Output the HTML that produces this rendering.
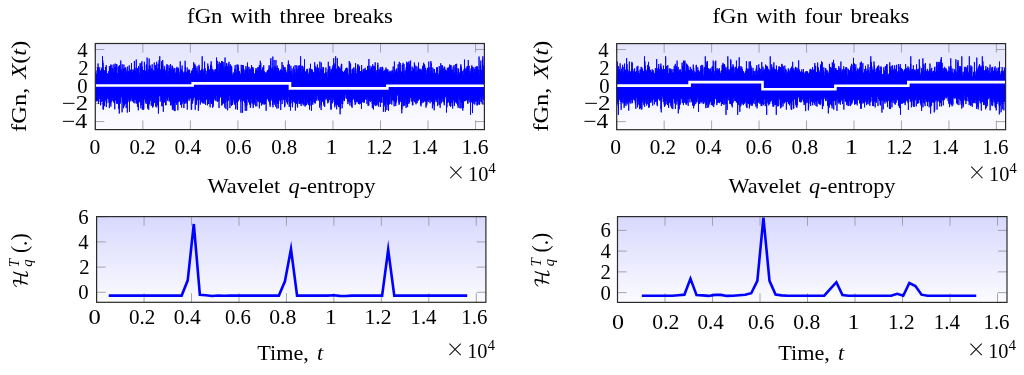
<!DOCTYPE html>
<html><head><meta charset="utf-8"><title>fGn with breaks and wavelet q-entropy</title>
<style>html,body{margin:0;padding:0;background:#fff;overflow:hidden}svg{display:block}body{position:relative;width:1024px;height:375px}</style>
</head><body>
<svg width="1024" height="375" viewBox="0 0 1024 375">
<defs>
<linearGradient id="gT" x1="0" y1="0" x2="0" y2="1">
<stop offset="0" stop-color="#e5e5fd"/><stop offset="1" stop-color="#fcfcff"/></linearGradient>
<linearGradient id="gB" x1="0" y1="0" x2="0" y2="1">
<stop offset="0" stop-color="#d8d8fe"/><stop offset="1" stop-color="#fbfbff"/></linearGradient>
<clipPath id="cTL"><rect x="95.3" y="43.5" width="389.1" height="86.1"/></clipPath>
<clipPath id="cTR"><rect x="616.7" y="43.6" width="388.9" height="86.1"/></clipPath>
<clipPath id="cBL"><rect x="96.6" y="216.6" width="389.3" height="85.7"/></clipPath>
<clipPath id="cBR"><rect x="617.5" y="216.6" width="389.5" height="85.8"/></clipPath>
</defs>
<rect width="1024" height="375" fill="#fff"/>
<rect x="95.3" y="43.5" width="389.1" height="86.1" fill="url(#gT)"/>
<path d="M95.3 129.6V120.5M95.3 43.5V52.6M142.83 129.6V120.5M142.83 43.5V52.6M190.36 129.6V120.5M190.36 43.5V52.6M237.9 129.6V120.5M237.9 43.5V52.6M285.43 129.6V120.5M285.43 43.5V52.6M332.96 129.6V120.5M332.96 43.5V52.6M380.49 129.6V120.5M380.49 43.5V52.6M428.02 129.6V120.5M428.02 43.5V52.6M475.56 129.6V120.5M475.56 43.5V52.6M95.3 121.59H104.4M484.4 121.59H475.3M95.3 103.57H104.4M484.4 103.57H475.3M95.3 85.55H104.4M484.4 85.55H475.3M95.3 67.53H104.4M484.4 67.53H475.3M95.3 49.51H104.4M484.4 49.51H475.3" stroke="#9696a0" stroke-width="0.85" fill="none"/>
<g clip-path="url(#cTL)"><path transform="matrix(0.023766 0 0 0.25 95.3 85.55)" vector-effect="non-scaling-stroke" d="M0-1l1-46 1 5 1 59 1-7 1 8 1-38 1 22 1-28 1 89 1-117 1 57 1-26 1 28 1 8 1-29 1-12 1 35 1-2 1-28 1 53 1 22 1-66 1 37 1 43 1-38 1-12 1 25 1 10 1-52 1-30 1 39 1 17 1-38 1-12 1 35 1-29 1-17 1 43 1 21 1-40 1 4 1-30 1 82 1-21 1 6 1 30 1-63 1-14 1 43 1-72 1 19 1 7 1 7 1-19 1 79 1-67 1 0 1 82 1-73 1 21 1-36 1 42 1-14 1-13 1 42 1-50 1 24 1-21 1 35 1-55 1 16 1 27 1-28 1-21 1-18 1 115 1-84 1 14 1 19 1 31 1-77 1 86 1-62 1-26 1 100 1-45 1 35 1-53 1-44 1-17 1 130 1-41 1-44 1-30 1 40 1 40 1-36 1 11 1 6 1 18 1-38 1 2 1 14 1 5 1 36 1-27 1-58 1 48 1 42 1-95 1 28 1-54 1 70 1 18 1 34 1-95 1-43 1 116 1-6 1-42 1 48 1-19 1 3 1-19 1-30 1 36 1-30 1 45 1-25 1 84 1-23 1-77 1 47 1-40 1 1 1-26 1 17 1-7 1 39 1 20 1 1 1-8 1 22 1-20 1-16 1-12 1 21 1 54 1-64 1-10 1-29 1 17 1 42 1 3 1-94 1 43 1-37 1-10 1 101 1-41 1-3 1-3 1 0 1 12 1 1 1 57 1-45 1 20 1-30 1 20 1-37 1-7 1 17 1 0 1 8 1 18 1-9 1 11 1-30 1 13 1-20 1 65 1-75 1 56 1-1 1-18 1 12 1-29 1 30 1 17 1-8 1-74 1 43 1 42 1-40 1 53 1-114 1 113 1-68 1-3 1 69 1-60 1-24 1 18 1 7 1-23 1 26 1-6 1 16 1-26 1 54 1-59 1 44 1 20 1-50 1-45 1 25 1 51 1-42 1 40 1-12 1-7 1 82 1-86 1 42 1-11 1 26 1 2 1-20 1-60 1-29 1 58 1-38 1 46 1 56 1-70 1-10 1 30 1-25 1-10 1 50 1 21 1-43 1-1 1 5 1-46 1-25 1 73 1-38 1-8 1 8 1-12 1 49 1-38 1-44 1 41 1 49 1-42 1-22 1 30 1 32 1-72 1 96 1-60 1 18 1 40 1-83 1 30 1 52 1-61 1 36 1 50 1-41 1-33 1-13 1 16 1 4 1-14 1 23 1-47 1 35 1-5 1-9 1 55 1-12 1-76 1 41 1 21 1-22 1 28 1-26 1 33 1-32 1 63 1-100 1 64 1 36 1-46 1 5 1-18 1 44 1-53 1-103 1 161 1-56 1 23 1-18 1 69 1-23 1-55 1 17 1-57 1 80 1-30 1-94 1 126 1 5 1-30 1 1 1-31 1 25 1 30 1-33 1-83 1 46 1 139 1-90 1 25 1-51 1 27 1-72 1 34 1 2 1 24 1 7 1-13 1-32 1 26 1 30 1-56 1 37 1 10 1 24 1-8 1 3 1 74 1-131 1 16 1 26 1-43 1 21 1 2 1 98 1-77 1-26 1-37 1-8 1 14 1 89 1 35 1-95 1 19 1-32 1 37 1-12 1 59 1-66 1 30 1-27 1-4 1 20 1-15 1 11 1-26 1 9 1 36 1 1 1-80 1 63 1-37 1 21 1 32 1 7 1-30 1-5 1-12 1 64 1-23 1-17 1-58 1 136 1-96 1 33 1-33 1 32 1-29 1-42 1 42 1-3 1 2 1 39 1-45 1 26 1 21 1-27 1 7 1-34 1 27 1 17 1-68 1 16 1-9 1 22 1 25 1 10 1-4 1-42 1 28 1 55 1-50 1 47 1-54 1 47 1 2 1-47 1 7 1 54 1-83 1-48 1 125 1-113 1 86 1-7 1-11 1 43 1-93 1 27 1 43 1-17 1 43 1-40 1-44 1 91 1-44 1-20 1-31 1-10 1 62 1 9 1-40 1 27 1-1 1-48 1-21 1 49 1 16 1-27 1 85 1-64 1 35 1-118 1 57 1 20 1 12 1 79 1-110 1-32 1 81 1-48 1-2 1 78 1-85 1-14 1 38 1 10 1-29 1 80 1-56 1-33 1 79 1-77 1 48 1 57 1-67 1 29 1-44 1 51 1-76 1 61 1-37 1 32 1-9 1-52 1 34 1 21 1 29 1-83 1 15 1 36 1-19 1 43 1 0 1-7 1-40 1 2 1 36 1-51 1-2 1 21 1-30 1 46 1-6 1-20 1 17 1-28 1 70 1-92 1 76 1-21 1 41 1-68 1-23 1 7 1 8 1 82 1-26 1-11 1 16 1-70 1 32 1 7 1-18 1 50 1-2 1-1 1-47 1 5 1-8 1-17 1 83 1-27 1-24 1 51 1-28 1-53 1-3 1 1 1 36 1 8 1-44 1 50 1-25 1-33 1 58 1 8 1-21 1-20 1 3 1 12 1-14 1 74 1-26 1-35 1 38 1 14 1-5 1-10 1-25 1 29 1-43 1-50 1 63 1-49 1 34 1 48 1-29 1 25 1-60 1 65 1-84 1 25 1 89 1-96 1-26 1 80 1-61 1 96 1-71 1 66 1-74 1 78 1 29 1-104 1-64 1 98 1-48 1 24 1 15 1-32 1-35 1 98 1-61 1 7 1 61 1-104 1-12 1 100 1-93 1 58 1 8 1-57 1 43 1-3 1-41 1 8 1 13 1 79 1 6 1-93 1 71 1-37 1 42 1-31 1 38 1-100 1 91 1-31 1 2 1-47 1 90 1-48 1 6 1-25 1 2 1 32 1-24 1 21 1-29 1 20 1 18 1-21 1-13 1-66 1 95 1-27 1-40 1 121 1-11 1-19 1-37 1-88 1 71 1-28 1 49 1 76 1-5 1-114 1 29 1 50 1-82 1 91 1-92 1-11 1 76 1 12 1-67 1 67 1-68 1 71 1-69 1 25 1 18 1 16 1-39 1 73 1-56 1 5 1-37 1 66 1-102 1 70 1 28 1-86 1-10 1 63 1 25 1-32 1 25 1-13 1-64 1 40 1 8 1-7 1 14 1-31 1-1 1 43 1-17 1-79 1 69 1 20 1-76 1 70 1 38 1-61 1 54 1-14 1-28 1 15 1 22 1-7 1 1 1-60 1 65 1-5 1-90 1 89 1-70 1 6 1 50 1 44 1-65 1-7 1-10 1 31 1-39 1-7 1 84 1-85 1 43 1 25 1-8 1-75 1 30 1 95 1-64 1 8 1 1 1 12 1 32 1-80 1 62 1-19 1 8 1 4 1-50 1 12 1 36 1 9 1-16 1-49 1 29 1-4 1 19 1-2 1-16 1 70 1-118 1 82 1-8 1-65 1 38 1 7 1 21 1 33 1-59 1-35 1 72 1-78 1 86 1-14 1-42 1 17 1-24 1 49 1 10 1 29 1-23 1-4 1 12 1-60 1 34 1 45 1-153 1 114 1 14 1-85 1 2 1 79 1 11 1-16 1-73 1 50 1 17 1-27 1-42 1 89 1-35 1 34 1-121 1 12 1 29 1 38 1-28 1 95 1-81 1 55 1-1 1-21 1-12 1-32 1-4 1 15 1 41 1-55 1 27 1-44 1 71 1 64 1-79 1-90 1 58 1 23 1-37 1 13 1 1 1 34 1-21 1-4 1 29 1 16 1-43 1-28 1 11 1 5 1 0 1-71 1 79 1-27 1-31 1 65 1-7 1-27 1-22 1 47 1-1 1 9 1 44 1-79 1 47 1 50 1-54 1 54 1-25 1-35 1 32 1-68 1 87 1-59 1-10 1-31 1 18 1 24 1 5 1 5 1-41 1 61 1-40 1 21 1-12 1 18 1-82 1 95 1-31 1-1 1-11 1 5 1 1 1-19 1 85 1-52 1 43 1-50 1 48 1-8 1-30 1-50 1 28 1 9 1-37 1 80 1 39 1-57 1-5 1-52 1-31 1 119 1-130 1 31 1 25 1 16 1-71 1 81 1 19 1-21 1 51 1-63 1 20 1-15 1-1 1 49 1-82 1 80 1-65 1 85 1-67 1 41 1-30 1 24 1 52 1-36 1-41 1-19 1 72 1 22 1-43 1-22 1 14 1 6 1-57 1-4 1 8 1 58 1-35 1 9 1 42 1-79 1 27 1 20 1-65 1 22 1-3 1-12 1 17 1 68 1-30 1-48 1 61 1-28 1-12 1-36 1 5 1 14 1 37 1-38 1 13 1 24 1-52 1 30 1 42 1-69 1 52 1-29 1 73 1-52 1 32 1 1 1 32 1-139 1 79 1-14 1-29 1 42 1-22 1 64 1-53 1 21 1-31 1 10 1 54 1 16 1-29 1-60 1 11 1 1 1 83 1 23 1-71 1-10 1 9 1-32 1 18 1 34 1-10 1-35 1 2 1 5 1-80 1 87 1-13 1 38 1-22 1-30 1-1 1 24 1-19 1 12 1 66 1 48 1-191 1 51 1 30 1 58 1-16 1-90 1 141 1-84 1-41 1 25 1-21 1 30 1-86 1 117 1 12 1-56 1-40 1 51 1-38 1 54 1 23 1-89 1-6 1 2 1 67 1 25 1 0 1-32 1-28 1 3 1 66 1-56 1 6 1-2 1 4 1 6 1-27 1 16 1-4 1 32 1-38 1 18 1 68 1-89 1 26 1-41 1 38 1-3 1-10 1 7 1 15 1 46 1-124 1 117 1-42 1-34 1 9 1-6 1-7 1-17 1 33 1-90 1 135 1-43 1 20 1 7 1-29 1-40 1 74 1 0 1-49 1 6 1-48 1 32 1 27 1 19 1-18 1 13 1 41 1-47 1 6 1 2 1 7 1-73 1 34 1-8 1 53 1 14 1-25 1-18 1 20 1-6 1-39 1 23 1 44 1-19 1 8 1-29 1 46 1-34 1-30 1 23 1 32 1-10 1-25 1-13 1-12 1 34 1 40 1-94 1 39 1-4 1 4 1 46 1-25 1-20 1-26 1 33 1 109 1-99 1-20 1-32 1 20 1-61 1 36 1 3 1 14 1 79 1-76 1 8 1 39 1-38 1 6 1 30 1-12 1 5 1-17 1 23 1-34 1 85 1-56 1 48 1-41 1-35 1 17 1 5 1-6 1-52 1 92 1-68 1 82 1-36 1-22 1 35 1-36 1-18 1 66 1-38 1 10 1 53 1-60 1 21 1-73 1 76 1-88 1 76 1-84 1 48 1 2 1-12 1-3 1-17 1-11 1 71 1 31 1 48 1-78 1-39 1 13 1 9 1 16 1 10 1-12 1-23 1 73 1-85 1 75 1-45 1 17 1-9 1 23 1 4 1-32 1 29 1-121 1 98 1 9 1-4 1 18 1 47 1-75 1-19 1 62 1-52 1 42 1-41 1-13 1-4 1 1 1 39 1-54 1 46 1-28 1-12 1 35 1 33 1-65 1 60 1-8 1 7 1-67 1 35 1 71 1-102 1-46 1 10 1 81 1-22 1-15 1-13 1 29 1 39 1-63 1 4 1 67 1-33 1-22 1 9 1-18 1-9 1 9 1 22 1 43 1-68 1-27 1-19 1 69 1 0 1-51 1 0 1 38 1-13 1 51 1-47 1 49 1-24 1 0 1 12 1 56 1-44 1-40 1 14 1 11 1-28 1-9 1-6 1 57 1-28 1 12 1 19 1 21 1-48 1 26 1-103 1 77 1 4 1 6 1-78 1 97 1-27 1 21 1-22 1-3 1-39 1 86 1-48 1-56 1 73 1-11 1 24 1 59 1-86 1-44 1 57 1 47 1-73 1 7 1-32 1 3 1 41 1-23 1 75 1-100 1 32 1-31 1 1 1 46 1-4 1 25 1 40 1-66 1-10 1 43 1-62 1 21 1-12 1 42 1 34 1-87 1 6 1 24 1 11 1-5 1-5 1 13 1 51 1-95 1 78 1-40 1-1 1-19 1 64 1-97 1 19 1-4 1-17 1 71 1 80 1-119 1-34 1 6 1 58 1-16 1-12 1 71 1-39 1-1 1-76 1 77 1-77 1 54 1 58 1-134 1 109 1-54 1-37 1 76 1 24 1-78 1 34 1 44 1-5 1-24 1-46 1 43 1-32 1-35 1 14 1-6 1 7 1 97 1-97 1 31 1 15 1 33 1 17 1-16 1-37 1 39 1-12 1-7 1-44 1 33 1-5 1-50 1 56 1-32 1 57 1-47 1 7 1-2 1 22 1 19 1-25 1 6 1-51 1 4 1 72 1-62 1 37 1-32 1 32 1 34 1-85 1 20 1 57 1 23 1-47 1 22 1-28 1-33 1-29 1 62 1-59 1 7 1 55 1 42 1-86 1 8 1-60 1 32 1 22 1-31 1 94 1-43 1 16 1-69 1 40 1 125 1-152 1 78 1-58 1 43 1-25 1-13 1 15 1 39 1-80 1 34 1 14 1-25 1 43 1-83 1 57 1-5 1 1 1 43 1 9 1-48 1-5 1-34 1 31 1 53 1-56 1-10 1-6 1 23 1 53 1-81 1 64 1-44 1 73 1-80 1 53 1-64 1-23 1 20 1 80 1-7 1-3 1-52 1 11 1 6 1-5 1-9 1-3 1-35 1 59 1-9 1 71 1-18 1-22 1 17 1-48 1-28 1 51 1 1 1 1 1-22 1 23 1-33 1 4 1-1 1-14 1 25 1-4 1-55 1 61 1-28 1 25 1 18 1 0 1 12 1-28 1 21 1-6 1-57 1 47 1-44 1 30 1-20 1 50 1-26 1-85 1 62 1-6 1 26 1-21 1 69 1-11 1-44 1-13 1 42 1-7 1 6 1-6 1 34 1 8 1-46 1 57 1-26 1-11 1 13 1-44 1 24 1-13 1 32 1-9 1-43 1 5 1 29 1-29 1 6 1 1 1-49 1 69 1-28 1 0 1 22 1 32 1-64 1 15 1 7 1 1 1 0 1 32 1-41 1 72 1-61 1 51 1-40 1-36 1 33 1 8 1-34 1 27 1 5 1-1 1-65 1 29 1 6 1 58 1-62 1 65 1-61 1 55 1-105 1 125 1-100 1 15 1 88 1-53 1-57 1 10 1 96 1-39 1 22 1-5 1-13 1-85 1 59 1 12 1 4 1-35 1 0 1 55 1-82 1 87 1-27 1-25 1-43 1 70 1-22 1-34 1 23 1-17 1 3 1 26 1-12 1-10 1 32 1-55 1 122 1-36 1-81 1 35 1 36 1-35 1-24 1 56 1-45 1 30 1 0 1-1 1-41 1 77 1-26 1-35 1 64 1 12 1-73 1 19 1 5 1-10 1 38 1-133 1 134 1-19 1 34 1-35 1-66 1 52 1-20 1 37 1-79 1 57 1 48 1-69 1 39 1-34 1 16 1-4 1 4 1 36 1 21 1-85 1 38 1-15 1 26 1 53 1-25 1-92 1 75 1-14 1 37 1-32 1-5 1-5 1-5 1 19 1-2 1-19 1-12 1 16 1-64 1 52 1 2 1 28 1-58 1 70 1 21 1-22 1-55 1 61 1-84 1 45 1 51 1-44 1-69 1 91 1 15 1-62 1-27 1 10 1 46 1-18 1-5 1-29 1-33 1 77 1-48 1 56 1-32 1 52 1-5 1-41 1 45 1-61 1 49 1-21 1 5 1 9 1-16 1-32 1-70 1 147 1-51 1 16 1 26 1-41 1 40 1-28 1-45 1 112 1-78 1-7 1 48 1-50 1 5 1 24 1-53 1 86 1-67 1 30 1 29 1-30 1 5 1-40 1 80 1-45 1 9 1-69 1 92 1-75 1 97 1-72 1 16 1-17 1 37 1 42 1-13 1-98 1 37 1 37 1-60 1 56 1 0 1 16 1-81 1-27 1 100 1-43 1-24 1-38 1 154 1-87 1-17 1 73 1-65 1 7 1-18 1 45 1-34 1 35 1-42 1 16 1 18 1 36 1-105 1 18 1 8 1 53 1-11 1-69 1 32 1 54 1-30 1-4 1 12 1 26 1-76 1 23 1 27 1 47 1-34 1-20 1-30 1 43 1-51 1 33 1 30 1 71 1-56 1 11 1-46 1-17 1-36 1 48 1 39 1-120 1 70 1 20 1 0 1 37 1-68 1 9 1-42 1 17 1 8 1-14 1 53 1 6 1-14 1 41 1-38 1 7 1-35 1 24 1 64 1-66 1-47 1 111 1-37 1-27 1 46 1-26 1-21 1 47 1-55 1-4 1 57 1-44 1-36 1 43 1-21 1-7 1 30 1-42 1 20 1 47 1-51 1-12 1 2 1 49 1-37 1-32 1 39 1-32 1-4 1 45 1-24 1 33 1-47 1 40 1 16 1-18 1 1 1-15 1-3 1 56 1-18 1-35 1-4 1 14 1-87 1 51 1 41 1-27 1-21 1 33 1 72 1-63 1 2 1-72 1 136 1-116 1 58 1-37 1 42 1-16 1-33 1 36 1-33 1 39 1 11 1-7 1 10 1-13 1-51 1 87 1 16 1-56 1-58 1 22 1-10 1 3 1 67 1-29 1 96 1-71 1-41 1 74 1 17 1-26 1-52 1-33 1-48 1 39 1 101 1 27 1-84 1-31 1 91 1-37 1-3 1-17 1 8 1-24 1-19 1 34 1-24 1-42 1 103 1 1 1-53 1-47 1 58 1-32 1 48 1-42 1 53 1-45 1 10 1 0 1-34 1 11 1 57 1-51 1 88 1-92 1-60 1 76 1 0 1 15 1-26 1 44 1-39 1 33 1 5 1-19 1 6 1 57 1-130 1 66 1 63 1-95 1 38 1-8 1-17 1 54 1 71 1-98 1-12 1-26 1 61 1-17 1-23 1 25 1-3 1-17 1 43 1-89 1 86 1-33 1 13 1 13 1-43 1-16 1-15 1 30 1 35 1-45 1 79 1-51 1-16 1-1 1 58 1 12 1-108 1 75 1 39 1-14 1-43 1-40 1 41 1-42 1 34 1-9 1-17 1 47 1-23 1 23 1 9 1-45 1 51 1-31 1 30 1-24 1 15 1-55 1 35 1 0 1-54 1 156 1-61 1 56 1-94 1-15 1-7 1 13 1 39 1-90 1 50 1 19 1 30 1-53 1 31 1-1 1-22 1-1 1 36 1-71 1 77 1 4 1-49 1 7 1 2 1 16 1-15 1 20 1 38 1-82 1 60 1-27 1-33 1 24 1-93 1 142 1-22 1-29 1-43 1 55 1 40 1-88 1 71 1-25 1-37 1 53 1-7 1-32 1 24 1-17 1 42 1-28 1 33 1 16 1-113 1 44 1-16 1 65 1-32 1 6 1 41 1-67 1 44 1-18 1 45 1-86 1 8 1 12 1 45 1-13 1-60 1 51 1-18 1 4 1 43 1-90 1 120 1-76 1 11 1 52 1-67 1-6 1 16 1 30 1-44 1-22 1 30 1-51 1 29 1 4 1-22 1 70 1-4 1-36 1 0 1-34 1 13 1 33 1-2 1 17 1 3 1 3 1-46 1 47 1-4 1-18 1 23 1-10 1 67 1-87 1 23 1-17 1-7 1 76 1-145 1 76 1-1 1 67 1-83 1 7 1 26 1-21 1-36 1 56 1 19 1-77 1 36 1 15 1-85 1 74 1 11 1-15 1 23 1-21 1 2 1 28 1-14 1-19 1-3 1-7 1-7 1 19 1-9 1 30 1-4 1-44 1 103 1-80 1-95 1 171 1-114 1 111 1-72 1-43 1 5 1 82 1 14 1 5 1-74 1 38 1-13 1-9 1-5 1-4 1 14 1 59 1-105 1 144 1-136 1 63 1-14 1 11 1-5 1-12 1 9 1 28 1-66 1 49 1-66 1 51 1 19 1-39 1-16 1 62 1-22 1-58 1 83 1-5 1-35 1 47 1 43 1-27 1-70 1-10 1 2 1 7 1 56 1-65 1-17 1 64 1-57 1 45 1-19 1-6 1 64 1-102 1 80 1-26 1 14 1-33 1 1 1 14 1-48 1 39 1 23 1 85 1-89 1 1 1 19 1 0 1-50 1-15 1-29 1 25 1 64 1-33 1 55 1-71 1 12 1 33 1-17 1 5 1 13 1-67 1-61 1 78 1-8 1 31 1 18 1-88 1 88 1-26 1 18 1-25 1 22 1-22 1 64 1-40 1-50 1 82 1-13 1-69 1 33 1-23 1 113 1-81 1 48 1 4 1-62 1-26 1 92 1-13 1-18 1-16 1 41 1-123 1 58 1 32 1 6 1-98 1 3 1 94 1-29 1-31 1 84 1-21 1-66 1 70 1-9 1 31 1-20 1-50 1 52 1 17 1-23 1-83 1 55 1 26 1-25 1-10 1 11 1 67 1-73 1 18 1-37 1 76 1-83 1 54 1 41 1-104 1 63 1-30 1 18 1-43 1 0 1-1 1 14 1 81 1 2 1-65 1 40 1-49 1 10 1 55 1-13 1 3 1-8 1-24 1-30 1-23 1 80 1-14 1-74 1 23 1 23 1 89 1-46 1-40 1 25 1-89 1 66 1-7 1 48 1-2 1-13 1-1 1-14 1-21 1 5 1-27 1 82 1-54 1-1 1-47 1 63 1-19 1 39 1-43 1 1 1 36 1-7 1-14 1-21 1 60 1-70 1 42 1-78 1 16 1 64 1 8 1-107 1 63 1 2 1 35 1-10 1-33 1 7 1 50 1-72 1 32 1 44 1-67 1 40 1-33 1 46 1-31 1 68 1-69 1 66 1-59 1 94 1-86 1-27 1 8 1-24 1 78 1-91 1-1 1 97 1-14 1-8 1-19 1-7 1 91 1-105 1 29 1 26 1-68 1 45 1-51 1 21 1 29 1-51 1 12 1 46 1 38 1-37 1-40 1 29 1-69 1 52 1 2 1-7 1 45 1-27 1 19 1 58 1-19 1-87 1 41 1-12 1 47 1-30 1-48 1 24 1 21 1-71 1 55 1 10 1-51 1 99 1-79 1 58 1-12 1-3 1-28 1 0 1-6 1 3 1-41 1-10 1 34 1-2 1 39 1 25 1-58 1 19 1-28 1 92 1-155 1 136 1-45 1-33 1 82 1-29 1 51 1-21 1 18 1-70 1-7 1 21 1-54 1-5 1 48 1 8 1 2 1 6 1-61 1 37 1 19 1-3 1-27 1 33 1-25 1 12 1-48 1 7 1 89 1-43 1-31 1 40 1-43 1 16 1-8 1 22 1-13 1-7 1 69 1-19 1 3 1-93 1 47 1-2 1 7 1 24 1 8 1-55 1 42 1-68 1 48 1 4 1 10 1-5 1-3 1-52 1-28 1 121 1-49 1-16 1 56 1-9 1-6 1 67 1-106 1 24 1 2 1-6 1-6 1-71 1 73 1-22 1 47 1-30 1 22 1-5 1 26 1-3 1-44 1-10 1 10 1 39 1-34 1 98 1-120 1 34 1-11 1-31 1 55 1-47 1 48 1-34 1 32 1-24 1-40 1 73 1-2 1-9 1-22 1-84 1 114 1 50 1-47 1 32 1-36 1-20 1 34 1-10 1 41 1-70 1 32 1-63 1 1 1 66 1-17 1-15 1-24 1 83 1-55 1-66 1 67 1-11 1 8 1 41 1-74 1 23 1 4 1-19 1-2 1 92 1-82 1 37 1-26 1 30 1 5 1-62 1 33 1 9 1 0 1-12 1 3 1 80 1-51 1-22 1-33 1-22 1 79 1-98 1 63 1-14 1 35 1 2 1-70 1 57 1-4 1-43 1-20 1 111 1-45 1-6 1-63 1-22 1 86 1-15 1-17 1-10 1 51 1-41 1 54 1 68 1-45 1-55 1-19 1 104 1-15 1-61 1 114 1-135 1-16 1 138 1-129 1 33 1-56 1 39 1 18 1-12 1-29 1 26 1 5 1 51 1-66 1 15 1-62 1 64 1 2 1 19 1-47 1 32 1 17 1-79 1-6 1 77 1 19 1-74 1 68 1-126 1 102 1-38 1 78 1-44 1-39 1 23 1 33 1-102 1 58 1 34 1 13 1-12 1-56 1 73 1-27 1 29 1-71 1 48 1-35 1 10 1 40 1-44 1-9 1 72 1-63 1-88 1 122 1-32 1 68 1-62 1 36 1-47 1 28 1 39 1-78 1 45 1 28 1-38 1 36 1-47 1 16 1 10 1-35 1 67 1-78 1 103 1-125 1 49 1 16 1 16 1-44 1 24 1 1 1-42 1 51 1-7 1-23 1-22 1 42 1-11 1 4 1-24 1-26 1 84 1-28 1-3 1-22 1-31 1 52 1-8 1-32 1 83 1-17 1-11 1-15 1-8 1 26 1-79 1 85 1-17 1-45 1 11 1 27 1-13 1-16 1 29 1-23 1 55 1-35 1 60 1-26 1 9 1-83 1 59 1-26 1 42 1-25 1 3 1 20 1-59 1 87 1-79 1-71 1 121 1-29 1 55 1-53 1 59 1-82 1 39 1 47 1-19 1 11 1-46 1-39 1 44 1 27 1-12 1-33 1 89 1-105 1 6 1 100 1-127 1 99 1-50 1-48 1 98 1 8 1-26 1-1 1-33 1 14 1-1 1-1 1-10 1 23 1-41 1 12 1 35 1-99 1 108 1-70 1 52 1-39 1-6 1-12 1-19 1 79 1-130 1 86 1 43 1 19 1-130 1 24 1 58 1-27 1-19 1 42 1 18 1-13 1-31 1 29 1 43 1-69 1 87 1-34 1-70 1 35 1 0 1 5 1-33 1 38 1 67 1-77 1 116 1-36 1-127 1 19 1 53 1-14 1-6 1-32 1 63 1 3 1-8 1-27 1-5 1 23 1-40 1 62 1-33 1 22 1 11 1-78 1 54 1 24 1-37 1 37 1-56 1-9 1-6 1 73 1-32 1-70 1 72 1-52 1-9 1 102 1-91 1 16 1-4 1-29 1 43 1 14 1-19 1 33 1-29 1 88 1-131 1 79 1-37 1 7 1 8 1 0 1 1 1 60 1-38 1-61 1 77 1 1 1-111 1 32 1-12 1 55 1-10 1-17 1 7 1 23 1 48 1-26 1 27 1-107 1 69 1-8 1-16 1 9 1-17 1 40 1 31 1-114 1 86 1-8 1 11 1-9 1-19 1-26 1 63 1-47 1 34 1-65 1 85 1-47 1-21 1 72 1-51 1-1 1 33 1-21 1-42 1 26 1 23 1-7 1-22 1-29 1 16 1 3 1-29 1 108 1-4 1 29 1-108 1 109 1-78 1-28 1 75 1-26 1-13 1-35 1 78 1-63 1-13 1 19 1-1 1-37 1 35 1 8 1 11 1-34 1 33 1-33 1 19 1-35 1 66 1-30 1-9 1-2 1-25 1 25 1-17 1-37 1 39 1 65 1 13 1-72 1 36 1-23 1 16 1-51 1 4 1 80 1-49 1 20 1 35 1-67 1 27 1-20 1-70 1 39 1 8 1 52 1 26 1-83 1 53 1-12 1 15 1-17 1-79 1 94 1-1 1-17 1-3 1 51 1 20 1-41 1-13 1 20 1 8 1-2 1-19 1-9 1 51 1-37 1-31 1 17 1 42 1-34 1-12 1-26 1 82 1-80 1 40 1-23 1-16 1 53 1-2 1-24 1-29 1 44 1 29 1-24 1-37 1-26 1 57 1-7 1-5 1-1 1 28 1-18 1-22 1 4 1 3 1 35 1-16 1 6 1-60 1-14 1 38 1-43 1 64 1 0 1 35 1-52 1 23 1-19 1-13 1 25 1 30 1-37 1 1 1-4 1-22 1 31 1 1 1-68 1 23 1 39 1 29 1-17 1-28 1-16 1-53 1 90 1-13 1 17 1-15 1 16 1 23 1-71 1 30 1-39 1 60 1-26 1-13 1 86 1-19 1-70 1 22 1 65 1-37 1 11 1-20 1-68 1 71 1-88 1 77 1 17 1-78 1 21 1-15 1-19 1 29 1-5 1 99 1-30 1-43 1 8 1-17 1 40 1-54 1-30 1 48 1-9 1 11 1-14 1 24 1 25 1-24 1 3 1 55 1-60 1 7 1-6 1 26 1-35 1-5 1 45 1-35 1-15 1 1 1 57 1 3 1-35 1 36 1-120 1 112 1 0 1-49 1 38 1 64 1-74 1 28 1-15 1 37 1-24 1-25 1-3 1 35 1-13 1 5 1-34 1 10 1 38 1-64 1 45 1-37 1 45 1-41 1 14 1-6 1-15 1 2 1 9 1 0 1 49 1-41 1 72 1 2 1-65 1-3 1-59 1 28 1-15 1 48 1-25 1-25 1 22 1 6 1 8 1 35 1-1 1 18 1-62 1 22 1 14 1-35 1 32 1-55 1-29 1 49 1 38 1 27 1-118 1 53 1 55 1-76 1 92 1-41 1-7 1 4 1 26 1-119 1 94 1-26 1 12 1 55 1-36 1-25 1-25 1 43 1-24 1 24 1-31 1 103 1-104 1 42 1-2 1 77 1-60 1-57 1-58 1 102 1-1 1-39 1 7 1 29 1-14 1 7 1-34 1-6 1-33 1 29 1 9 1 17 1-27 1 66 1-107 1 64 1-39 1 75 1-62 1 21 1 20 1 17 1 7 1-91 1 19 1 38 1-3 1 32 1 38 1-2 1-40 1-16 1 35 1-67 1 9 1 13 1 65 1-53 1-6 1 42 1 32 1-140 1 44 1 34 1-68 1 17 1 23 1 7 1-19 1-23 1 48 1 10 1-28 1 116 1-99 1 17 1-13 1 5 1-18 1 8 1 2 1 7 1-21 1 33 1-51 1 92 1-65 1-8 1 59 1-29 1-60 1 50 1 25 1 72 1-114 1 9 1-18 1-49 1 70 1-5 1 29 1-22 1-1 1-27 1 7 1 45 1-10 1-63 1 80 1-59 1-30 1 34 1 13 1-38 1 35 1 12 1 7 1-46 1 15 1-29 1 64 1 0 1 4 1-25 1 34 1-56 1 20 1 46 1 68 1-39 1-112 1 51 1-7 1 20 1-28 1 79 1 3 1-13 1-58 1-22 1 8 1 20 1 40 1-71 1 37 1-9 1 2 1 13 1 9 1-5 1 24 1-52 1 14 1-41 1 97 1-102 1 43 1 3 1 22 1 0 1 23 1-82 1 38 1-31 1-4 1 45 1-9 1 4 1-47 1 31 1-2 1-19 1 28 1-73 1 102 1-75 1-5 1 87 1-68 1 19 1-20 1 71 1-49 1 42 1-23 1-60 1 54 1 72 1-29 1-9 1-74 1 59 1 29 1-91 1 29 1-3 1 39 1-76 1 53 1 64 1-29 1-10 1-23 1-32 1 51 1-4 1-96 1 72 1 21 1-19 1 44 1-61 1-15 1 53 1-54 1 44 1-20 1 35 1 2 1 24 1-59 1 18 1-1 1 30 1 1 1-18 1-38 1 6 1 33 1-33 1-50 1 56 1-65 1 54 1-31 1 64 1-58 1 81 1-49 1 19 1 57 1-21 1-86 1 22 1-27 1 37 1 106 1-108 1 29 1-3 1-2 1 11 1 7 1-75 1 27 1 37 1-7 1-48 1 20 1 6 1 49 1-27 1 24 1 27 1-96 1 41 1 3 1 19 1-59 1-45 1 51 1-12 1 75 1-49 1-1 1-44 1 51 1 33 1-30 1 12 1-64 1 27 1 11 1 5 1-23 1 46 1 15 1 33 1-105 1 23 1-5 1 21 1-55 1 90 1-75 1 70 1-13 1 26 1-45 1 13 1-24 1 35 1 27 1-67 1-24 1 18 1 28 1-16 1 72 1-47 1-51 1 24 1 45 1-59 1 34 1-29 1 73 1-30 1-29 1 0 1-8 1 19 1 7 1-23 1-14 1 82 1-41 1-4 1-13 1-29 1 80 1-63 1 77 1-33 1-8 1-9 1 12 1-4 1-6 1-2 1 54 1-15 1-33 1-33 1-17 1-63 1 94 1 31 1-33 1-18 1 19 1 41 1-33 1-2 1 47 1-7 1-82 1 117 1-82 1 15 1-57 1 27 1 50 1-72 1 62 1-87 1 11 1 59 1-29 1 20 1 37 1-67 1 22 1-14 1-8 1-12 1 13 1 38 1-6 1-11 1 18 1 4 1-71 1 47 1-48 1 90 1-24 1 13 1-2 1-3 1-6 1 11 1-76 1 38 1 48 1-6 1-44 1 7 1 39 1-52 1 80 1-33 1-74 1 146 1-81 1-40 1 38 1 22 1 3 1 41 1-26 1-47 1 21 1-19 1 5 1-15 1 66 1-46 1 2 1-1 1 19 1 44 1-95 1-7 1-52 1 55 1-31 1 36 1 33 1-30 1 57 1-48 1 12 1 32 1-77 1 3 1 22 1-12 1-28 1 60 1 42 1-14 1-56 1 16 1 58 1-95 1 38 1-48 1 17 1 53 1-18 1 28 1 3 1-18 1-27 1-30 1 77 1-54 1 22 1 9 1-46 1 51 1-59 1 58 1 20 1-58 1 76 1-10 1-33 1-7 1 9 1 58 1-22 1-62 1-1 1 52 1-43 1 2 1-28 1 60 1-75 1 60 1-59 1 17 1 66 1-24 1-20 1-25 1 82 1-30 1-38 1 5 1 52 1-6 1-45 1 50 1-43 1-23 1 30 1 92 1-131 1 1 1-9 1 19 1 86 1-105 1 36 1-20 1 37 1 3 1 0 1-63 1 45 1 17 1 36 1-59 1 15 1-5 1-28 1 9 1 25 1-8 1 5 1-22 1 1 1 19 1 34 1-58 1-2 1 67 1-49 1 26 1 61 1-73 1-34 1 58 1-1 1-59 1 73 1-6 1-21 1-32 1 0 1 39 1-7 1-14 1 16 1 17 1 8 1-62 1 32 1-106 1 77 1 47 1-26 1-11 1-2 1-2 1 0 1 20 1-27 1-52 1 89 1-2 1-37 1-18 1 14 1-13 1 43 1 6 1-30 1-1 1-34 1 4 1 116 1-89 1 49 1 49 1-85 1 19 1 6 1 32 1-9 1-27 1 43 1-47 1-7 1 9 1-16 1 13 1 37 1-4 1-40 1-28 1 28 1 22 1-23 1 67 1-27 1-21 1-11 1 9 1-2 1 31 1-21 1-28 1 72 1-22 1-29 1-63 1 28 1-30 1 7 1 61 1-13 1 38 1-80 1 15 1 5 1-3 1 7 1 9 1-2 1-32 1 68 1 9 1-36 1-40 1 32 1 15 1-36 1 25 1 69 1-31 1 37 1-64 1 8 1-30 1-57 1 92 1-20 1 13 1 83 1-70 1-2 1-34 1 38 1 16 1-64 1 22 1 28 1-4 1-16 1-38 1-21 1 93 1-84 1 38 1-11 1-20 1 66 1-63 1 74 1-28 1 13 1-87 1 2 1 30 1 8 1 36 1-78 1 12 1 17 1 34 1 8 1-9 1-48 1 78 1-37 1-51 1 25 1-29 1 45 1 0 1-33 1 25 1 10 1 29 1 33 1-101 1 65 1 11 1-55 1 60 1 16 1-27 1-17 1-12 1-8 1-15 1 36 1-16 1 16 1 18 1-35 1 1 1-50 1 42 1 44 1-44 1 29 1-62 1 111 1-35 1 0 1-27 1 9 1 49 1 9 1-69 1-43 1 0 1 63 1-29 1 45 1 19 1-90 1 18 1 34 1 2 1-44 1 20 1 23 1-21 1 9 1 14 1 10 1-55 1 47 1 24 1-101 1 19 1 24 1 20 1-9 1 56 1-48 1-10 1 16 1-22 1 41 1-32 1 59 1-52 1 20 1 24 1-31 1-14 1 21 1-52 1 55 1-55 1 7 1 45 1-69 1 94 1-63 1 16 1-24 1 78 1-12 1-12 1-29 1-2 1 3 1 9 1 15 1 22 1-31 1-32 1-17 1 51 1-53 1 82 1-72 1 63 1-45 1 41 1 0 1-14 1-66 1 70 1-43 1 15 1-5 1 0 1-10 1 61 1-42 1-10 1 31 1-31 1 46 1-59 1 48 1-14 1-36 1-10 1 56 1 2 1-55 1 130 1-141 1 1 1 79 1-75 1 27 1-3 1 93 1-61 1-10 1 7 1 0 1-4 1 87 1-90 1 17 1-20 1 13 1-16 1-10 1-50 1 87 1-84 1 65 1 22 1 18 1-77 1 80 1-82 1 19 1 31 1 3 1-38 1 11 1-20 1 25 1 17 1-35 1 58 1-68 1 26 1 39 1-3 1-23 1 50 1-108 1 14 1 70 1-33 1-61 1 43 1 48 1 38 1-17 1-95 1 29 1 55 1-68 1 36 1 10 1-4 1-2 1-72 1 88 1-18 1-59 1-6 1 84 1-103 1 33 1 87 1-111 1 111 1-73 1 62 1 21 1-89 1 15 1 17 1-10 1 10 1 6 1 27 1-56 1 19 1 9 1 11 1-10 1 42 1-41 1 23 1-77 1 76 1-17 1-16 1-26 1 11 1 15 1-72 1 74 1-12 1-82 1 123 1-63 1 18 1 60 1-24 1-49 1 77 1-43 1-38 1 40 1-17 1 32 1-2 1 0 1-9 1-33 1 18 1-64 1 48 1 10 1-67 1 80 1 23 1-32 1 42 1-55 1-28 1 24 1 36 1-9 1-21 1-24 1 54 1 0 1-51 1 30 1-5 1-4 1 42 1-21 1-41 1 41 1 2 1-17 1-3 1-74 1 114 1-32 1-64 1 68 1-12 1 62 1-82 1 3 1 2 1 34 1-19 1 15 1-31 1 29 1-27 1 72 1-34 1 86 1-92 1-31 1 35 1-89 1 113 1-22 1 20 1-14 1-1 1 34 1-17 1-102 1 78 1-40 1 74 1-39 1-22 1 24 1 11 1-11 1-7 1-27 1-13 1 86 1 25 1-64 1-6 1-24 1-12 1 59 1-93 1 61 1 69 1-93 1 23 1 0 1 64 1-44 1-16 1 11 1-28 1-20 1-9 1 9 1 48 1-64 1 50 1-20 1 37 1 39 1 30 1-83 1 29 1-23 1-31 1 83 1 8 1-69 1-4 1 22 1 9 1 36 1-51 1 22 1-40 1-17 1 51 1-33 1 8 1-18 1-28 1 29 1-1 1-3 1 41 1-14 1-12 1-30 1-2 1-33 1 114 1-36 1 58 1-41 1 38 1-96 1 14 1 62 1-48 1-13 1-34 1 31 1 24 1 7 1-24 1 11 1 26 1 25 1-77 1 60 1-15 1-36 1 29 1-41 1 77 1-64 1 71 1 6 1-16 1-39 1 27 1 24 1-88 1 74 1-29 1-13 1 25 1-28 1-9 1 24 1-39 1 56 1 16 1-43 1 40 1-46 1 16 1 13 1-36 1 2 1 119 1-90 1-16 1-12 1 36 1 20 1-43 1-19 1 93 1-19 1-31 1 68 1-68 1-48 1 64 1-41 1 35 1-44 1-8 1-22 1 41 1-33 1 22 1 30 1-66 1 70 1-26 1-77 1 53 1 58 1-38 1 29 1-14 1 46 1-58 1 60 1-66 1 0 1-16 1-47 1 133 1-16 1-7 1-15 1-49 1 42 1 8 1 19 1-17 1-7 1-11 1 45 1-46 1-22 1 7 1 55 1-71 1 1 1 17 1 52 1 8 1-51 1 36 1 11 1-76 1-1 1 9 1-23 1 14 1 71 1-79 1 35 1-11 1-39 1 39 1-39 1 52 1 15 1 11 1-19 1 53 1-56 1 2 1 14 1 58 1-2 1-98 1 57 1-80 1 71 1-36 1 62 1-28 1-14 1-28 1-38 1 25 1 83 1-50 1 6 1 16 1-42 1-34 1 70 1-54 1-10 1 84 1-97 1 3 1 48 1-49 1 50 1-30 1 17 1 52 1-39 1 15 1 11 1 22 1-12 1 15 1-81 1 106 1-70 1 24 1 22 1-68 1 52 1-68 1 47 1-17 1 15 1-26 1-10 1 47 1-15 1-60 1 80 1-82 1 75 1 6 1 39 1-29 1 31 1-40 1-44 1 26 1 19 1 14 1-11 1 26 1-7 1-110 1 59 1 39 1-54 1-28 1 73 1-18 1 39 1 12 1-102 1-70 1 142 1 31 1-105 1 13 1 20 1-34 1 62 1-21 1-18 1 38 1-27 1 24 1-24 1 11 1 73 1-71 1 52 1-20 1 28 1-85 1 39 1 2 1-56 1 19 1 31 1 64 1-93 1 31 1 4 1-38 1 47 1-19 1-33 1 11 1 40 1-71 1 11 1-26 1 67 1-9 1-29 1 21 1 10 1 8 1 7 1 12 1 0 1-36 1 24 1 38 1-50 1-55 1 10 1 116 1-40 1-56 1 24 1 0 1 7 1-6 1 37 1-76 1 77 1-31 1-58 1 16 1 37 1 0 1 20 1-3 1-9 1-54 1 61 1-35 1 5 1 1 1 23 1-34 1 19 1 2 1 20 1 57 1-98 1-1 1 43 1-12 1-15 1 42 1-57 1 0 1-5 1-2 1 96 1-83 1 33 1-53 1 2 1 8 1 31 1-98 1 97 1 34 1-69 1 82 1-114 1 30 1-10 1 9 1 22 1 59 1-25 1-40 1 26 1-19 1 36 1 3 1-37 1-15 1 25 1 34 1 23 1-125 1 107 1-9 1-5 1-55 1 56 1-44 1 9 1 49 1-44 1 46 1-36 1-30 1 33 1 23 1-17 1-7 1-18 1 89 1-15 1-79 1 21 1-5 1-6 1 12 1 10 1-19 1-19 1 12 1 10 1 36 1-43 1 47 1-16 1-28 1 1 1-33 1 7 1 14 1 27 1-10 1 7 1-67 1 44 1 37 1 7 1-71 1 72 1-42 1 6 1-30 1 66 1-46 1 9 1-20 1-19 1 43 1 11 1-38 1 78 1-54 1 39 1 8 1 12 1 3 1-84 1-2 1 26 1-31 1 34 1 18 1 19 1-62 1-2 1-15 1 70 1-18 1 36 1-84 1 15 1 6 1 18 1 4 1 8 1-49 1 58 1-52 1 21 1 43 1 15 1-22 1-25 1 42 1-65 1-17 1 20 1 76 1 22 1-109 1-21 1 64 1-31 1 26 1 13 1-55 1 52 1-47 1-30 1 62 1-67 1 108 1-76 1 31 1-87 1 86 1 28 1-82 1 107 1-67 1 41 1-73 1 51 1-33 1 31 1 36 1 36 1-134 1 52 1 48 1-29 1-44 1 84 1-128 1 86 1 4 1-56 1 36 1 42 1-66 1 16 1-23 1 70 1 7 1-60 1 36 1 59 1-53 1-42 1 46 1-68 1 61 1-14 1 52 1-28 1-21 1-26 1 14 1-30 1 110 1-75 1 6 1 31 1-35 1 24 1-40 1 27 1-29 1 48 1-74 1 29 1-47 1 66 1 12 1-22 1 21 1 20 1-37 1 3 1 20 1-9 1 20 1-38 1 51 1-104 1 57 1-31 1 73 1-53 1 17 1-39 1 4 1 86 1-95 1 90 1-97 1 48 1 39 1-65 1 23 1 35 1-9 1-41 1 63 1-17 1-94 1 90 1-39 1-2 1-18 1 3 1 117 1-70 1-58 1 68 1-90 1 54 1 51 1-62 1-47 1 90 1-42 1 49 1-10 1-24 1-14 1 6 1 5 1-76 1 120 1 27 1-83 1 12 1 56 1-109 1 84 1 24 1-63 1-7 1-59 1 134 1-9 1-35 1 6 1-13 1 22 1 30 1-39 1-40 1-2 1 49 1-41 1 5 1 31 1-5 1-14 1-95 1 91 1 36 1-25 1 14 1-59 1 114 1-36 1-67 1 14 1 14 1-24 1 71 1-59 1 52 1 5 1-62 1 45 1-15 1-34 1 58 1-57 1-57 1 85 1-41 1 7 1 70 1 4 1-48 1 74 1-75 1-7 1-8 1 1 1-31 1 58 1-58 1 28 1 0 1 24 1-39 1 59 1-51 1-13 1 61 1 10 1-7 1-24 1-14 1-18 1-35 1 9 1 47 1 23 1 28 1-70 1 10 1 28 1-4 1-2 1 86 1-88 1-13 1 15 1 33 1-38 1-15 1-46 1 25 1 17 1 22 1 45 1-31 1 32 1-44 1-41 1 1 1 5 1 30 1-33 1 44 1 58 1-73 1 4 1 62 1-42 1 66 1-68 1-59 1 65 1-68 1 37 1 34 1 36 1-88 1 3 1 75 1-37 1-53 1 64 1-39 1 81 1-36 1-57 1 66 1 9 1-1 1-36 1 42 1-51 1-23 1-34 1 67 1-70 1 37 1 27 1-26 1-34 1 0 1 26 1 29 1-32 1 22 1 1 1-3 1-54 1 105 1-39 1 35 1-68 1-8 1-9 1 59 1-14 1-25 1 21 1-4 1 3 1-2 1 13 1-19 1 66 1-36 1 31 1-43 1 22 1-44 1-25 1 87 1-16 1-38 1-39 1 23 1 12 1 17 1 13 1-28 1-4 1 11 1 26 1 36 1-27 1-16 1 27 1-51 1 60 1-38 1-23 1-16 1 20 1-34 1 63 1 6 1-65 1 68 1-25 1 55 1-99 1 14 1 51 1 35 1-70 1 0 1-31 1-24 1 56 1 16 1 0 1 3 1 36 1-16 1-28 1 54 1-11 1-88 1 65 1-50 1-11 1 38 1-28 1 34 1 24 1-26 1-6 1-2 1 2 1 16 1-51 1 44 1 7 1-46 1 67 1-35 1-51 1 49 1-47 1 58 1 8 1-12 1 14 1-7 1 3 1-43 1 14 1 21 1 18 1-136 1 118 1-56 1 89 1-15 1-68 1 80 1-1 1-34 1 23 1-15 1-16 1-24 1 23 1-3 1-36 1-3 1 61 1 51 1-29 1-71 1 53 1 8 1-9 1-70 1 53 1 14 1 12 1 13 1-135 1 99 1-7 1 16 1-47 1 71 1 32 1-47 1-31 1-66 1 80 1 27 1-22 1 19 1 0 1-30 1-7 1 33 1-60 1 40 1-7 1 22 1-30 1-2 1-8 1 50 1-49 1 41 1-23 1-22 1-27 1 68 1 22 1-43 1-37 1 54 1-96 1 149 1-117 1 12 1 2 1 67 1-76 1 7 1-3 1 51 1 0 1-53 1 33 1 24 1 17 1-38 1 56 1-67 1 15 1 59 1-70 1-25 1 32 1 55 1-25 1-50 1 74 1-32 1-52 1 49 1 10 1-48 1-27 1 41 1 60 1 10 1-47 1 53 1-59 1-34 1 123 1-86 1-17 1 30 1-32 1-4 1-19 1-57 1 82 1 42 1 5 1 7 1-67 1 13 1-5 1 9 1-48 1 18 1 2 1 59 1-13 1 34 1-22 1-26 1 46 1-21 1-91 1 76 1 45 1-9 1-40 1-32 1 32 1-33 1 20 1 49 1-74 1 51 1-81 1 86 1-16 1 14 1-9 1-25 1 22 1-48 1 27 1-40 1 52 1-42 1 3 1 46 1-93 1 36 1 33 1 26 1-4 1 3 1-16 1 49 1-41 1 23 1-79 1 31 1-31 1-25 1 66 1-53 1 56 1-8 1 54 1-35 1-47 1 32 1 30 1-13 1 26 1-2 1 26 1-88 1 1 1 41 1 43 1-38 1-78 1 115 1-28 1-1 1-44 1 71 1-53 1 38 1-16 1 29 1-60 1 35 1 4 1-59 1 26 1-69 1 67 1 11 1-1 1-91 1 52 1 53 1-21 1 29 1-41 1 40 1 2 1-34 1-32 1 18 1 3 1 25 1 84 1-77 1 1 1-25 1-42 1 34 1 86 1-61 1 9 1-32 1 26 1 64 1-34 1-20 1 59 1-66 1 6 1-47 1 41 1 17 1-17 1-5 1-33 1 67 1 45 1-173 1 69 1 25 1-83 1 124 1-12 1-13 1-32 1 33 1-43 1 39 1-57 1 29 1 74 1-57 1 39 1-35 1-5 1-77 1 86 1 47 1-59 1 44 1-104 1 39 1-30 1 69 1 22 1-46 1 58 1-15 1-7 1-21 1 48 1 19 1-122 1 69 1-13 1-27 1 6 1 38 1-8 1-71 1 12 1 18 1-32 1 123 1-70 1 14 1 57 1-78 1-11 1 13 1 72 1-55 1-15 1 16 1-19 1-7 1-32 1 41 1-84 1 84 1-2 1-17 1 29 1 9 1-54 1 117 1-12 1-135 1 47 1 7 1 8 1 1 1 43 1-23 1 25 1-76 1 18 1 14 1-5 1 18 1 36 1-100 1 37 1 28 1-26 1-24 1 3 1 18 1-6 1 37 1-55 1 14 1 0 1 79 1-68 1-1 1-5 1 119 1-25 1-75 1 43 1-47 1 17 1-33 1 49 1 18 1-55 1 28 1 31 1 28 1-179 1 123 1-4 1 60 1-33 1-30 1-17 1-16 1 54 1-43 1-24 1 58 1-15 1 61 1-35 1 20 1-72 1 30 1-62 1 49 1-22 1 10 1 11 1 45 1-96 1 62 1 61 1-44 1 18 1-80 1 5 1-18 1-23 1 100 1 44 1-33 1-48 1 110 1-74 1-51 1 60 1-26 1 28 1-94 1-8 1 105 1-6 1-34 1-21 1 10 1-9 1-12 1-8 1-24 1 60 1 22 1-14 1-82 1 49 1 4 1-22 1 4 1-41 1 113 1-36 1-20 1-2 1 43 1 44 1-48 1 15 1-21 1-42 1 14 1 66 1-14 1-34 1-33 1 43 1-10 1 61 1-36 1 11 1-35 1 17 1 22 1 7 1-46 1 31 1-63 1 35 1 15 1-42 1 75 1-75 1 58 1-51 1 50 1 10 1 32 1-67 1-16 1 67 1-113 1 64 1 39 1-109 1 84 1-66 1 152 1-177 1 70 1 7 1-12 1 53 1-74 1 17 1 4 1 32 1 21 1-54 1-16 1 24 1 12 1 11 1-43 1-26 1 56 1 25 1-117 1 142 1-64 1 13 1-50 1 51 1 54 1-19 1-44 1 5 1 23 1-4 1 35 1-3 1-30 1 2 1-19 1 37 1-97 1 117 1-93 1 11 1-36 1 7 1 95 1-59 1-15 1-6 1 15 1 38 1-65 1 49 1 13 1-24 1 23 1 7 1-27 1-89 1 81 1 9 1 18 1-28 1 54 1-59 1 8 1 6 1-13 1 24 1-31 1 5 1-1 1 19 1-30 1 37 1-52 1 49 1-48 1 36 1 10 1 34 1-58 1 10 1 11 1-13 1 10 1 37 1 9 1-64 1 16 1-47 1-17 1 41 1 7 1 2 1 17 1 26 1 70 1-120 1 7 1 19 1-3 1-30 1 2 1 26 1 15 1-30 1-7 1-49 1 109 1-49 1 48 1-15 1-98 1 97 1-10 1 16 1-51 1 45 1 44 1-64 1-24 1 30 1-6 1 30 1 9 1-34 1 41 1-25 1 20 1-27 1-36 1 29 1-41 1 27 1 18 1 27 1-35 1 44 1-67 1 74 1 1 1-19 1 29 1-62 1 31 1-11 1-38 1 99 1-69 1-21 1-23 1 31 1 28 1-56 1 0 1-45 1 2 1 83 1-56 1 41 1 43 1-60 1-22 1 129 1-129 1 76 1-86 1 48 1 3 1-44 1 61 1-85 1 107 1-12 1 17 1-57 1 21 1-30 1-11 1 11 1-10 1 0 1 41 1 23 1 9 1-61 1 45 1 15 1-4 1-22 1-16 1 17 1 28 1-55 1 97 1-67 1-47 1 27 1-32 1 38 1-17 1 19 1 17 1-29 1-20 1 103 1-40 1 45 1-41 1 13 1-28 1-7 1-44 1-9 1 71 1-11 1-39 1 45 1-9 1 51 1-90 1 16 1 43 1 13 1-9 1-53 1 32 1 26 1-31 1-42 1-14 1-3 1 42 1-4 1-2 1-13 1 3 1 54 1-8 1-12 1-38 1 42 1 9 1-63 1-15 1 83 1-27 1-45 1 54 1-46 1 82 1-42 1-31 1-30 1 20 1 90 1-3 1-24 1-59 1 4 1-13 1 14 1 44 1-7 1 18 1-60 1 73 1-46 1-6 1-35 1 70 1-41 1 49 1-71 1 49 1-2 1 23 1-12 1 1 1-1 1-62 1 75 1-43 1-21 1 69 1 35 1-91 1 74 1-31 1-23 1-13 1 19 1 15 1-59 1 26 1-59 1 99 1-29 1-1 1-21 1 11 1 7 1-67 1 74 1-21 1 9 1 27 1-47 1 91 1-105 1 94 1-43 1-14 1 20 1 1 1-60 1-41 1 47 1 30 1 28 1 5 1-69 1 11 1-15 1 11 1-11 1 67 1 6 1 8 1-34 1 6 1-11 1 46 1-48 1-22 1 25 1 97 1-93 1 12 1-45 1 38 1-28 1 36 1-25 1-22 1 43 1-21 1 6 1-16 1 25 1-20 1 79 1-55 1-36 1 5 1 57 1-6 1-41 1 1 1-4 1 14 1-1 1-33 1 68 1 16 1-83 1 62 1-50 1 47 1 14 1-91 1 56 1 46 1-41 1-2 1 2 1-13 1 45 1-30 1-25 1-6 1 19 1 30 1 40 1-118 1 89 1-23 1-16 1-15 1 17 1 27 1-27 1-73 1-14 1 93 1-30 1 83 1-68 1-17 1 35 1-73 1 32 1 9 1 111 1-69 1-45 1 41 1 44 1-41 1-72 1 29 1-6 1 23 1-49 1 151 1-55 1-107 1 30 1 28 1 20 1 50 1-47 1-10 1 27 1-79 1 12 1 45 1-41 1 32 1-10 1 25 1-101 1 136 1-46 1-41 1 1 1 91 1-24 1-29 1 24 1-4 1-14 1-4 1-43 1 96 1-94 1 44 1-28 1 32 1-93 1 143 1-103 1 56 1-7 1-57 1 56 1-38 1-19 1 70 1-90 1 26 1 51 1-15 1 32 1-35 1-20 1-4 1 27 1 25 1 4 1 11 1-23 1-30 1 40 1 4 1 13 1-56 1 28 1 47 1-94 1 2 1 36 1 12 1-10 1 30 1-66 1-13 1 12 1 27 1 0 1-10 1-40 1 86 1-27 1 23 1 18 1-53 1-27 1 75 1-70 1 10 1 7 1-30 1 69 1-78 1 68 1-31 1 71 1-86 1 32 1 21 1 16 1-42 1-39 1 27 1 30 1 15 1 9 1-24 1 44 1-42 1-51 1 40 1 3 1 15 1-45 1 3 1-27 1 73 1 14 1-17 1 21 1-40 1 13 1 15 1-28 1-36 1 10 1 46 1-23 1-10 1-11 1 34 1 32 1-56 1 46 1-21 1-4 1-40 1 47 1-21 1 13 1 11 1-49 1 46 1-32 1 7 1 73 1-7 1 51 1-118 1 1 1 27 1 0 1-7 1 11 1-20 1 0 1 29 1-79 1 14 1 48 1-88 1-10 1 42 1 1 1 61 1-9 1 43 1-40 1-47 1 47 1 43 1-112 1-12 1 15 1 104 1-80 1 56 1-23 1-29 1-29 1 74 1-9 1 31 1-43 1 33 1-16 1-43 1 26 1-4 1-6 1-18 1-20 1 88 1 15 1-73 1-6 1-24 1 21 1-33 1 42 1 40 1-57 1 65 1-7 1-37 1 23 1-41 1 45 1-76 1 98 1-60 1 41 1-65 1 68 1-46 1 135 1-83 1-82 1 50 1 4 1-28 1-52 1 120 1-35 1 13 1-40 1 49 1 29 1-1 1-76 1 16 1-22 1 84 1-24 1-12 1-48 1 14 1 21 1 29 1-41 1 22 1-46 1-30 1 56 1 43 1-121 1 60 1 3 1 15 1-2 1 3 1-6 1 60 1-27 1-21 1-8 1-2 1-8 1 77 1-29 1-10 1-28 1 11 1-74 1 81 1-5 1 45 1-116 1 60 1 7 1 18 1-25 1 15 1-54 1 69 1-12 1 3 1-39 1 9 1-22 1 15 1-1 1 18 1-30 1 15 1 5 1 67 1-39 1 7 1 39 1-107 1-5 1 12 1 18 1-31 1 108 1-101 1 113 1-75 1 2 1-14 1-5 1-2 1 49 1-1 1 6 1-33 1 16 1 43 1-88 1 72 1-22 1 9 1 0 1-46 1 44 1 25 1-26 1 13 1 17 1-84 1-8 1 89 1-104 1-9 1 111 1-62 1 24 1-38 1 129 1-122 1 34 1-29 1-14 1 111 1-79 1-2 1-20 1-19 1 13 1 53 1-51 1 50 1-52 1 32 1 0 1-10 1 59 1-44 1 30 1-73 1-11 1 93 1 27 1-85 1 28 1 12 1-110 1 92 1 21 1-25 1-20 1-44 1 44 1 53 1-26 1-80 1 123 1-58 1-42 1 31 1 16 1 24 1-36 1-13 1 10 1-27 1 28 1-37 1 39 1-26 1 42 1-71 1 17 1 19 1 58 1-41 1 108 1-89 1-18 1 36 1-36 1-17 1-39 1 61 1 54 1 27 1-75 1-36 1-8 1 35 1 26 1 2 1-20 1-8 1-17 1 16 1-64 1 63 1-12 1-18 1 3 1 55 1 33 1-11 1-57 1-8 1 8 1-15 1-17 1 71 1-115 1-3 1 65 1 32 1-15 1 57 1-49 1 29 1-25 1 8 1-82 1 100 1-40 1 25 1-68 1 17 1 89 1-18 1-44 1 31 1-37 1 13 1 40 1-27 1-27 1 19 1-7 1-8 1 17 1-50 1 89 1-59 1 34 1-32 1-15 1 7 1-1 1-3 1 8 1 26 1-33 1-9 1 4 1 20 1 0 1 78 1-40 1-21 1-41 1-7 1 36 1 44 1-56 1-17 1 8 1 50 1 13 1-6 1 6 1-71 1 23 1-63 1 17 1 22 1 59 1-47 1 8 1 63 1-4 1-18 1-69 1 57 1 34 1-51 1-17 1 62 1-107 1 91 1-62 1 13 1 49 1-21 1-5 1 13 1-38 1 24 1 61 1-63 1 43 1-31 1-16 1 12 1-39 1 37 1 16 1-75 1 31 1 30 1-5 1 15 1-17 1 36 1-94 1 18 1 120 1-44 1-32 1 21 1 51 1-97 1 65 1-65 1 8 1-37 1 84 1-94 1 105 1-94 1 15 1 22 1 52 1-93 1 28 1 85 1 32 1-66 1 6 1-54 1 20 1-6 1 28 1-50 1 52 1 33 1 31 1-101 1 39 1 38 1-29 1-17 1-37 1 97 1-59 1-40 1 9 1-12 1-40 1 98 1-9 1-58 1-19 1 44 1 23 1 29 1-62 1 9 1 50 1-19 1 15 1-54 1 25 1-48 1-3 1 35 1-30 1 5 1-16 1 68 1-38 1-42 1 41 1 37 1-23 1-71 1 93 1 8 1-53 1 44 1 41 1 1 1-56 1 23 1-73 1 72 1 27 1-21 1 16 1-84 1 68 1-79 1 32 1-51 1 74 1-33 1 102 1-56 1 9 1-65 1 44 1-28 1 48 1 20 1-42 1-48 1 47 1-56 1 66 1 1 1 0 1-4 1 15 1-15 1 20 1 7 1-88 1 22 1 41 1 10 1 34 1-75 1 44 1-91 1 128 1-73 1-30 1 61 1-89 1 35 1 1 1 64 1-66 1 1 1 30 1-58 1 51 1 91 1-91 1-49 1 82 1-47 1 48 1-22 1 94 1-31 1-53 1 10 1 45 1-89 1 12 1 43 1 41 1-92 1 38 1-43 1-14 1 52 1-4 1-34 1 35 1 60 1-89 1 10 1 31 1-38 1 32 1 1 1-42 1 76 1 8 1-51 1 41 1-76 1 56 1 35 1-47 1 64 1-125 1 49 1-25 1 5 1 11 1 44 1-64 1 39 1 15 1 45 1-116 1 53 1 6 1 52 1-99 1 36 1-39 1 37 1 28 1-49 1 74 1 0 1-52 1-28 1-13 1 42 1 1 1-12 1 15 1 10 1-35 1 35 1-10 1-49 1 34 1 26 1-43 1 29 1-28 1 53 1-3 1 23 1-88 1-10 1 7 1 29 1 6 1 15 1-29 1 27 1 29 1-70 1 4 1 13 1 20 1 11 1-16 1-4 1 47 1-24 1 20 1-75 1 86 1-5 1-12 1-36 1 38 1-92 1 35 1 108 1-91 1-4 1 56 1-41 1-6 1 25 1-18 1-15 1 29 1-15 1 39 1-63 1 43 1-63 1-29 1 13 1 73 1-30 1 23 1-24 1 44 1 6 1-33 1 26 1-70 1 18 1 13 1 17 1 0 1-39 1 31 1 2 1-64 1 60 1 13 1-1 1-51 1 60 1 0 1-54 1-3 1-8 1 78 1-45 1 35 1-34 1 69 1-48 1-44 1 30 1 90 1-117 1 22 1 22 1-10 1 11 1-51 1 41 1 54 1-26 1-85 1 17 1 12 1 54 1-46 1-17 1 32 1-21 1-14 1 3 1 20 1 0 1 58 1-32 1-39 1-30 1 52 1-31 1 37 1 34 1-48 1-1 1 46 1-1 1-31 1 19 1-35 1 64 1-75 1 50 1-34 1 66 1-86 1 25 1-65 1 130 1 5 1-87 1-6 1 92 1-80 1-14 1-16 1 44 1 57 1 14 1-139 1 58 1-20 1 45 1-3 1-1 1 26 1-23 1 29 1-24 1-53 1 37 1 25 1-83 1 14 1 44 1 61 1-104 1-1 1 65 1-69 1 78 1-20 1 7 1-22 1 11 1-54 1 61 1-27 1 14 1-7 1 37 1-28 1-49 1 20 1 69 1-27 1 21 1-10 1-3 1 20 1-58 1-15 1 26 1 22 1-22 1 31 1-62 1-44 1 172 1-105 1 12 1-6 1 17 1 42 1-49 1 11 1-9 1-3 1 15 1-96 1 122 1-29 1 30 1-38 1-59 1 55 1 27 1 17 1-64 1 43 1-46 1 45 1-5 1-16 1 54 1-98 1 81 1-45 1-10 1-65 1 64 1-12 1 46 1-13 1-4 1-37 1 71 1-48 1-85 1 132 1 30 1-46 1-13 1-62 1 41 1-23 1 64 1-23 1-12 1 39 1-39 1 20 1-18 1 56 1 22 1-117 1 45 1 5 1-92 1 54 1 19 1 38 1-35 1 4 1 17 1-58 1 23 1 7 1 47 1-4 1-62 1 30 1 27 1-30 1 10 1 15 1-8 1-33 1 15 1 41 1-4 1-36 1 46 1-40 1 9 1 40 1 38 1-53 1-29 1 0 1-43 1 43 1 3 1-15 1 27 1-74 1 79 1 10 1-12 1-59 1 61 1 7 1-46 1-21 1 55 1-38 1 46 1-70 1 85 1-28 1 6 1 17 1-29 1-26 1 52 1-94 1 57 1-3 1 38 1-24 1-33 1 65 1-11 1 5 1 16 1-66 1 49 1-84 1 100 1-32 1-13 1 36 1 39 1-51 1-21 1 31 1-41 1 73 1-74 1-62 1 39 1-1 1 46 1 2 1-53 1 50 1-33 1 55 1-46 1 7 1 82 1-72 1-23 1 0 1 6 1-31 1 46 1 24 1-57 1-42 1 85 1-64 1 58 1 45 1-20 1-2 1-69 1 36 1 23 1-23 1-44 1 51 1 22 1-37 1 41 1-46 1-17 1 28 1 21 1-19 1 53 1-103 1-27 1 80 1 72 1-48 1 27 1 14 1-59 1 1 1 16 1-60 1 37 1 35 1-48 1 57 1-31 1 17 1-39 1 19 1 11 1-29 1-7 1 8 1-30 1 74 1-50 1-43 1 57 1 76 1-109 1 40 1-29 1 13 1-12 1-21 1 38 1-23 1 72 1-14 1-27 1-58 1 82 1-16 1-35 1 41 1 27 1 23 1-95 1 66 1-51 1-6 1 52 1-49 1 89 1-70 1 32 1-44 1 1 1 1 1-15 1 43 1 28 1-7 1-77 1 70 1-24 1-24 1 18 1 28 1 39 1-105 1 52 1 36 1-34 1-23 1 69 1-72 1 4 1-15 1 15 1 34 1 22 1-49 1 11 1-70 1 62 1-24 1 12 1 63 1-86 1 41 1 34 1-64 1-28 1 47 1 5 1 13 1-8 1-52 1 35 1-12 1-5 1 120 1-106 1-14 1 12 1 59 1-24 1-50 1 9 1-1 1 54 1-48 1-41 1 48 1-44 1 16 1 2 1 51 1-1 1 1 1-62 1-4 1 78 1 9 1-48 1-41 1 36 1-13 1 5 1-3 1 25 1-21 1-7 1 27 1-61 1 93 1-23 1 16 1-65 1-1 1 62 1-28 1 18 1 31 1-19 1-38 1-8 1 44 1-25 1-28 1-19 1 35 1 40 1 26 1-56 1 12 1 10 1 3 1-4 1-24 1-18 1 51 1-91 1 14 1 57 1-19 1-41 1 83 1-10 1-1 1 14 1-59 1 32 1-11 1 1 1 9 1-58 1 57 1 24 1 17 1-23 1-30 1 1 1-4 1 24 1-29 1-1 1 56 1-54 1-1 1 24 1-47 1 35 1 28 1-58 1-28 1 99 1-36 1-33 1 9 1-13 1-10 1 105 1-84 1 78 1-23 1 5 1-53 1 73 1-60 1 55 1-119 1 85 1-17 1 39 1-20 1-64 1 36 1 48 1-23 1-11 1-65 1 63 1-19 1-20 1-46 1 59 1 59 1-3 1-92 1 44 1 80 1-48 1-2 1-4 1-34 1-1 1-22 1 110 1-75 1 17 1 30 1-65 1 74 1 2 1-103 1 41 1-14 1-17 1 89 1-91 1 44 1-15 1-9 1 5 1 35 1-12 1-7 1-30 1 112 1-124 1 80 1-107 1 58 1-43 1 68 1-67 1 44 1 0 1-1 1 101 1-34 1 4 1-58 1 10 1-35 1 16 1-31 1 67 1-36 1 29 1 23 1 21 1-58 1 29 1-14 1 15 1 5 1-135 1 96 1 46 1-38 1-7 1 51 1-87 1 68 1-49 1 34 1 12 1-139 1 132 1 32 1-35 1 17 1-72 1 22 1 56 1-101 1 68 1 38 1-83 1 15 1 58 1 4 1-34 1 18 1-42 1 9 1 51 1-4 1-29 1-53 1 67 1-43 1 43 1-37 1 35 1-35 1 46 1-5 1-93 1 35 1 75 1-84 1 47 1-53 1 94 1-43 1 11 1 10 1 16 1-108 1 67 1 11 1 47 1-97 1 0 1 45 1 42 1-68 1 20 1 50 1-123 1 47 1 60 1-6 1-56 1-14 1 21 1 2 1 31 1-85 1 81 1-17 1-6 1 23 1-37 1-27 1 131 1-70 1-51 1-5 1 65 1-39 1 16 1 2 1 27 1-57 1-7 1-14 1 46 1 5 1-35 1-76 1 123 1-5 1-64 1 101 1 48 1-122 1-14 1 2 1 11 1-3 1 62 1-61 1 71 1 20 1-46 1 37 1-7 1-15 1-8 1-20 1 41 1-15 1-15 1-11 1-11 1-10 1 18 1-7 1-8 1 24 1-7 1 38 1-40 1-26 1 57 1-68 1 63 1-55 1-21 1 50 1 22 1-29 1 29 1 18 1-68 1 103 1-98 1 58 1-59 1 50 1-81 1 81 1 60 1-179 1 100 1 6 1-4 1 11 1-22 1 37 1-102 1 100 1-47 1-24 1 54 1-38 1 49 1 16 1-6 1-66 1 1 1 68 1-67 1 67 1-38 1-17 1 95 1-93 1 32 1 41 1-75 1 14 1-2 1 22 1 14 1 22 1-38 1 29 1-21 1-30 1-13 1 13 1 5 1 19 1-42 1-8 1 58 1-2 1 19 1-24 1 5 1-83 1 21 1 94 1-74 1 35 1 52 1-69 1 32 1-34 1-7 1 40 1-74 1 47 1 32 1 29 1-133 1 105 1-30 1-8 1-21 1 78 1 37 1-88 1 56 1-42 1-82 1 93 1-44 1 62 1-142 1 116 1-27 1 19 1 16 1-58 1 45 1 24 1-13 1-8 1-13 1-2 1 33 1-10 1-90 1 81 1-56 1 63 1-28 1 35 1 47 1-50 1-49 1-14 1 7 1 57 1-8 1 29 1-50 1-19 1 21 1 34 1-40 1 11 1-14 1 23 1-13 1 32 1 4 1 59 1-96 1 2 1 39 1-87 1 11 1-18 1 64 1 5 1-21 1-21 1-20 1 86 1-28 1 65 1-61 1-41 1 7 1-58 1 58 1 39 1 11 1-35 1-49 1 102 1-11 1-36 1 15 1-43 1 47 1-18 1 2 1-8 1-40 1 93 1 15 1-8 1-42 1-14 1-15 1 8 1 6 1 67 1-39 1-38 1 58 1-26 1-2 1-32 1 48 1 27 1-45 1-3 1-39 1 50 1-13 1 10 1-1 1-89 1 161 1-110 1 49 1-31 1 57 1-61 1 35 1-47 1-28 1 91 1 12 1-96 1-28 1 68 1 72 1-17 1-88 1-28 1 65 1 43 1-87 1 88 1-24 1-2 1 0 1-41 1 53 1-39 1-33 1 0 1-9 1 60 1 47 1-67 1-1 1-2 1 24 1-30 1 52 1-65 1-33 1 57 1 3 1-21 1 3 1 0 1 12 1 17 1-64 1 96 1-81 1 69 1-46 1 50 1 20 1-17 1-2 1-81 1 68 1 3 1 10 1-33 1 0 1-20 1 43 1 18 1-40 1-32 1 4 1 61 1-18 1-28 1 31 1 29 1-56 1 20 1-23 1-19 1 46 1 23 1-14 1-53 1 24 1-24 1 39 1-38 1 43 1 5 1-22 1 4 1 4 1-10 1-31 1 56 1 38 1-76 1-50 1 28 1 78 1-57 1-23 1 8 1-32 1 33 1 126 1-116 1 46 1 6 1 27 1-15 1-31 1-51 1-2 1 17 1-20 1 57 1 15 1-96 1 51 1 28 1-38 1 52 1-81 1 100 1-27 1-12 1 0 1 37 1-73 1 8 1 20 1-19 1 37 1-50 1 53 1 18 1-31 1 0 1-19 1-11 1-36 1 105 1 10 1-66 1-36 1 10 1 39 1 5 1 2 1-72 1 68 1-18 1 54 1-75 1 37 1 4 1 1 1-6 1-98 1 72 1-1 1 49 1 22 1 26 1-54 1-26 1-2 1 58 1-73 1 42 1-59 1 48 1-10 1 27 1-2 1-25 1-19 1-5 1 50 1 18 1-57 1-30 1 61 1-2 1 0 1-26 1-22 1 65 1-47 1-34 1 28 1 47 1 24 1-51 1-46 1 19 1-22 1 62 1-15 1 30 1-47 1 26 1 20 1-13 1-33 1-11 1 3 1-53 1 54 1 57 1-68 1 66 1 8 1-62 1 45 1-21 1 18 1-11 1 53 1-90 1-12 1 51 1-52 1 14 1-12 1-10 1 93 1-70 1 33 1-31 1 35 1-80 1 14 1 57 1-16 1 8 1-1 1-23 1 65 1 15 1-87 1 27 1 27 1 8 1 27 1-41 1 50 1-64 1-5 1 33 1-58 1 9 1 19 1 33 1-3 1 10 1 35 1-67 1-25 1 77 1-64 1 21 1-12 1-21 1-7 1 55 1-49 1 40 1 74 1-158 1 69 1 12 1-57 1 31 1 35 1-27 1-4 1 18 1 75 1-87 1 38 1 4 1-38 1-72 1 115 1-52 1 62 1 4 1-43 1-44 1 22 1 0 1-32 1 25 1 37 1 13 1-23 1-22 1 23 1-3 1 11 1 9 1 13 1-14 1-88 1 24 1-11 1 44 1 8 1-32 1 41 1-53 1 35 1-23 1 54 1-89 1 56 1-16 1 48 1-2 1-47 1 80 1-99 1 63 1-54 1 56 1-21 1-4 1-29 1 61 1-48 1 9 1-17 1 55 1-28 1 25 1-12 1-50 1-4 1 73 1-27 1-3 1 30 1-19 1 24 1-56 1 52 1-82 1 116 1-87 1-1 1 43 1 36 1-64 1 48 1-79 1 33 1 5 1-5 1-22 1 27 1-20 1 7 1 30 1-56 1-17 1 17 1 34 1-19 1 60 1-8 1 2 1-11 1-48 1 57 1-7 1 30 1-28 1 34 1-88 1 36 1-37 1-15 1 31 1 4 1 7 1 19 1 60 1-80 1 30 1 10 1-14 1-19 1-25 1 58 1 9 1-80 1 18 1-8 1 36 1 38 1-92 1 2 1 63 1-34 1-23 1-48 1 44 1 22 1 26 1 8 1-14 1 21 1-44 1 16 1 13 1 26 1-38 1 15 1-25 1 46 1-55 1 27 1-70 1 92 1-94 1-32 1 100 1-71 1 31 1 80 1-23 1-54 1 24 1-19 1 15 1-35 1 57 1 28 1-13 1-22 1 30 1-30 1 7 1 3 1-9 1 12 1-47 1 30 1-23 1 75 1-49 1 17 1 50 1-136 1 114 1-72 1 2 1-14 1 55 1 72 1-109 1 25 1-26 1 28 1-50 1 27 1 29 1-94 1 102 1 55 1-79 1-12 1-3 1 37 1-18 1 29 1-15 1-37 1 41 1-43 1 33 1-11 1 14 1-50 1 35 1 31 1-31 1-36 1 31 1 45 1-10 1 9 1-81 1 40 1-23 1 2 1 39 1-49 1 42 1-15 1 80 1-65 1 10 1 13 1-33 1 50 1-34 1 78 1-79 1 16 1-82 1 52 1-14 1 121 1-85 1 25 1-85 1 12 1 29 1-1 1 2 1 5 1-24 1 2 1 26 1 19 1-80 1 70 1 10 1-104 1 75 1 9 1 41 1-11 1-82 1 58 1-51 1 76 1-65 1 23 1 18 1 47 1-107 1 41 1 5 1-31 1 65 1-83 1 20 1 9 1-2 1 43 1-17 1-21 1 33 1-64 1 18 1-19 1 99 1-105 1 70 1 9 1-16 1-58 1 33 1 1 1-21 1-2 1-2 1 7 1 22 1-7 1 64 1-41 1 69 1-71 1-7 1 29 1-7 1-54 1 48 1-13 1-64 1 54 1-20 1 16 1-4 1-19 1 46 1-33 1 42 1-2 1-35 1 42 1 68 1-81 1-52 1 79 1-54 1 32 1 39 1-40 1 67 1-118 1 54 1-26 1 13 1 50 1-37 1-53 1 12 1 41 1 12 1-22 1 41 1-52 1 64 1-30 1-54 1 28 1 23 1-27 1 13 1-17 1-28 1 40 1 54 1-72 1 41 1-65 1 5 1 34 1-16 1 65 1 9 1-47 1-23 1-35 1 69 1 8 1-2 1-4 1-31 1 54 1-73 1 70 1-121 1 81 1-8 1 59 1-66 1 75 1-93 1 50 1-30 1-9 1-14 1-14 1 7 1 13 1 46 1 17 1-63 1 14 1 29 1-16 1-34 1 2 1 50 1 24 1 21 1-49 1-5 1 34 1-81 1-28 1 90 1-51 1 29 1-23 1 13 1 9 1-35 1 8 1 38 1-31 1 37 1-19 1-22 1 5 1 68 1-72 1 60 1-48 1-16 1 74 1-14 1-64 1 17 1 81 1-103 1 53 1 19 1-48 1 30 1-23 1-7 1-73 1 51 1 22 1 5 1-8 1-5 1 38 1-38 1 40 1-4 1-16 1-38 1 7 1 128 1-141 1 39 1-1 1-46 1 73 1 11 1 32 1-27 1-68 1 55 1 8 1-48 1 47 1-8 1 2 1-41 1 37 1-7 1-10 1 56 1-54 1 53 1-21 1-24 1-20 1 13 1-44 1 31 1-15 1 35 1 6 1-78 1 112 1-95 1 65 1-48 1 66 1-60 1 6 1 82 1-50 1-43 1-13 1 24 1 30 1-18 1 42 1-10 1-41 1 8 1-24 1 17 1-13 1 23 1-24 1-62 1 115 1-38 1 21 1-33 1 1 1 43 1-32 1-2 1 10 1-14 1-36 1 26 1 29 1-17 1-59 1 88 1-59 1 60 1 32 1-31 1-34 1 19 1 16 1 2 1 6 1 4 1-15 1 63 1-98 1 5 1 6 1-27 1 50 1-19 1 87 1-94 1 20 1-34 1-8 1 34 1 37 1-54 1-17 1-2 1 48 1 14 1-22 1 26 1 37 1-84 1-3 1-7 1 51 1-28 1 40 1 9 1-66 1 77 1-49 1-91 1 38 1 19 1 2 1 27 1 13 1-88 1 75 1 13 1-42 1 24 1-46 1 65 1 7 1-15 1-67 1 22 1 23 1 5 1-8 1 44 1-50 1 34 1-25 1 7 1-9 1 26 1-48 1 20 1 38 1-41 1 26 1-24 1-16 1 45 1-15 1-3 1 1 1-68 1 57 1 50 1-42 1 22 1-100 1 103 1 16 1-62 1 42 1-5 1-5 1 15 1-9 1 60 1-70 1-25 1-41 1 60 1-26 1 53 1-74 1-26 1 64 1 22 1-13 1-50 1 94 1-85 1 76 1-5 1-37 1-13 1-11 1-15 1 86 1-41 1-23 1 16 1-28 1 36 1 11 1 66 1-12 1-90 1 65 1-49 1-11 1 26 1-38 1 55 1-41 1 24 1 46 1 17 1-61 1-61 1 16 1 23 1-11 1-4 1 39 1-52 1 35 1 26 1-133 1 93 1 27 1-30 1 67 1 0 1-106 1 44 1 57 1 19 1-51 1 31 1-80 1 110 1-106 1 76 1 8 1-44 1 45 1-23 1-1 1 63 1-42 1-52 1 83 1-24 1-16 1-62 1 0 1-19 1 83 1-60 1 19 1 53 1-62 1 18 1 22 1 14 1 19 1-73 1 2 1 25 1 4 1 7 1-46 1 19 1 67 1-63 1-14 1 37 1-4 1 4 1-42 1 35 1-12 1-4 1-50 1 104 1-131 1 121 1-34 1 20 1-32 1-14 1-61 1 39 1 64 1-31 1 3 1 27 1-43 1 11 1 24 1 9 1-48 1 28 1-45 1 12 1 71 1 30 1-73 1 24 1 13 1-11 1-74 1 57 1-73 1 38 1 87 1-75 1-36 1 112 1-17 1-40 1 15 1-77 1 88 1-88 1 106 1-19 1-40 1-7 1 13 1-50 1-7 1-6 1 71 1-33 1 39 1-59 1 129 1-57 1-15 1 9 1-71 1 102 1-19 1 13 1-40 1 30 1-64 1 2 1 103 1 1 1-102 1 15 1 68 1-53 1 41 1-70 1 73 1-24 1-38 1 15 1-35 1 22 1 66 1-60 1 47 1-88 1-5 1 16 1-37 1 48 1-23 1 18 1 2 1 1 1 20 1-52 1 99 1 17 1-28 1-81 1 64 1 19 1 1 1-45 1 18 1-44 1 53 1-43 1 61 1-48 1-86 1 111 1-2 1-38 1 68 1-19 1 3 1-27 1 56 1-97 1 45 1-2 1 12 1-4 1 78 1-123 1 74 1-59 1 34 1 2 1-25 1-40 1 61 1 16 1-36 1 101 1-55 1 5 1-22 1 35 1-76 1 39 1-15 1 4 1 11 1 12 1-67 1 16 1-23 1 57 1-15 1-3 1 24 1-10 1 54 1-15 1-9 1 8 1-54 1 2 1-1 1 23 1-44 1 3 1 12 1 31 1-64 1 93 1 16 1-12 1-86 1 38 1 24 1 59 1-72 1 27 1 37 1-109 1 37 1-47 1 48 1-20 1 43 1-45 1 35 1-34 1 13 1 45 1-38 1-5 1 29 1-20 1-35 1-11 1 40 1 80 1-103 1-38 1 71 1 22 1-40 1 3 1-23 1 52 1-82 1 29 1 66 1-70 1 40 1-29 1 12 1 10 1-9 1 26 1 10 1-17 1 2 1-23 1 7 1 62 1-84 1 30 1-31 1 6 1 14 1-10 1 68 1-102 1-13 1 44 1 40 1-42 1 36 1-68 1 71 1 25 1-12 1-3 1-50 1 26 1-11 1 21 1-56 1 44 1-7 1-46 1 44 1 28 1-10 1-47 1 26 1 39 1-66 1 90 1 23 1-40 1 31 1-58 1-7 1 10 1 10 1 17 1-68 1 99 1-92 1 16 1 11 1-17 1 68 1-87 1 16 1-20 1 108 1-79 1 14 1 74 1-68 1-13 1 29 1-40 1-6 1 34 1-3 1-38 1 60 1-51 1-28 1 46 1-14 1 12 1-27 1 80 1 7 1-29 1-9 1-54 1-14 1 27 1-23 1 57 1 5 1 34 1-92 1 21 1 20 1 45 1-12 1-51 1 17 1-38 1 31 1 31 1 16 1-40 1-56 1-12 1 93 1-43 1 42 1-33 1 105 1-75 1 41 1-112 1 63 1-29 1 15 1 47 1-67 1-16 1 29 1-11 1-19 1 18 1 24 1 51 1-26 1-3 1-52 1-20 1 45 1-34 1 116 1-91 1 50 1-73 1-11 1 5 1 11 1-12 1-23 1 79 1-71 1 64 1 36 1-68 1-5 1 15 1 33 1-43 1 28 1-92 1 72 1-2 1 32 1-38 1-37 1 82 1-13 1 53 1-62 1-58 1 96 1-27 1 13 1-16 1 17 1-15 1 27 1-46 1-26 1 7 1 90 1-109 1 21 1-14 1 69 1-10 1-44 1-36 1 92 1-42 1-5 1 26 1-23 1 29 1-61 1 99 1-66 1 28 1-15 1 29 1 71 1-154 1 27 1 10 1 15 1-11 1 21 1-15 1-43 1 68 1 8 1-93 1 80 1-24 1 14 1-26 1-2 1 18 1 37 1-1 1-35 1-59 1 123 1-58 1-19 1 35 1-27 1 12 1-31 1-29 1 67 1-21 1-5 1 10 1 5 1 73 1-76 1 40 1-22 1-29 1-5 1 35 1 1 1-7 1 27 1-89 1-6 1 65 1-61 1 29 1 63 1-68 1 8 1 18 1 55 1-30 1 58 1-77 1 9 1 28 1 5 1-88 1 97 1-76 1 21 1-39 1 98 1-59 1-39 1 48 1 42 1 19 1-43 1-58 1-18 1 50 1-28 1-4 1 14 1 49 1-53 1 59 1-39 1-23 1-10 1 41 1-42 1-14 1 19 1 34 1-12 1 10 1-1 1-23 1-13 1 37 1-25 1 17 1 3 1 39 1-47 1 17 1-13 1-25 1 9 1 1 1 42 1 37 1-41 1-13 1-7 1-39 1 35 1-38 1 62 1 23 1-66 1 68 1 15 1-34 1-31 1-26 1 37 1-30 1 31 1 55 1-18 1 19 1-49 1 63 1-22 1-20 1-58 1 12 1 31 1-19 1 15 1-101 1 149 1 12 1-3 1-17 1-36 1-44 1 40 1 1 1-4 1-11 1 38 1-52 1 23 1-10 1-11 1 0 1-8 1 56 1-45 1 68 1 19 1-58 1-26 1-3 1 5 1-17 1 88 1-41 1-11 1 20 1-38 1-9 1 9 1 7 1-74 1 75 1 2 1-40 1-20 1 91 1 3 1-79 1 8 1 9 1 37 1-31 1 69 1-8 1-91 1 94 1-37 1-26 1 11 1 47 1-17 1-39 1 34 1-70 1 60 1-65 1 61 1-42 1 27 1 12 1 48 1-65 1 17 1-9 1 30 1 13 1 1 1-29 1-33 1 42 1 25 1-9 1 11 1 16 1-42 1 10 1-10 1-75 1 31 1-17 1 48 1-9 1 36 1 32 1-6 1-40 1-29 1-59 1 78 1 48 1-38 1-30 1 56 1-23 1-33 1 13 1-11 1 13 1 2 1-46 1 15 1 22 1-9 1 19 1 0 1-16 1 7 1-78 1 76 1-5 1-58 1 102 1-35 1-38 1 35 1 8 1 27 1-29 1 24 1-58 1 16 1 28 1-48 1 72 1-5 1-53 1 15 1 48 1-13 1-18 1 14 1-28 1 10 1-20 1 19 1-14 1 26 1-27 1 1 1-12 1 12 1 25 1-11 1-45 1 52 1-11 1-51 1 32 1-2 1 52 1 1 1-40 1-61 1 131 1-4 1-75 1 10 1 42 1-63 1 24 1 22 1-13 1 15 1-28 1 34 1 14 1-14 1-36 1-25 1 58 1 13 1-43 1-27 1 49 1-63 1 76 1-73 1 25 1 78 1-73 1 25 1-2 1 18 1-24 1 22 1-26 1-31 1-10 1 9 1 7 1 15 1 21 1 30 1-70 1 48 1-21 1 51 1-59 1-31 1 48 1-33 1 35 1-10 1 21 1 72 1-100 1-4 1-3 1-37 1 26 1 15 1 37 1-118 1 141 1-32 1 3 1-51 1 24 1-7 1 76 1-41 1-51 1 51 1 24 1-48 1 26 1-19 1-12 1 44 1-31 1-46 1 53 1-1 1 11 1-30 1-6 1 47 1-34 1-51 1 110 1-88 1 4 1 80 1 4 1-36 1-64 1 67 1-22 1-3 1 7 1-69 1 56 1 49 1-49 1-12 1 58 1-42 1 26 1 23 1-13 1-57 1 33 1 49 1-79 1 34 1 88 1-62 1 43 1-58 1-113 1 24 1 59 1 38 1 10 1-14 1-33 1-34 1 40 1-40 1 46 1 66 1-81 1-23 1 14 1-17 1 68 1-22 1-10 1-11 1-8 1-13 1 46 1 22 1-21 1-8 1 9 1 16 1-61 1-3 1-1 1 7 1 8 1 34 1-2 1-23 1 71 1-70 1 75 1-128 1 40 1 43 1-21 1 17 1-69 1 14 1 34 1 20 1-37 1 11 1 10 1 16 1 35 1-6 1-21 1 30 1-23 1-92 1 59 1-22 1 43 1-65 1 41 1-23 1-10 1 22 1-50 1 96 1-20 1-28 1 20 1-18 1-58 1 83 1-19 1 26 1 11 1 36 1-80 1-31 1 46 1-40 1 86 1-39 1-1 1-30 1 24 1-17 1-31 1 86 1-33 1-17 1 36 1-35 1 71 1-25 1-25 1 52 1-133 1 10 1 21 1 14 1-3 1 40 1-2 1 61 1-100 1 38 1 60 1-38 1-45 1 71 1-37 1 56 1-57 1-13 1 78 1-55 1-40 1 27 1-62 1 20 1-9 1 80 1-10 1-43 1-6 1 35 1-10 1 25 1-16 1-30 1-35 1 30 1-11 1 27 1-15 1-16 1 64 1-64 1 13 1-14 1 19 1 38 1-8 1-16 1 86 1-57 1-7 1-2 1 15 1 3 1-27 1 12 1-65 1 44 1 3 1-31 1 31 1-2 1-40 1 7 1 39 1 37 1-24 1-39 1 74 1-45 1-9 1 49 1-90 1 48 1 43 1-18 1-47 1-32 1 36 1 3 1 13 1-60 1 11 1 96 1-54 1-19 1 26 1-22 1-7 1 52 1-73 1 38 1-30 1 26 1 12 1-48 1 33 1-40 1 32 1-52 1 98 1-29 1 28 1 11 1-42 1 55 1-46 1-46 1 25 1 36 1-9 1-33 1-28 1 61 1-13 1-12 1 22 1-18 1 3 1-35 1 64 1-22 1-9 1 35 1-13 1-10 1 47 1-32 1 22 1-21 1 6 1-6 1-40 1-18 1 14 1 54 1-37 1 52 1-60 1-6 1 36 1-13 1-26 1 3 1 43 1 6 1 31 1-44 1 8 1-19 1-19 1 65 1-21 1-14 1 42 1-47 1 10 1-28 1-10 1-1 1 32 1-17 1 1 1-27 1 95 1-53 1 17 1-28 1-31 1 27 1 3 1 27 1-33 1 2 1 41 1-54 1 36 1 55 1-64 1-22 1 2 1 10 1 6 1-23 1 3 1 78 1-36 1-27 1 6 1-30 1-5 1 28 1 17 1-69 1 84 1-24 1-70 1 45 1 1 1 20 1-40 1-56 1 86 1 17 1-46 1-24 1 51 1 39 1-39 1 38 1-58 1 38 1-24 1 15 1-25 1 94 1-77 1 4 1-3 1 57 1-92 1 66 1-37 1 33 1-11 1 8 1 39 1-32 1-65 1 81 1-42 1 62 1-93 1 81 1-7 1-33 1-23 1 61 1-40 1-21 1 17 1 26 1-40 1-23 1-39 1 34 1 98 1-99 1 9 1 24 1-13 1-14 1 45 1 33 1-32 1-31 1 40 1 3 1 21 1-60 1 53 1-28 1 17 1-67 1 9 1-43 1 100 1 9 1-41 1 54 1-29 1-39 1 21 1-27 1 53 1-9 1-11 1-32 1-9 1-4 1 37 1 27 1-10 1-14 1 52 1-20 1 26 1-67 1 2 1 38 1-62 1 28 1 8 1-27 1 11 1 47 1-13 1 25 1-68 1 24 1-34 1 54 1 16 1-76 1 9 1 76 1-83 1 58 1-74 1 34 1 37 1-13 1-2 1 92 1-120 1 33 1-35 1 118 1-117 1 23 1 38 1-103 1 38 1 59 1-5 1-46 1-40 1 42 1 32 1-74 1 79 1-64 1 22 1 26 1 16 1-1 1-18 1-47 1 48 1 27 1-73 1 10 1 31 1-38 1 35 1-55 1 65 1 21 1-10 1-19 1-1 1 24 1-1 1 26 1-26 1-72 1 61 1 26 1-10 1 3 1-22 1 25 1-67 1 67 1-20 1-57 1 50 1-43 1 48 1-32 1-46 1 102 1-48 1 54 1-35 1 21 1-26 1 44 1 31 1-90 1 16 1-40 1 36 1 4 1 32 1 17 1-51 1 44 1-85 1-2 1 30 1-23 1 44 1 15 1-99 1 89 1-51 1 70 1-40 1-16 1 85 1-5 1-27 1-12 1-14 1 28 1-1 1 10 1 0 1-47 1 30 1 19 1 3 1-13 1 28 1-61 1-7 1 58 1-26 1-6 1-39 1 52 1-14 1 23 1-2 1-10 1-133 1 73 1 25 1 3 1 61 1-19 1-58 1 25 1-37 1 37 1-18 1 14 1-14 1 5 1-24 1 55 1-10 1 15 1-23 1-15 1 12 1 69 1-42 1-6 1-7 1 11 1-9 1-44 1 11 1-28 1 103 1-20 1 8 1-77 1 10 1 44 1-2 1-27 1-35 1-8 1 74 1-52 1 36 1-60 1-34 1 69 1-2 1 108 1-106 1 77 1-38 1-50 1 84 1-134 1 98 1-45 1 45 1-42 1 44 1-18 1 77 1-112 1 10 1 35 1-1 1 26 1-12 1-33 1-2 1-15 1-14 1 5 1 20 1 2 1 19 1-49 1 67 1 2 1-39 1 61 1-38 1 40 1-22 1-146 1 173 1-90 1 54 1 19 1 12 1-72 1 34 1-13 1-56 1 102 1 27 1-77 1-43 1 42 1-43 1 9 1 27 1 37 1-30 1-34 1 21 1 18 1-14 1 14 1-29 1 36 1-63 1 42 1 7 1 66 1 13 1-67 1 9 1-81 1 91 1 8 1-60 1 97 1-72 1 47 1 51 1-34 1-56 1-4 1 8 1 23 1-33 1-8 1 8 1-53 1 22 1 65 1-10 1 10 1-37 1-30 1-18 1 47 1 27 1 15 1 20 1-115 1 71 1 5 1-79 1 84 1-19 1-18 1 77 1-16 1-157 1 98 1 79 1-47 1-16 1-24 1 24 1 36 1-40 1-38 1 58 1 19 1-2 1 41 1-120 1 31 1 14 1-9 1-37 1 56 1 32 1-82 1 115 1-66 1-52 1-12 1 54 1 1 1 1 1 5 1-5 1-51 1 30 1-41 1 39 1 31 1-3 1-84 1 96 1-56 1 67 1-51 1 31 1 3 1 14 1-4 1-31 1-41 1 34 1 43 1-45 1 101 1-83 1-80 1 159 1-71 1-45 1-30 1 21 1 58 1-72 1 3 1 65 1-14 1 33 1-20 1-58 1 87 1-80 1 28 1 0 1 33 1-47 1 31 1 2 1 48 1-56 1 15 1-43 1 25 1 7 1 16 1 3 1 4 1-49 1 74 1 1 1-60 1-40 1 38 1 17 1-78 1 61 1 31 1-26 1-28 1 48 1-41 1 39 1-16 1-6 1 95 1-126 1 22 1 5 1 9 1 15 1-55 1 47 1-30 1 89 1-127 1 61 1-3 1 45 1-4 1-45 1 127 1-155 1 69 1 2 1-28 1-64 1 57 1-30 1 81 1-22 1-51 1 70 1 51 1-67 1-11 1-5 1-32 1 2 1 37 1-34 1 24 1-9 1 37 1-56 1 35 1-54 1 90 1-87 1 79 1-55 1 53 1-7 1-56 1 81 1-88 1-41 1 48 1 77 1-75 1 26 1-10 1 7 1-38 1-22 1 47 1-37 1 65 1-99 1 115 1 4 1-25 1-40 1-7 1 88 1-62 1-6 1-74 1 98 1 38 1 9 1-50 1-25 1 10 1 11 1 24 1-26 1-2 1-86 1 90 1 34 1-21 1-8 1 65 1-71 1-8 1 2 1 39 1-25 1-19 1-19 1 18 1 56 1-69 1-30 1 62 1 81 1-119 1-7 1 35 1 15 1-54 1 10 1 29 1 5 1-12 1-29 1 31 1 45 1-19 1-27 1-8 1 33 1-45 1 47 1-55 1-24 1 29 1 25 1-16 1 94 1-124 1 81 1 5 1-20 1 20 1-32 1 10 1-8 1-42 1 27 1 34 1-14 1 23 1-64 1 73 1-24 1-70 1 67 1-16 1-12 1 73 1-63 1-27 1 28 1-15 1 52 1-33 1 13 1-11 1 46 1-25 1-37 1 38 1-40 1-34 1 43 1 6 1-18 1 51 1-13 1 19 1-8 1-87 1 85 1-27 1 12 1 3 1-5 1-2 1-19 1 21 1-24 1 19 1 5 1-3 1-64 1 97 1-35 1-29 1 5 1 52 1 3 1-34 1-41 1 14 1 27 1 9 1-4 1-2 1 41 1 0 1-44 1-66 1 56 1 66 1-22 1-34 1 31 1-41 1 32 1 2 1 18 1-59 1 4 1-3 1-9 1 27 1-45 1 74 1-59 1 39 1 2 1 7 1-42 1 12 1-30 1 67 1-38 1 39 1-49 1-30 1 78 1-68 1 70 1-83 1 44 1-13 1 54 1-89 1 56 1 12 1-48 1 58 1-16 1 3 1 14 1-62 1-20 1 87 1-84 1 16 1 48 1-33 1-45 1 87 1-2 1 14 1-102 1 35 1 60 1-21 1-27 1 30 1-47 1 37 1-40 1 30 1 4 1 27 1-31 1-16 1 79 1-71 1-24 1 12 1 16 1 20 1 29 1-5 1-18 1 23 1-39 1 20 1-7 1-50 1 34 1-17 1 79 1-75 1 46 1-80 1 102 1-24 1-52 1-41 1 116 1-41 1 17 1-77 1-15 1 57 1-21 1 51 1 16 1-54 1 31 1-39 1 34 1-52 1 48 1-5 1-31 1 25 1-39 1 65 1 11 1-60 1 13 1 36 1 17 1-14 1-20 1 7 1 28 1-8 1-45 1-19 1-13 1 75 1 10 1-54 1 29 1-35 1-5 1 43 1-8 1 48 1-2 1-73 1-44 1 122 1-8 1-30 1-39 1 84 1-61 1-43 1 117 1-36 1-60 1-13 1 62 1-55 1-2 1 76 1-42 1 15 1-8 1-17 1 43 1 25 1-16 1-2 1-36 1-37 1 47 1 6 1-6 1-41 1 29 1-6 1 23 1-20 1 11 1-50 1 36 1-38 1 25 1 6 1 65 1-50 1 24 1-63 1 21 1-1 1 18 1-50 1 110 1-89 1 37 1 20 1-10 1-21 1-12 1-26 1 58 1 3 1-58 1-4 1 71 1-11 1-33 1 20 1-32 1 47 1-3 1-122 1 63 1-16 1 39 1 35 1-61 1-12 1 57 1 3 1-28 1 22 1 47 1-72 1-5 1 86 1-118 1 97 1 4 1-11 1-29 1 2 1 54 1-60 1-11 1 38 1 54 1-39 1-14 1-48 1 40 1-31 1-80 1 95 1 7 1-37 1-12 1-3 1 44 1 43 1 22 1-35 1-17 1 29 1 10 1-39 1 5 1 4 1-81 1 29 1 76 1-75 1 36 1 23 1-8 1-110 1 95 1 26 1-25 1-30 1 21 1 11 1 25 1-9 1 24 1-47 1-17 1 2 1 17 1-47 1 31 1-7 1 57 1-24 1 2 1-51 1 40 1 1 1 3 1-60 1 70 1 7 1-34 1 11 1-50 1 8 1 28 1 15 1-6 1-45 1 31 1-7 1 103 1-42 1-34 1-27 1 0 1 19 1 63 1-63 1 31 1 46 1-42 1-17 1-20 1-20 1 20 1 6 1 18 1-17 1 37 1-62 1 24 1-36 1 16 1 32 1-10 1-2 1-2 1 88 1-55 1-98 1 62 1-45 1 67 1 34 1-42 1 2 1 14 1-67 1-9 1 73 1-90 1 35 1 71 1-75 1 22 1 12 1 55 1-69 1 41 1-87 1 97 1 15 1-66 1 55 1-91 1 82 1-56 1 59 1-17 1-22 1 29 1-48 1 47 1-72 1 18 1 86 1-124 1 57 1 40 1-38 1 5 1-24 1-1 1-12 1 84 1-52 1 30 1 32 1-26 1 9 1-49 1 24 1-23 1 15 1-7 1-12 1 44 1-22 1 0 1 12 1 17 1-44 1-12 1-42 1 56 1-1 1 46 1-36 1-45 1-25 1 51 1-40 1-1 1-15 1 46 1 47 1-27 1-36 1 61 1-18 1 27 1-9 1 30 1-89 1 63 1-26 1-14 1 28 1 27 1-17 1 16 1-40 1 25 1-59 1 50 1-30 1 50 1 29 1-49 1-44 1-1 1-7 1 55 1-2 1-17 1 16 1-30 1-10 1-3 1 59 1-77 1 115 1-54 1 8 1-17 1 8 1-48 1 65 1-52 1 64 1-37 1-14 1-21 1 74 1 35 1-134 1 90 1-21 1-5 1-53 1 23 1-17 1-4 1 28 1 25 1-54 1 12 1 23 1 73 1-42 1-35 1 31 1-48 1-59 1 87 1-9 1-17 1-32 1 134 1-56 1-65 1 50 1 57 1-77 1 64 1-77 1-2 1 46 1 27 1-57 1 29 1-2 1 11 1-4 1 17 1-62 1-11 1 69 1 14 1-70 1-18 1 25 1-20 1 12 1 25 1 11 1 17 1-23 1 58 1-111 1 89 1-48 1-3 1 15 1-1 1 25 1-13 1-40 1 2 1 70 1-43 1 58 1-58 1-5 1 49 1-96 1 96 1-88 1 98 1-81 1 90 1-48 1 28 1-55 1 38 1-20 1-15 1 42 1-14 1-29 1 41 1-46 1 75 1-131 1 32 1 88 1-22 1-16 1-31 1-6 1-11 1-4 1 78 1-43 1 11 1-26 1 25 1 56 1-44 1-102 1 85 1-41 1 43 1 8 1-11 1 9 1-37 1 44 1 49 1-94 1 12 1 32 1-9 1-31 1 13 1 47 1-81 1-40 1 86 1 35 1-71 1-11 1 78 1 21 1-5 1-29 1 21 1-22 1 0 1 41 1-67 1-36 1 118 1-61 1 7 1 11 1-28 1 38 1-63 1 39 1 24 1-49 1 11 1-46 1 44 1 18 1-78 1 58 1-5 1-38 1 69 1-15 1 23 1-93 1 96 1 9 1 1 1-101 1 25 1 61 1 1 1-105 1 101 1-23 1 26 1-110 1 110 1 24 1-55 1-4 1 21 1 14 1 38 1-32 1-95 1 121 1-101 1-35 1 32 1 33 1-32 1 1 1 89 1-66 1 54 1 37 1-105 1 61 1-37 1 54 1-80 1 15 1 31 1 21 1-7 1-30 1 28 1 13 1-55 1 8 1-23 1 5 1 71 1-45 1 35 1 16 1-51 1 14 1-24 1 29 1-38 1 29 1-15 1-27 1-24 1 72 1 56 1-15 1-96 1-18 1 31 1-23 1 64 1 6 1-63 1 18 1 7 1-2 1 22 1 56 1-96 1 30 1 34 1-9 1-46 1 52 1 16 1-52 1-16 1-3 1 3 1 19 1 16 1 59 1-60 1 16 1-77 1 73 1-28 1-17 1 66 1 2 1-84 1 3 1 98 1-60 1-43 1 73 1-29 1-1 1 15 1 6 1 74 1-53 1-26 1-19 1-54 1-23 1 37 1 40 1 44 1-31 1-43 1 42 1-14 1-35 1 75 1-7 1-76 1 32 1-14 1 24 1 43 1-80 1 59 1-31 1-2 1 3 1 55 1-56 1 61 1-55 1 25 1-65 1 72 1-15 1 0 1 60 1-57 1-6 1 25 1-21 1-15 1-4 1-5 1-18 1-3 1 49 1-21 1 12 1 15 1 1 1 20 1-43 1-26 1 47 1 2 1 15 1 13 1-7 1-43 1 62 1-111 1 27 1 26 1 22 1-51 1 42 1-77 1 70 1-20 1 44 1-65 1 20 1-1 1-40 1 87 1 33 1 4 1-43 1-12 1 1 1-29 1-20 1 61 1-67 1 61 1 14 1-58 1-4 1 6 1 57 1-81 1 33 1 40 1-28 1-5 1 8 1 18 1-76 1 73 1-29 1 14 1-10 1 63 1-122 1 17 1 52 1-40 1 35 1-24 1 31 1 49 1-33 1 0 1 4 1 45 1-61 1-27 1 7 1 40 1-84 1 64 1-20 1 20 1 20 1-32 1 37 1 5 1 26 1-69 1-15 1 23 1 11 1-6 1-35 1 45 1-15 1-14 1 16 1-15 1-11 1 31 1-74 1 87 1-22 1-9 1 10 1 36 1-38 1 33 1-27 1-23 1-8 1 27 1 15 1-88 1 75 1-64 1 87 1-34 1-45 1 82 1 10 1-72 1-20 1 25 1 13 1 32 1-29 1-18 1 42 1 42 1-92 1 77 1 5 1-29 1-52 1 80 1-45 1-60 1 48 1 21 1 20 1 25 1-98 1 90 1-49 1-28 1 52 1-12 1-41 1 30 1-37 1 3 1-12 1 97 1-58 1 8 1 9 1 50 1-51 1-48 1 11 1 55 1-20 1 1 1-31 1 50 1-2 1 26 1-73 1-37 1 49 1-6 1-7 1 64 1-58 1-30 1 16 1 41 1 19 1-3 1-62 1 60 1-24 1-4 1 17 1 21 1-45 1 40 1-11 1-53 1 14 1 97 1-35 1-63 1 56 1-57 1-9 1 0 1-23 1 101 1-13 1-13 1-1 1-48 1 16 1 43 1-12 1 25 1-28 1 32 1-107 1 35 1 39 1-7 1-31 1 27 1-43 1 36 1-71 1 55 1 59 1-3 1-16 1-77 1 70 1-42 1 79 1-66 1 54 1-20 1-16 1 47 1-125 1 116 1-21 1-74 1 26 1 113 1-96 1-22 1 70 1-34 1 25 1 0 1-83 1 25 1 61 1 13 1-67 1 18 1 18 1-19 1 52 1-18 1-1 1-66 1 42 1 33 1-9 1-61 1 24 1 30 1-6 1-37 1 35 1-2 1 15 1 59 1-102 1 26 1-34 1-76 1 116 1-32 1 32 1 13 1 2 1-14 1-14 1-57 1 46 1 31 1-52 1 64 1-54 1 16 1 25 1-33 1-23 1 17 1 84 1-3 1-55 1 6 1 38 1-73 1 9 1-25 1 31 1-48 1 80 1-9 1-35 1 9 1 64 1-24 1-47 1 16 1 29 1-15 1-5 1 2 1-22 1-7 1 48 1-104 1 68 1 14 1-67 1 63 1 40 1 4 1-24 1 1 1 38 1-46 1 16 1-72 1 29 1 43 1-63 1 41 1 60 1-66 1-49 1 46 1 23 1-23 1 22 1-39 1 10 1 20 1-38 1-30 1 46 1-32 1 15 1 34 1-8 1-48 1 36 1-19 1 85 1-78 1 84 1-125 1 56 1-20 1 53 1-21 1 35 1-5 1-39 1 19 1-2 1-4 1-52 1 12 1-29 1 71 1 11 1-27 1-18 1 73 1-69 1 32 1-27 1 6 1 20 1 17 1-18 1-45 1 94 1-63 1 11 1 1 1-13 1-8 1 15 1-44 1 54 1-84 1 138 1-118 1 66 1 29 1-10 1-14 1-22 1 8 1-47 1 49 1 5 1 2 1-30 1 17 1-50 1 70 1-6 1 4 1 10 1-12 1 17 1 44 1-15 1-20 1 51 1-59 1-49 1 12 1 65 1-3 1-33 1 9 1-47 1 15 1-4 1 18 1-41 1 25 1-83 1 63 1 18 1 13 1 12 1 15 1-41 1-11 1-35 1 41 1-21 1 20 1 18 1-25 1-2 1 28 1 0 1-4 1 65 1-80 1 59 1-127 1 84 1-15 1-3 1 71 1-111 1 73 1-59 1-9 1 14 1 130 1-59 1-24 1 28 1-41 1-56 1 12 1 56 1 24 1-64 1 1 1 34 1 21 1-84 1-5 1 15 1 16 1 42 1-24 1 48 1-92 1 92 1-11 1-17 1-4 1-56 1 22 1 55 1-38 1 1 1-42 1 109 1-38 1 17 1-43 1-24 1 38 1-83 1 109 1-38 1 28 1 26 1-34 1-17 1 26 1 0 1-22 1 22 1-56 1 11 1 19 1-33 1 113 1-44 1-78 1 75 1-64 1 18 1 11 1 11 1 34 1 12 1 7 1-75 1 17 1-12 1 50 1-41 1-36 1 64 1-9 1-4 1-85 1 33 1-29 1-24 1 100 1-19 1 94 1-87 1 22 1-20 1-2 1 80 1-87 1 28 1 28 1-22 1-49 1 51 1-72 1 31 1 19 1 33 1-3 1-69 1 40 1-9 1-1 1-20 1 4 1 38 1-23 1 17 1-25 1 72 1-46 1-53 1 90 1-20 1-31 1 50 1-45 1-8 1-16 1 20 1-4 1 26 1-24 1-1 1-7 1-10 1 0 1 2 1 15 1 6 1 20 1-40 1-20 1 59 1-38 1 26 1 2 1 29 1-26 1-31 1 4 1-12 1 53 1 54 1-102 1 26 1-25 1-41 1 27 1 112 1-57 1-5 1-68 1 83 1-15 1-50 1 101 1-43 1 29 1-10 1-54 1 14 1 7 1-3 1 13 1-13 1-20 1 45 1-33 1 21 1-49 1-10 1 19 1-13 1 53 1-6 1-18 1 17 1-31 1 26 1 39 1-9 1-45 1-74 1 79 1 58 1-62 1 33 1 22 1-139 1 8 1 86 1-1 1 9 1-39 1 0 1-9 1 76 1-28 1-38 1 23 1 57 1-52 1-35 1 110 1-130 1 60 1-57 1 18 1 20 1 16 1 3 1 19 1-30 1-6 1 65 1-32 1 62 1-28 1-27 1-44 1 16 1-3 1 20 1 23 1-68 1 5 1 65 1-30 1-24 1 51 1-9 1-44 1 11 1-30 1 44 1-33 1 4 1-49 1 94 1-25 1 32 1-56 1-4 1-33 1 65 1-37 1 21 1-51 1 57 1 8 1-36 1 33 1 21 1 38 1-79 1-27 1 39 1-31 1 48 1-39 1-4 1 44 1 35 1-40 1-10 1-24 1 93 1-119 1 31 1 29 1 29 1-15 1-37 1 0 1 3 1 67 1-39 1-15 1 7 1 14 1-27 1-37 1 87 1-87 1 76 1-1 1 2 1-62 1 11 1-21 1 65 1 13 1-114 1 54 1 106 1-50 1-39 1-48 1-15 1 102 1-60 1 30 1 4 1 4 1 28 1-11 1-19 1-28 1 64 1-99 1 63 1-40 1 61 1 8 1-81 1 20 1 88 1-86 1 74 1-72 1-12 1 28 1 11 1-5 1-4 1 27 1-44 1 36 1 39 1-71 1-51 1 25 1 43 1 20 1-8 1-65 1 20 1 57 1-39 1-44 1 50 1-2 1 24 1 39 1-89 1 8 1-3 1-19 1 47 1 11 1-29 1 58 1 25 1-55 1 9 1 9 1-34 1-22 1 48 1 47 1-10 1-28 1-24 1-7 1-18 1-54 1 106 1-71 1 42 1-12 1 17 1-49 1 8 1-22 1-21 1 118 1-43 1-35 1-4 1 16 1 43 1-96 1 103 1-65 1 48 1-5 1-41 1 60 1-56 1 24 1 39 1-33 1-11 1-15 1-15 1 87 1-21 1-1 1 23 1-117 1 85 1-6 1 4 1 16 1-62 1 27 1 28 1-12 1-25 1 3 1-19 1-14 1 61 1 17 1-17 1-21 1 25 1-31 1 53 1-41 1-13 1 41 1-55 1-31 1 163 1-79 1-21 1-32 1 61 1-41 1-43 1 39 1 29 1 1 1-28 1-7 1 2 1 13 1 75 1-46 1-18 1-16 1-13 1 40 1-46 1-29 1 36 1-10 1 42 1 20 1-51 1 3 1-23 1 48 1 24 1 0 1-43 1 77 1-113 1 60 1-15 1 10 1-64 1 100 1-70 1 10 1-26 1 11 1 66 1 19 1 19 1-63 1-27 1 11 1 19 1-31 1 67 1-93 1-8 1 9 1 17 1-35 1 110 1-13 1-38 1 1 1 12 1-30 1 29 1-67 1 54 1 84 1-67 1 10 1 26 1-84 1 68 1 30 1-50 1-78 1 62 1-65 1 43 1-41 1 40 1 3 1 124 1-54 1 0 1-38 1-44 1 8 1 5 1 89 1-32 1-29 1-24 1 13 1 37 1 19 1-85 1 69 1-29 1-6 1-16 1 42 1 16 1-35 1 24 1-36 1 58 1-39 1 30 1-120 1 139 1-45 1-7 1 9 1 25 1-12 1-27 1-59 1 6 1-18 1 80 1-25 1-40 1 26 1 11 1 4 1-26 1 48 1-29 1 39 1-55 1 7 1 21 1 46 1-43 1-60 1 76 1-31 1 73 1-23 1-36 1-33 1 3 1 50 1-88 1 164 1-44 1-91 1-7 1-16 1 92 1 19 1 2 1-18 1-49 1 29 1 0 1-35 1 29 1-13 1-46 1 76 1-28 1 31 1-53 1 67 1-8 1-57 1 95 1-136 1 43 1 28 1 6 1-30 1 3 1 50 1-40 1 35 1-12 1-18 1-3 1 13 1-7 1 11 1-4 1-66 1 5 1 82 1 45 1-105 1-37 1 73 1-22 1 13 1-11 1 29 1-17 1 7 1 2 1-16 1 55 1-88 1 35 1-3 1 32 1 46 1-67 1 13 1 68 1-125 1-13 1 64 1-27 1-36 1 30 1 123 1-144 1 108 1-48 1-71 1 84 1 24 1-49 1 7 1 65 1-127 1 53 1 5 1-8 1-2 1-43 1 55 1 14 1-38 1 6 1-13 1 54 1-47 1-4 1 56 1-54 1 19 1-50 1-9 1 47 1 51 1-39 1 30 1-2 1-73 1 25 1 30 1 26 1-44 1-39 1 26 1 12 1 0 1-39 1 17 1 24 1 78 1-97 1 18 1 8 1-41 1 67 1-39 1 7 1 54 1-43 1-11 1-34 1 19 1 20 1-27 1 99 1-58 1 12 1-45 1-42 1 35 1-9 1 5 1-27 1 95 1-56 1 46 1-12 1-42 1-5 1 33 1-41 1 38 1 4 1-6 1-1 1-37 1 3 1 50 1-7 1 10 1-35 1 6 1-4 1 54 1-47 1 30 1 15 1-37 1 13 1-29 1 1 1 17 1-19 1 8 1 12 1 26 1-61 1 2 1-4 1 68 1 0 1-40 1-22 1 28 1-37 1 72 1-53 1 84 1-38 1 9 1-57 1 41 1-20 1-30 1 51 1-52 1 63 1-77 1 78 1 7 1-54 1-33 1 108 1-95 1-6 1 28 1 59 1-12 1-51 1 92 1-114 1-22 1 105 1-5 1-64 1 48 1-47 1 39 1 2 1-13 1-28 1 2 1 23 1-50 1-5 1 26 1 75 1-26 1-15 1-25 1-28 1 67 1-64 1 84 1-52 1 26 1-6 1-52 1 56 1-16 1-57 1 51 1 56 1-10 1-20 1-25 1-2 1 69 1-20 1 5 1-43 1-14 1 20 1-24 1 24 1-10 1-47 1 23 1 45 1-6 1-51 1 40 1 22 1-39 1 59 1-51 1 25 1-29 1-64 1 67 1 45 1 22 1-63 1 14 1 37 1-27 1-19 1 39 1-33 1-22 1 41 1-71 1 76 1 9 1-76 1 52 1 10 1 7 1-47 1 38 1-6 1 46 1-15 1-34 1 35 1-32 1-54 1 34 1-33 1 70 1-54 1 36 1-41 1 64 1-42 1-29 1 26 1-3 1 20 1 72 1-53 1-3 1-58 1 27 1 40 1-67 1 18 1 70 1-102 1 32 1-83 1 60 1 91 1-94 1 32 1 21 1-25 1-11 1 35 1 20 1-54 1 9 1 53 1-86 1 55 1-75 1 14 1 57 1-34 1 64 1-42 1 72 1-27 1-36 1-24 1-8 1-10 1 4 1 52 1-13 1 19 1-23 1 63 1-34 1-77 1 43 1 29 1-47 1 14 1 12 1 11 1 22 1-34 1-5 1 3 1-51 1 51 1-10 1-34 1 15 1 101 1-69 1 33 1-8 1-61 1-22 1 41 1 96 1-64 1-6 1 6 1-73 1 39 1-7 1 21 1-29 1 37 1 40 1-45 1 24 1 29 1 15 1-47 1-12 1-73 1 86 1 3 1-22 1-31 1 72 1-35 1-53 1-13 1 84 1 33 1-55 1 3 1-45 1 6 1 30 1 31 1-41 1 41 1 3 1-31 1-71 1 7 1 11 1 108 1-78 1 48 1-44 1-14 1 7 1 47 1 12 1-60 1-19 1 70 1 4 1-26 1 16 1-54 1-3 1 8 1 50 1 10 1-20 1-16 1-25 1 15 1 26 1-32 1-8 1 32 1 30 1-51 1-17 1 10 1 60 1-51 1 11 1 12 1-3 1 13 1 5 1-34 1 11 1-5 1 45 1-48 1-48 1 92 1-40 1 4 1-10 1-16 1 46 1-51 1 7 1 33 1-32 1-20 1-8 1 56 1-36 1 29 1 27 1-110 1 46 1 9 1 36 1-17 1 23 1-82 1 85 1-21 1-28 1 34 1-36 1 23 1 12 1-3 1 69 1-101 1 12 1 8 1 7 1 41 1-37 1 34 1-12 1 22 1-28 1-48 1 20 1 47 1-1 1-68 1 46 1-38 1-27 1 22 1 72 1 41 1-133 1 102 1 2 1-30 1-7 1-32 1 44 1 7 1-60 1 62 1-127 1 142 1-50 1-38 1 39 1 57 1-55 1-38 1 62 1 31 1-55 1 72 1-90 1-9 1 21 1 44 1-77 1-9 1 6 1 54 1-31 1 41 1-66 1 57 1 27 1-34 1-27 1 23 1 2 1 28 1-36 1 6 1-6 1 8 1-2 1 26 1-92 1 119 1-64 1-32 1 100 1-1 1-84 1-64 1 52 1 51 1 5 1 2 1 24 1-22 1-53 1 42 1-24 1-15 1 51 1-10 1-19 1 34 1-31 1-19 1 21 1 58 1-67 1 17 1-6 1 39 1-42 1 6 1 16 1 7 1-21 1 60 1-74 1 26 1-53 1 99 1-47 1-27 1 1 1 24 1-48 1 50 1-34 1 19 1 7 1 18 1-3 1-4 1-31 1 32 1 15 1-56 1 16 1-14 1 16 1-54 1 32 1 14 1-6 1-17 1 28 1-19 1 31 1-60 1 59 1 105 1-133 1 34 1-6 1-29 1 118 1-33 1-56 1 40 1-66 1 3 1 32 1-43 1 95 1-63 1-34 1-16 1 27 1-32 1 37 1 19 1-16 1-72 1 8 1 62 1-5 1 0 1 68 1-33 1-23 1 32 1-19 1 34 1-38 1-36 1 31 1-25 1 33 1 22 1-32 1 65 1-35 1-14 1 8 1-32 1 39 1-57 1 3 1 24 1 26 1 16 1-59 1 30 1-101 1 63 1-19 1 79 1-29 1 15 1 65 1-90 1 22 1-4 1-23 1-21 1 14 1-38 1 81 1-51 1 54 1-18 1-45 1 20 1 9 1 0 1-15 1-21 1 23 1 35 1-43 1 29 1-10 1 4 1-27 1 24 1 21 1 35 1-3 1-57 1 34 1-51 1 28 1-8 1 11 1-88 1 54 1 14 1-5 1 104 1-51 1-71 1-2 1 69 1 45 1-26 1-62 1 24 1-43 1 45 1-17 1-9 1 22 1 11 1 6 1-14 1-8 1-32 1 31 1 21 1 18 1-11 1-39 1 9 1-41 1 50 1 9 1-61 1 14 1-8 1 83 1-40 1-10 1 1 1 86 1-81 1 3 1-38 1 44 1-9 1 8 1 31 1-59 1-42 1 96 1-84 1-6 1 104 1-2 1-17 1 5 1-8 1 11 1-23 1-27 1-12 1 34 1 27 1-53 1-2 1 48 1-41 1 52 1-14 1-27 1 12 1-46 1 43 1-14 1-30 1 91 1-75 1-17 1 46 1-44 1 75 1-8 1 16 1-100 1 84 1-47 1 75 1-89 1 78 1-21 1 63 1-44 1-76 1 80 1-102 1-21 1 82 1 40 1-34 1-21 1 78 1-47 1-28 1-10 1 80 1-63 1-6 1-35 1 28 1-26 1 17 1 49 1-126 1 73 1 14 1 23 1-68 1 51 1-17 1 13 1 12 1 50 1-35 1-81 1 53 1 32 1 8 1-2 1-15 1-9 1-56 1 38 1-47 1 118 1-52 1 61 1 8 1-83 1 71 1-65 1 33 1-71 1-2 1 97 1-82 1 27 1-18 1 36 1-61 1 8 1 37 1 54 1 28 1-119 1 28 1 58 1-17 1-125 1 130 1-51 1-34 1-36 1 70 1-6 1 60 1-59 1 18 1 37 1 3 1-86 1 7 1-57 1 107 1 59 1-143 1 49 1-38 1 85 1-11 1-67 1 81 1-26 1-1 1-33 1-5 1 64 1-61 1 41 1-4 1-9 1-28 1 36 1-20 1 44 1 23 1-11 1-49 1 6 1-2 1 53 1-20 1-29 1-24 1 7 1 30 1 13 1 29 1-35 1-59 1 49 1 11 1-29 1-87 1 113 1 18 1 26 1 12 1-86 1 2 1 34 1-36 1-7 1 49 1-37 1-21 1 83 1-48 1-8 1 67 1-149 1 47 1-29 1 119 1-50 1-43 1 58 1-91 1 113 1-38 1 12 1 46 1-50 1-9 1 38 1-21 1-51 1 3 1 15 1-10 1-20 1 52 1 19 1-29 1-2 1 29 1-32 1-2 1-27 1 71 1-78 1 51 1 43 1-88 1 20 1 14 1 45 1-71 1 67 1 1 1-35 1-36 1 32 1-2 1 36 1-65 1 45 1-34 1-78 1 92 1 44 1 14 1-16 1 1 1-45 1-37 1 46 1 11 1-32 1 52 1-22 1-40 1-11 1 56 1 0 1 4 1-27 1-44 1 51 1 44 1-79 1-1 1-2 1 11 1 43 1 23 1-56 1 30 1-14 1-43 1 111 1-4 1-9 1-26 1-21 1-15 1 40 1-69 1 51 1-37 1-32 1 19 1 50 1-9 1-20 1-11 1 70 1-2 1-18 1-59 1 30 1 11 1 47 1-1 1-62 1 51 1-72 1 65 1-37 1-20 1 6 1 21 1-77 1 79 1-18 1 27 1-48 1-7 1 1 1 31 1-23 1 70 1-23 1-37 1 102 1-22 1-81 1 18 1 16 1-2 1-60 1 37 1 29 1 39 1-56 1 44 1-33 1 20 1-72 1 70 1-24 1-51 1 129 1-61 1 38 1-112 1 41 1 18 1-9 1-22 1 7 1 16 1-30 1 20 1-56 1 108 1-26 1-39 1-2 1 47 1-65 1 13 1-27 1 70 1-53 1 46 1-16 1-14 1 42 1-4 1-73 1 97 1-54 1-28 1-6 1 59 1 30 1-75 1 59 1-19 1 26 1 23 1-27 1-12 1 53 1-113 1 60 1-67 1 17 1 60 1-18 1 15 1-16 1-4 1-10 1-2 1 10 1 27 1 34 1-63 1 15 1-31 1 45 1-31 1 43 1-47 1 23 1-24 1-77 1 63 1 32 1-14 1 9 1 3 1-4 1 2 1 0 1-35 1 1 1-27 1 44 1 2 1-68 1 133 1-57 1-10 1-5 1 44 1-8 1 37 1-32 1 48 1-94 1 34 1 29 1-84 1 49 1 34 1-50 1 33 1 50 1-70 1-50 1 113 1-45 1-39 1 14 1-21 1 39 1-54 1 45 1 4 1-17 1 24 1 1 1 5 1 12 1-3 1 21 1-65 1 8 1 79 1-53 1-16 1 36 1-49 1 34 1-21 1 34 1-39 1 1 1-74 1 25 1 48 1 4 1 0 1-7 1 84 1-73 1-23 1 20 1 43 1 11 1 10 1-119 1 31 1-21 1 57 1 15 1 29 1-67 1 62 1-22 1-68 1-11 1 60 1-39 1 25 1-11 1 61 1-55 1 2 1-5 1 0 1 9 1-15 1 45 1-38 1 43 1-35 1 19 1 9 1-4 1-1 1-46 1 52 1-38 1-5 1-58 1 42 1 66 1 9 1-44 1-14 1 39 1-55 1 98 1 5 1-45 1-46 1-11 1 28 1-47 1 34 1 21 1-57 1 40 1 40 1-39 1 48 1-75 1 46 1 53 1-105 1 30 1 31 1-23 1-17 1 24 1-9 1-29 1 51 1-14 1-62 1 72 1 13 1-26 1-31 1 61 1-19 1 13 1-82 1 18 1 31 1-28 1 87 1-21 1-36 1-36 1 97 1-62 1 21 1 0 1-14 1 42 1-88 1 69 1-31 1 50 1-14 1 37 1-111 1-41 1 88 1-10 1-57 1 92 1-32 1 34 1-53 1 13 1-22 1 2 1 72 1-16 1-28 1-13 1 24 1-25 1-7 1 43 1-16 1 16 1 26 1-77 1-28 1 70 1-66 1 4 1 76 1-9 1 7 1-52 1-12 1 63 1 35 1-55 1-42 1 31 1 13 1 57 1-78 1 33 1-13 1-3 1 20 1 17 1-36 1-15 1-41 1 69 1 26 1-100 1 28 1 62 1-17 1-11 1-47 1 50 1-50 1 41 1 34 1-33 1 65 1-36 1-42 1 48 1-16 1 32 1-44 1 59 1-46 1-38 1 44 1-50 1 18 1-8 1 47 1-23 1 33 1-10 1-8 1-36 1-35 1 100 1-98 1 131 1-8 1-131 1 18 1 35 1-1 1 6 1 77 1-99 1 40 1 57 1-91 1-7 1-21 1 10 1 45 1-33 1 25 1-7 1-59 1 75 1 75 1-70 1 38 1-18 1-85 1 35 1 41 1-21 1-40 1 28 1-52 1 93 1-43 1 5 1 34 1-42 1-12 1-17 1 110 1-74 1-16 1-20 1 27 1 12 1 25 1-73 1 53 1-56 1 49 1-7 1 38 1 18 1-55 1 16 1-52 1 93 1-2 1-81 1 67 1 7 1 35 1-40 1-52 1-11 1 96 1-76 1 45 1-8 1-45 1 27 1-16 1-12 1 1 1 9 1-18 1 47 1 14 1-2 1-30 1 28 1-34 1 12 1-57 1 84 1-74 1 17 1-55 1 100 1-40 1 38 1-6 1-24 1-22 1-18 1 62 1 12 1-28 1-34 1 17 1-2 1-10 1 31 1-19 1-50 1 51 1 41 1-9 1-5 1-18 1-11 1 73 1-26 1-12 1 21 1 35 1-27 1-78 1 81 1-99 1 53 1-4 1-59 1-3 1 108 1-76 1 14 1 45 1-12 1 20 1-89 1-33 1 140 1-22 1-22 1 27 1-70 1 29 1 17 1 49 1-3 1-55 1 67 1-95 1 44 1-51 1 24 1-9 1 6 1 37 1-2 1-8 1-17 1-23 1 35 1-54 1 61 1 25 1-14 1-4 1-71 1 20 1 15 1 17 1-13 1 52 1-126 1 64 1-16 1-5 1 42 1 3 1 28 1-30 1 4 1 57 1-72 1 50 1-34 1-85 1 19 1 110 1-57 1-6 1-42 1-15 1 68 1 19 1-31 1-4 1 79 1-72 1 24 1-71 1 36 1 12 1-20 1 34 1-11 1-6 1 74 1-92 1-5 1 10 1-13 1 78 1-47 1 13 1 2 1 34 1-10 1-27 1 32 1-24 1 28 1-56 1-54 1 56 1 17 1 45 1-23 1-47 1 17 1 13 1 57 1-26 1-51 1 47 1-62 1 24 1 38 1-97 1 150 1-72 1 36 1-39 1-31 1-27 1 32 1 21 1-15 1 50 1-38 1-31 1 17 1-14 1 39 1-36 1 25 1 27 1 23 1 26 1-49 1-14 1-23 1 33 1 14 1-53 1-4 1-2 1 4 1 34 1-36 1-2 1-16 1 42 1 27 1-72 1 3 1 39 1 70 1-46 1-64 1 58 1-4 1-56 1 33 1 3 1 25 1-35 1 4 1-16 1 84 1-103 1-22 1 45 1 31 1-55 1-2 1 68 1-22 1-9 1 38 1-27 1-36 1-39 1 133 1-84 1 72 1-30 1-43 1 58 1-48 1 28 1-40 1 72 1-116 1 101 1-10 1 20 1-87 1 30 1 12 1-48 1 91 1-10 1-40 1 37 1-17 1-4 1 3 1-19 1 48 1-75 1 36 1 25 1-6 1-28 1 14 1-22 1-32 1 50 1 54 1-65 1 6 1 0 1 11 1 49 1-46 1-15 1 11 1-59 1-5 1 125 1-134 1 108 1-25 1-111 1 41 1 22 1 68 1-39 1-14 1 49 1-45 1 59 1-94 1 50 1 27 1-77 1 19 1-21 1 98 1-26 1-18 1 53 1-60 1 1 1 10 1-4 1 48 1-72 1-27 1 93 1-5 1-40 1 40 1-10 1-17 1 34 1 10 1-90 1 69 1-65 1 57 1-51 1 40 1 35 1-68 1 22 1 19 1-99 1 14 1 100 1-36 1 10 1 16 1-46 1-10 1-11 1 78 1-59 1-24 1 113 1-58 1 15 1-52 1 75 1-48 1 5 1 20 1-26 1 53 1-14 1-7 1-60 1-21 1 56 1 7 1 40 1-6 1-54 1-32 1 51 1 11 1-4 1-42 1-22 1 44 1 12 1-21 1 28 1-18 1-41 1 22 1 70 1-121 1-31 1 149 1-35 1-37 1-22 1 106 1-120 1 15 1 19 1 26 1 62 1-71 1 33 1-40 1 28 1 27 1-113 1-18 1 141 1-61 1 46 1-63 1 57 1-48 1 36 1-42 1 86 1-79 1 8 1-7 1 9 1-42 1 4 1 65 1-22 1 29 1-10 1-79 1 95 1-64 1-26 1 31 1-14 1 75 1-22 1 15 1-79 1 53 1 23 1-24 1-41 1 83 1-72 1 23 1 11 1-19 1 36 1 12 1 15 1-62 1 63 1-31 1 8 1-60 1 123 1-78 1-13 1-7 1 9 1-32 1 35 1 11 1-23 1-4 1 3 1-5 1-26 1-9 1 85 1-9 1-100 1 85 1 59 1-67 1-18 1-27 1 26 1-6 1 12 1-30 1 92 1-56 1-9 1 4 1-33 1 82 1-86 1 16 1 67 1-33 1-4 1 72 1-75 1 21 1 0 1 46 1-76 1-37 1 2 1 3 1 28 1-17 1 78 1-30 1-11 1-7 1 19 1-14 1-33 1 74 1-65 1 22 1-16 1 7 1-4 1 22 1-45 1-2 1 13 1 50 1-19 1-16 1-58 1 41 1 7 1-22 1 84 1-65 1 120 1-82 1-22 1 56 1 29 1-31 1-63 1 2 1 1 1 18 1-41 1 17 1 38 1-19 1-67 1 84 1 22 1 6 1 22 1-23 1-89 1 23 1 3 1-9 1 50 1-9 1-17 1-46 1 65 1 30 1-15 1-81 1 53 1 40 1-53 1-15 1 52 1-5 1 12 1 22 1-42 1-38 1 4 1 23 1 46 1-53 1-30 1-2 1 55 1 12 1-64 1 29 1-45 1 18 1-8 1 37 1 42 1-55 1 23 1-30 1 27 1-27 1 42 1-24 1-31 1-15 1 91 1-52 1 1 1 2 1 7 1-6 1 20 1-32 1-31 1 104 1-104 1 93 1-31 1 18 1-54 1 31 1-27 1 85 1-65 1-30 1 29 1 35 1-38 1-52 1 22 1-9 1 72 1-29 1 18 1-13 1 26 1-8 1-69 1 86 1-64 1 28 1 15 1-45 1 19 1-40 1-25 1 48 1 35 1 8 1 36 1-59 1 24 1-95 1 93 1 3 1 10 1-29 1 16 1 41 1-98 1 22 1-41 1 34 1 22 1-32 1 34 1-40 1 38 1-9 1 71 1-47 1-26 1 7 1 7 1-42 1-1 1 83 1-45 1-14 1-55 1 61 1 26 1-12 1-45 1 124 1-116 1-6 1 46 1-45 1 64 1 12 1 18 1-49 1-20 1 9 1 52 1-49 1-17 1 4 1-34 1 85 1-48 1 18 1-9 1 22 1-20 1 48 1-26 1-54 1 53 1-9 1-23 1-6 1-23 1 68 1-19 1 36 1-59 1 13 1-4 1 43 1-60 1 63 1 3 1-24 1 12 1-49 1 15 1 29 1-59 1 11 1 31 1 19 1 9 1-45 1 11 1-12 1-2 1 3 1 32 1-34 1 13 1 73 1-57 1-56 1 26 1 27 1 3 1-31 1 27 1 38 1-6 1-125 1 89 1-11 1-5 1-5 1-12 1 20 1 17 1-7 1-4 1-58 1-3 1 33 1-33 1 75 1 10 1 49 1-105 1 15 1 56 1-60 1 28 1-18 1-26 1 13 1 23 1 12 1-48 1 72 1-49 1-20 1-16 1 98 1-69 1 26 1-1 1-38 1 23 1 96 1-112 1 60 1-55 1 38 1 5 1-24 1-18 1 50 1-74 1 61 1-33 1-46 1 73 1-22 1-14 1-6 1-5 1 29 1 2 1-5 1 23 1 44 1-71 1 10 1-88 1 105 1 25 1-20 1-3 1-35 1 34 1-35 1 38 1-2 1-23 1 2 1 51 1-63 1 23 1-72 1 71 1-17 1 43 1-50 1 36 1-24 1-23 1 74 1 25 1-61 1-13 1-14 1-24 1 57 1-3 1 22 1-49 1-22 1 39 1-33 1 49 1-2 1-60 1 2 1 38 1 38 1-42 1 48 1-57 1 30 1 19 1-29 1-86 1 66 1-1 1 58 1-62 1 75 1-33 1-28 1-64 1 96 1-41 1 26 1 55 1-85 1-60 1 55 1 53 1-24 1-21 1 52 1-40 1 27 1-21 1 14 1-16 1-11 1 37 1-76 1 87 1-52 1-50 1 17 1 55 1-23 1 47 1-43 1 46 1-73 1 28 1 34 1-48 1 45 1-27 1 35 1-7 1-50 1-34 1 7 1 21 1 29 1-22 1 32 1-1 1 5 1-39 1 21 1 57 1-56 1-33 1 24 1 39 1-21 1 0 1-30 1 11 1 29 1-40 1 93 1 0 1-87 1 89 1-115 1 42 1 4 1-37 1-26 1 65 1-12 1 47 1 10 1 1 1-88 1 58 1-66 1 91 1-9 1-35 1-28 1 64 1-13 1 8 1-86 1 48 1-2 1 39 1-18 1 21 1-103 1 82 1 65 1-28 1 36 1-32 1 17 1-100 1 48 1 32 1-111 1 85 1-75 1 67 1-10 1-19 1-34 1 54 1-54 1 83 1-104 1 61 1 9 1 11 1-16 1-11 1 13 1 55 1-114 1 88 1 8 1 4 1-58 1 51 1-17 1-63 1 23 1 31 1 34 1-32 1-20 1 51 1-8 1-46 1 31 1-60 1 95 1-27 1 9 1-38 1 34 1-56 1-31 1 65 1-17 1 34 1-57 1 67 1-24 1-20 1 49 1-58 1 31 1-18 1 24 1 29 1-65 1 17 1 1 1 18 1-31 1 33 1-21 1-49 1 68 1-28 1 29 1-24 1 18 1-34 1 47 1-9 1-66 1 48 1-54 1 66 1 31 1-35 1-16 1 21 1 40 1 10 1-117 1 88 1-44 1-16 1 3 1 137 1-53 1-8 1-65 1 37 1 26 1-63 1-6 1 24 1 48 1-57 1 41 1-25 1-14 1 2 1 14 1-4 1-25 1 18 1 89 1-59 1-27 1-35 1 53 1 3 1-36 1 52 1-58 1 43 1-28 1-5 1-2 1-24 1 45 1 18 1-26 1-72 1 35 1 70 1 9 1-36 1 43 1-5 1-82 1 2 1 3 1-23 1 124 1-74 1 27 1-57 1 69 1-48 1-15 1-4 1-21 1 3 1 47 1 56 1-66 1-37 1 11 1 108 1-36 1-54 1 3 1 15 1-1 1 32 1-45 1-42 1 57 1 60 1-34 1-41 1-1 1 45 1 3 1-35 1-4 1 4 1 6 1 1 1 23 1 41 1-23 1-29 1-39 1 56 1-100 1 75 1 22 1-53 1-15 1-10 1 21 1 11 1 30 1-18 1-4 1 34 1-38 1 77 1-39 1-8 1-17 1-14 1 3 1 3 1 59 1-123 1 91 1-59 1 33 1 4 1 13 1-6 1 53 1-43 1-87 1 52 1 43 1-6 1 3 1-11 1-50 1 27 1 36 1 55 1-131 1 19 1 40 1-14 1 26 1 9 1-107 1 164 1-70 1-24 1-4 1 17 1 10 1-20 1 48 1 1 1-58 1 46 1-50 1-15 1-9 1 8 1 75 1-37 1 2 1-36 1 46 1-56 1 40 1-40 1 41 1 1 1 40 1-23 1-67 1 2 1 132 1-161 1 22 1 83 1-50 1-6 1 117 1-80 1-10 1 12 1 40 1-43 1-23 1 5 1 51 1-116 1 116 1-15 1-40 1 36 1 2 1-2 1-14 1-86 1 92 1 9 1 21 1-47 1-13 1 49 1-13 1-29 1 34 1 7 1-52 1-19 1 55 1 58 1-85 1 68 1-116 1 54 1-13 1 13 1-25 1 10 1 9 1 8 1 60 1-75 1 32 1-19 1-23 1 61 1-2 1-54 1 52 1-8 1-1 1-37 1 32 1-17 1-40 1 28 1 2 1 18 1 12 1 38 1-44 1-45 1-26 1 83 1-20 1-17 1 7 1 24 1 68 1-65 1 7 1-12 1-5 1 18 1-32 1 31 1 26 1-61 1 15 1-17 1-20 1 86 1-43 1 35 1-51 1 53 1 45 1-135 1 82 1-19 1-31 1-18 1 26 1 18 1-79 1 76 1 20 1-39 1 30 1-32 1 42 1-46 1 71 1-62 1-18 1 17 1 8 1-79 1 75 1 29 1-28 1-44 1 61 1 42 1-47 1 32 1-33 1 45 1-106 1 54 1-24 1 21 1-26 1 36 1 6 1 16 1-10 1-50 1-5 1 52 1 35 1-83 1 61 1-6 1-15 1-43 1 21 1 21 1 42 1-52 1-39 1 34 1-18 1 20 1 11 1-14 1 6 1-83 1 75 1 10 1-3 1-8 1-1 1-20 1 1 1 19 1 77 1-96 1 18 1-39 1 130 1-108 1 105 1-80 1 13 1-41 1 101 1-96 1 82 1-40 1 6 1-41 1 34 1-19 1 29 1-8 1 10 1-41 1 36 1 12 1-57 1 9 1-40 1 56 1-29 1 48 1-55 1-17 1 1 1 110 1-20 1 27 1-103 1-7 1 55 1 18 1-9 1 10 1-10 1 6 1-52 1-45 1 75 1-33 1-25 1 4 1 56 1-26 1-27 1 6 1-9 1 71 1-23 1-30 1 37 1-77 1-16 1 115 1-8 1-18 1-14 1-28 1-25 1 89 1-22 1-31 1 47 1-37 1 66 1-60 1 16 1-19 1 52 1-10 1-8 1 29 1 18 1-27 1-57 1 26 1-16 1 11 1-62 1 75 1-11 1-33 1 25 1-6 1-8 1 50 1 8 1-19 1-53 1-56 1 124 1-49 1 84 1-66 1-17 1 8 1 48 1-32 1-68 1 51 1 27 1-29 1 34 1-12 1-5 1-9 1 11 1-31 1 67 1-9 1-71 1 47 1-10 1 12 1 0 1 21 1-41 1 5 1 30 1-34 1-35 1 103 1-99 1 54 1-7 1-23 1-18 1 21 1-13 1 64 1-1 1-8 1-24 1 23 1 3 1-63 1 31 1 39 1-88 1 0 1 3 1 119 1-35 1-5 1-44 1-14 1 2 1 40 1-60 1-34 1 67 1-34 1 34 1 92 1-66 1-10 1-31 1-10 1 49 1 15 1-4 1-26 1 6 1-14 1-31 1 72 1-103 1 78 1-57 1 43 1-19 1 44 1-55 1 32 1 48 1-39 1 20 1-52 1 41 1-48 1 4 1 5 1 39 1-58 1 42 1 3 1-42 1 51 1-57 1 13 1 7 1 24 1 17 1-34 1 54 1-49 1 41 1-72 1 37 1-32 1 70 1-34 1 22 1-16 1 33 1-72 1 61 1-44 1-3 1-29 1 26 1 79 1-31 1 16 1 1 1-7 1-61 1 2 1 12 1 48 1-19 1-39 1 11 1 49 1-44 1 2 1-51 1 63 1 81 1-103 1-26 1 93 1-86 1-9 1 33 1 26 1-21 1 12 1-20 1-33 1 35 1 24 1-42 1 35 1 44 1-64 1-55 1 79 1-21 1 56 1-45 1 7 1-19 1 7 1 7 1-34 1 50 1 14 1-74 1 18 1 52 1 10 1-3 1-116 1 52 1 15 1-15 1 5 1-64 1 63 1 3 1 27 1-41 1 18 1 7 1 99 1-86 1 24 1-55 1 94 1-48 1 17 1-39 1-5 1-9 1 35 1-9 1 32 1-49 1 29 1-64 1-32 1 126 1-50 1 40 1-2 1-47 1-10 1 26 1-39 1 28 1 20 1-78 1 39 1 19 1-26 1-3 1 35 1-42 1 91 1-12 1-48 1 51 1-99 1 56 1-36 1 31 1 19 1-8 1-38 1 40 1 58 1-116 1 60 1-2 1-3 1 27 1 57 1-71 1 3 1-28 1 1 1 20 1 12 1-84 1 42 1 16 1 48 1-28 1-22 1 39 1-11 1 9 1-27 1-19 1 17 1 3 1-22 1-16 1 128 1-64 1-25 1-21 1 88 1-62 1-57 1 44 1-6 1-27 1 9 1 47 1-31 1 32 1-43 1-7 1-10 1 20 1 103 1-86 1 25 1-53 1-14 1 28 1 28 1-33 1-13 1-11 1 4 1 43 1-14 1 5 1-40 1 92 1 2 1-90 1 0 1 14 1 28 1-38 1 35 1 20 1-44 1 61 1-50 1 20 1-12 1-58 1 109 1-59 1-30 1 11 1 16 1 45 1-77 1 60 1-81 1 67 1-35 1 4 1 48 1-15 1-41 1 53 1-42 1 36 1-30 1 16 1-3 1-36 1 74 1 4 1 30 1-167 1 119 1-54 1 50 1 6 1 10 1-98 1 98 1 7 1-48 1-7 1 8 1 47 1-37 1-26 1 53 1-79 1 73 1-34 1 9 1 18 1-47 1 84 1-46 1 39 1-56 1 77 1-85 1 44 1-53 1 45 1-67 1 62 1 4 1 8 1-5 1 35 1-55 1 65 1-56 1 14 1-5 1 17 1-19 1-6 1-10 1-44 1 61 1-36 1-5 1 2 1 35 1-76 1 118 1-30 1-30 1 33 1-27 1-17 1 23 1 9 1-27 1 29 1 7 1 40 1-81 1-36 1 92 1-13 1-66 1 87 1-8 1-51 1 16 1-21 1 70 1-74 1 49 1-62 1 11 1 46 1-56 1 45 1 27 1-20 1 32 1-38 1 25 1-73 1 75 1-78 1 17 1 82 1-52 1 5 1 11 1-14 1-75 1 74 1 36 1-10 1-14 1-94 1 94 1-67 1 99 1-33 1-3 1 2 1-24 1-5 1 20 1 40 1-52 1 7 1-24 1 54 1-75 1 33 1 53 1-70 1 62 1-10 1-14 1-20 1-69 1 87 1-26 1 2 1 25 1 43 1-53 1 70 1-82 1 62 1-59 1-26 1 61 1-46 1-19 1 77 1 35 1-51 1-31 1 45 1-35 1-8 1-17 1-15 1 26 1 42 1-18 1 45 1-78 1-48 1 117 1-64 1-7 1-78 1 32 1 84 1-48 1 8 1 86 1-65 1 14 1-66 1 65 1-25 1-34 1 16 1 78 1-42 1-14 1-5 1 26 1-41 1 58 1-11 1-64 1 59 1 39 1-97 1 93 1-20 1-33 1-19 1 1 1-8 1 8 1 6 1 18 1 13 1 8 1-97 1 48 1 21 1-32 1 23 1-3 1 13 1-12 1 14 1 50 1-53 1-12 1 19 1 10 1-16 1 9 1 37 1-36 1 23 1 18 1-57 1 5 1-20 1 39 1-26 1 12 1-16 1 47 1-59 1 56 1 44 1-66 1 49 1-84 1 76 1-45 1 59 1-70 1-35 1 60 1-52 1 46 1 33 1-29 1 18 1-48 1 2 1-39 1 85 1-23 1 16 1 7 1-16 1-30 1-4 1-13 1 47 1-6 1 9 1 103 1-118 1-1 1 20 1-24 1-32 1 80 1-55 1 35 1-17 1 2 1 2 1-61 1 56 1 4 1 29 1-93 1 40 1 15 1 30 1-18 1-68 1 86 1 5 1-82 1 82 1-58 1-43 1 109 1-8 1-78 1-2 1-24 1 61 1 2 1 46 1-31 1-7 1-12 1 40 1-22 1-42 1-20 1 34 1-8 1-24 1 120 1-133 1 66 1 56 1-68 1-14 1 45 1-61 1 10 1-49 1 82 1-2 1 17 1 19 1-49 1-61 1 95 1 8 1-34 1 29 1-41 1 26 1 9 1 0 1-20 1-47 1 116 1-132 1 53 1-37 1 18 1 11 1 49 1 1 1-57 1 8 1-52 1 182 1-89 1 68 1-158 1 93 1 27 1-74 1-3 1 70 1-19 1-18 1-59 1 79 1-25 1-36 1 30 1 18 1-17 1-42 1 46 1-35 1 69 1-24 1 11 1-57 1 74 1 19 1-73 1-23 1-35 1 130 1-12 1-89 1 22 1 38 1-25 1-30 1 18 1 83 1-61 1-7 1-33 1-4 1 39 1-15 1 32 1 17 1-38 1 57 1 23 1-24 1-68 1 17 1 7 1-57 1 41 1 24 1-54 1 43 1 56 1-35 1-2 1-29 1 14 1-22 1 17 1 10 1 2 1-5 1 8 1 36 1-22 1-47 1 58 1-86 1 34 1 19 1 48 1-48 1 5 1-30 1-22 1 5 1 11 1-7 1-30 1 37 1 3 1 40 1-23 1-16 1 78 1-125 1 72 1-28 1 99 1-80 1 43 1-35 1 36 1-2 1 21 1-102 1 69 1 13 1 15 1-48 1-60 1 58 1 28 1-27 1 20 1-16 1 18 1-75 1-27 1 89 1 19 1-40 1 4 1-31 1 53 1-12 1-7 1 6 1-20 1-3 1 2 1 77 1-81 1 12 1 73 1-68 1 26 1-19 1 35 1-67 1 4 1-11 1 17 1-1 1-2 1-23 1 42 1-29 1 71 1-68 1 33 1-62 1 38 1 48 1-45 1 30 1-55 1 38 1 6 1-4 1 38 1-42 1 12 1-11 1-35 1 79 1-38 1-55 1 58 1 6 1-19 1-35 1 39 1-37 1 75 1-82 1 57 1-32 1-14 1 58 1-90 1 59 1 23 1-72 1 31 1-51 1 75 1 46 1-57 1 75 1-90 1 26 1 83 1-76 1 28 1 32 1-32 1-3 1-32 1 36 1-76 1-33 1 57 1 48 1-28 1-1 1 31 1-21 1-54 1 72 1-59 1 39 1 26 1-24 1-40 1 33 1 18 1-13 1 27 1-41 1-25 1-4 1-27 1 40 1 99 1-90 1 61 1-33 1 11 1-43 1 19 1 15 1-19 1 57 1-21 1-54 1-42 1 83 1-64 1 52 1-49 1 82 1-50 1-31 1 81 1-41 1 33 1-22 1-23 1 23 1 12 1-29 1 32 1-13 1 13 1-33 1 35 1 5 1 1 1 7 1-54 1-19 1 38 1 36 1 13 1-38 1-2 1-14 1 3 1-22 1 47 1-94 1 101 1-24 1-5 1 21 1 46 1-110 1-81 1 79 1 100 1-62 1 9 1-49 1 36 1 11 1 20 1-41 1 27 1-22 1-4 1 12 1 3 1 10 1-9 1 44 1 28 1-67 1-31 1 39 1 12 1-29 1 37 1 0 1-20 1-18 1 4 1-44 1 54 1 40 1-15 1-13 1-15 1 34 1-60 1 1 1 45 1-67 1 44 1 28 1-14 1 5 1-58 1 55 1-63 1 28 1 15 1-18 1 24 1 7 1 29 1-76 1-52 1 119 1-36 1-61 1-5 1 11 1 58 1-50 1 44 1 37 1-45 1-5 1-35 1 70 1 11 1-42 1-9 1-37 1 45 1 30 1-19 1-98 1 165 1-64 1-60 1 53 1 36 1-11 1-47 1 61 1-42 1 7 1-21 1-5 1-1 1 20 1-17 1 28 1 28 1-27 1-23 1-13 1-31 1 75 1 23 1 0 1-42 1 76 1-20 1-56 1-2 1 62 1-73 1 18 1-23 1-10 1 40 1-5 1-16 1 53 1-55 1 71 1-90 1 19 1 42 1-23 1 18 1-31 1-30 1 51 1-18 1-32 1 44 1-35 1 58 1-17 1-36 1-14 1 83 1-39 1-48 1 32 1 40 1-40 1 31 1-62 1 71 1 9 1-40 1 5 1 0 1 29 1-55 1 31 1 32 1-142 1 86 1 36 1-48 1 62 1-73 1-7 1 23 1-9 1-5 1-33 1-44 1 193 1-103 1 25 1-63 1 53 1-11 1 31 1-51 1 12 1 22 1-57 1-9 1 52 1 22 1 18 1-98 1 105 1-43 1 40 1 2 1 1 1-81 1 67 1 45 1-23 1 14 1-34 1 3 1-69 1 83 1 8 1-47 1-58 1 78 1 13 1-73 1 106 1-57 1 13 1-36 1 6 1 21 1 7 1-14 1 13 1 8 1-20 1-5 1-52 1 44 1 45 1-40 1 32 1-84 1 49 1 33 1 12 1-57 1 53 1 13 1-38 1 26 1-29 1-11 1-51 1 12 1 6 1 68 1-43 1 51 1-15 1 2 1 21 1 28 1-98 1 28" stroke="#0000ff" stroke-width="0.9" fill="none"/>
<path d="M95.3 85.55L192.65 85.55L192.65 83.35L289.99 83.35L289.99 88.35L387.34 88.35L387.34 85.75L484.68 85.75" stroke="#fff" stroke-width="2.6" fill="none"/></g>
<rect x="95.3" y="43.5" width="389.1" height="86.1" fill="none" stroke="#2a2a2a" stroke-width="1.2"/>
<rect x="616.7" y="43.6" width="388.9" height="86.1" fill="url(#gT)"/>
<path d="M616.7 129.7V120.6M616.7 43.6V52.7M664.16 129.7V120.6M664.16 43.6V52.7M711.62 129.7V120.6M711.62 43.6V52.7M759.08 129.7V120.6M759.08 43.6V52.7M806.54 129.7V120.6M806.54 43.6V52.7M854 129.7V120.6M854 43.6V52.7M901.46 129.7V120.6M901.46 43.6V52.7M948.92 129.7V120.6M948.92 43.6V52.7M996.38 129.7V120.6M996.38 43.6V52.7M616.7 121.64H625.8M1005.6 121.64H996.5M616.7 103.62H625.8M1005.6 103.62H996.5M616.7 85.6H625.8M1005.6 85.6H996.5M616.7 67.58H625.8M1005.6 67.58H996.5M616.7 49.56H625.8M1005.6 49.56H996.5" stroke="#9696a0" stroke-width="0.85" fill="none"/>
<g clip-path="url(#cTR)"><path transform="matrix(0.023730 0 0 0.25 616.7 85.6)" vector-effect="non-scaling-stroke" d="M0-19l1 12 1 9 1 77 1-94 1 88 1-104 1 10 1-7 1 0 1 18 1 28 1-7 1-63 1 72 1-12 1 17 1-7 1-8 1-19 1 19 1 2 1 9 1-24 1 49 1-48 1-43 1 71 1-24 1-98 1 130 1 22 1-41 1-77 1-8 1 112 1-62 1 20 1 20 1 47 1-102 1 64 1-39 1 7 1-61 1 24 1 80 1-31 1-44 1 81 1-33 1-21 1 63 1-13 1 16 1-68 1 29 1-51 1 28 1-16 1 23 1-29 1 30 1 30 1-74 1 6 1-44 1 83 1 15 1 30 1 67 1-72 1-62 1 47 1 59 1-110 1 41 1-8 1 3 1-10 1-21 1 75 1-51 1 9 1-56 1 74 1-91 1 35 1-35 1 80 1-52 1 16 1 63 1-42 1 6 1 18 1-7 1 23 1-33 1-27 1 38 1 27 1-90 1 49 1-14 1 9 1 10 1-39 1 39 1-19 1 50 1 7 1-43 1-78 1 59 1-60 1 51 1-1 1 36 1-19 1-62 1 20 1 62 1-5 1-62 1 64 1-49 1 62 1-53 1-30 1 23 1 21 1 3 1 8 1-2 1-41 1 0 1 26 1 57 1-25 1-28 1 8 1 48 1-69 1-66 1 131 1-44 1-53 1 69 1 0 1-20 1-13 1 33 1-48 1 99 1-87 1 9 1 18 1-18 1 11 1-44 1 62 1-15 1 47 1-9 1-31 1 45 1-24 1 16 1-28 1-21 1-28 1 98 1-59 1-37 1-17 1-1 1 97 1-31 1-37 1-13 1 22 1 1 1 1 1 34 1-32 1-22 1 40 1-52 1 137 1-86 1-69 1 28 1-19 1 44 1 45 1-23 1-69 1 115 1-30 1 26 1-41 1-4 1-34 1 48 1-87 1 37 1 38 1 18 1 17 1-55 1-64 1 73 1 30 1-33 1 16 1 13 1 34 1-63 1-53 1 9 1 8 1 27 1-9 1-19 1 37 1-12 1 23 1-52 1 70 1-55 1-6 1 1 1 4 1 41 1 3 1-5 1-2 1 26 1-23 1 6 1 11 1-45 1 38 1-34 1-42 1-7 1 57 1-35 1 27 1-74 1 26 1 18 1 44 1 3 1-27 1 19 1 8 1-33 1 67 1 26 1-34 1 5 1-37 1 27 1-23 1 63 1-120 1 37 1 43 1-40 1-32 1 14 1 32 1-25 1-9 1 72 1 8 1-29 1-54 1-17 1 46 1-47 1 17 1 37 1 23 1-3 1-25 1-46 1 20 1 74 1-3 1-70 1 21 1 39 1-56 1-24 1 20 1 24 1-43 1 60 1 7 1 11 1-97 1-8 1 75 1-22 1 5 1-17 1-9 1 18 1 26 1 15 1 17 1 55 1-86 1 25 1-30 1 5 1 32 1-18 1-32 1 9 1 36 1-5 1-45 1 11 1-2 1 16 1-31 1 22 1-84 1 104 1 8 1-81 1 59 1 24 1-42 1 95 1-95 1 15 1-9 1 37 1-73 1 35 1 11 1-13 1 41 1-24 1 47 1-14 1-47 1 6 1-22 1 48 1-19 1 20 1-32 1-18 1-10 1 17 1 47 1-34 1 42 1 31 1-72 1 3 1-22 1-3 1 70 1-11 1-31 1-2 1-12 1 59 1-36 1-31 1-42 1 107 1-98 1 65 1 40 1-95 1 82 1 4 1-65 1-11 1 33 1 27 1 27 1-55 1 84 1-30 1-86 1 15 1-21 1 28 1 53 1-55 1 78 1-86 1-22 1 81 1-70 1 34 1 7 1 62 1-62 1-35 1 88 1-42 1 8 1 31 1-91 1 35 1-1 1-32 1 59 1-137 1 127 1 24 1-61 1 8 1 46 1-2 1-59 1 18 1-4 1-16 1 50 1-64 1 42 1-23 1 56 1-58 1 17 1-76 1 90 1-57 1 30 1-32 1 45 1-8 1 92 1-32 1-79 1 21 1-12 1 35 1-35 1 39 1-11 1-43 1 5 1 51 1-16 1-7 1 13 1-1 1 29 1-52 1 55 1-3 1-76 1-19 1-1 1 51 1 31 1-44 1-28 1 49 1 18 1 43 1 1 1-116 1 109 1-28 1-12 1-19 1 53 1-64 1 0 1 17 1 24 1-9 1 54 1-88 1 40 1 29 1-46 1-18 1 5 1-9 1-19 1 58 1-24 1-2 1 58 1-87 1 49 1-20 1-1 1 38 1-56 1-5 1 27 1 105 1-146 1 52 1 17 1-2 1 17 1-24 1-34 1 59 1-45 1 27 1-11 1 4 1-24 1-24 1 35 1-31 1-20 1 100 1-76 1 37 1-4 1-39 1 41 1 13 1-64 1 7 1 21 1-82 1 130 1 22 1-48 1 31 1-52 1 33 1 1 1-21 1 29 1 37 1-41 1-49 1 16 1-24 1-25 1 27 1 32 1 24 1-42 1-39 1 6 1 17 1 59 1-47 1-4 1-18 1 85 1-19 1-29 1 1 1 25 1-38 1 27 1-48 1 55 1-24 1 79 1-79 1 30 1-47 1 30 1-48 1 60 1 31 1-57 1-12 1 45 1 19 1-70 1-10 1 11 1 22 1 3 1-56 1 29 1 58 1 6 1-58 1-4 1 46 1 5 1-59 1 44 1-40 1 67 1-4 1 24 1-57 1 13 1 43 1-62 1 23 1-11 1-55 1 15 1 16 1 28 1 30 1-19 1-9 1-56 1 75 1-13 1-19 1-13 1-24 1-8 1 50 1-71 1 43 1 50 1 6 1-19 1-5 1-36 1 55 1-8 1 9 1-38 1 59 1-69 1 46 1-20 1-22 1 5 1-85 1 126 1 40 1-26 1-73 1 65 1-72 1 43 1-33 1 77 1-87 1-4 1 71 1-77 1-45 1 90 1 32 1-11 1-11 1-44 1-28 1 76 1-6 1 39 1-29 1-34 1 85 1-92 1-8 1-10 1 61 1 34 1-44 1 25 1 25 1-34 1 22 1-114 1 41 1-5 1 68 1-85 1 60 1-42 1 64 1-56 1 78 1-51 1 2 1 39 1-48 1 20 1-5 1-39 1-19 1 51 1-51 1 10 1 9 1-29 1 105 1-96 1 32 1 26 1-7 1-41 1-6 1 16 1 64 1 11 1-52 1-20 1 45 1-53 1 9 1 4 1 43 1-69 1 9 1-13 1 34 1 56 1-57 1-16 1 34 1 34 1-58 1-2 1 64 1-18 1 25 1-61 1 6 1-54 1 91 1-77 1 53 1-16 1 51 1-43 1 19 1-14 1-10 1-11 1-12 1 30 1 29 1-65 1 32 1 24 1-68 1 37 1-15 1 83 1-37 1-90 1 52 1 0 1 41 1-19 1-18 1 15 1 2 1 56 1-33 1-12 1-34 1 1 1 19 1 24 1 0 1-33 1 54 1-38 1 3 1-2 1-65 1 61 1-34 1-25 1 37 1 17 1 43 1-98 1 93 1 32 1-106 1 87 1-9 1-17 1 17 1 34 1-81 1-10 1-9 1 27 1 12 1 5 1-60 1 13 1 44 1-26 1 51 1-57 1 54 1-32 1 3 1 83 1-114 1 24 1 26 1-2 1-21 1 2 1-21 1 10 1-15 1 12 1 56 1 0 1-64 1 3 1 13 1 45 1-21 1 4 1-50 1 50 1 18 1-19 1-37 1-44 1 71 1-55 1 53 1 0 1 14 1-56 1 43 1-48 1 45 1-73 1 52 1 5 1 42 1-84 1 34 1 7 1 2 1 17 1 1 1-29 1 39 1-23 1-81 1 81 1 5 1-40 1 63 1-80 1 47 1 40 1-35 1 19 1-47 1 39 1-40 1 89 1-50 1-34 1 2 1 15 1-23 1-1 1 26 1-7 1-23 1 24 1 93 1-33 1-32 1-45 1 21 1-20 1-12 1 16 1 50 1-60 1 74 1-2 1-28 1 62 1-134 1-23 1 86 1 7 1 59 1-89 1 42 1 17 1 6 1-42 1 3 1-3 1 17 1 38 1-108 1 21 1 48 1 26 1-12 1-57 1 6 1 7 1-31 1 60 1-68 1 43 1 31 1-43 1 7 1 35 1-85 1 117 1-65 1-5 1 38 1-26 1-43 1 82 1-1 1-25 1-29 1-21 1 18 1 58 1-76 1 14 1-11 1 92 1 1 1-34 1-8 1-14 1 37 1-1 1-51 1 87 1-32 1-41 1-25 1 17 1-45 1 44 1-14 1-4 1 26 1 47 1-35 1-3 1 23 1-52 1 41 1 32 1-50 1 34 1-52 1 107 1-31 1-58 1-8 1 5 1-48 1 60 1 9 1-46 1 39 1-24 1-30 1 48 1-1 1 16 1-34 1-7 1-15 1 13 1-46 1 63 1 0 1 14 1-53 1 41 1 12 1 34 1-40 1-33 1 116 1-50 1-6 1-4 1-29 1 15 1-18 1-5 1-36 1 54 1-20 1 19 1-13 1 17 1 27 1-52 1-24 1 69 1-31 1 0 1 70 1-137 1 16 1 10 1 6 1 63 1 53 1-80 1-5 1 12 1 6 1-49 1 8 1 27 1 16 1-94 1 49 1 24 1 48 1 8 1 41 1-85 1-18 1 16 1-6 1-8 1-20 1 88 1-18 1-72 1 20 1-7 1 51 1-85 1 47 1 12 1 22 1-37 1 1 1 9 1-59 1 15 1 40 1 20 1-5 1-27 1 106 1-105 1 18 1-80 1 58 1 20 1-7 1 23 1 2 1-22 1 66 1-68 1 57 1-33 1 1 1-49 1-29 1 4 1 65 1-8 1-10 1-4 1-32 1 15 1 23 1-66 1 35 1-32 1 64 1-21 1 8 1 5 1 42 1-45 1 59 1-63 1-46 1 20 1 29 1 20 1-36 1 61 1 6 1 3 1-57 1 58 1-65 1-15 1 12 1 27 1-18 1 55 1-48 1-50 1 8 1 103 1-51 1 9 1-43 1 22 1 13 1 18 1-27 1 10 1-7 1 8 1 36 1-55 1-2 1 8 1-1 1-33 1 5 1-20 1 33 1-5 1 27 1 37 1 4 1-57 1 13 1-14 1 97 1-71 1-11 1 17 1-3 1 52 1-57 1-46 1 81 1-57 1 43 1-30 1-43 1 47 1-11 1-9 1 22 1-43 1 110 1-57 1 54 1-13 1-51 1 40 1-27 1-60 1 28 1-100 1 122 1-6 1 86 1-83 1 15 1-32 1 15 1 23 1 45 1-93 1 50 1 35 1-72 1 82 1-47 1 50 1-61 1 48 1-157 1 61 1 22 1 5 1-11 1-6 1 19 1 47 1-43 1 59 1-41 1-26 1 51 1-52 1 31 1-98 1 95 1-30 1-5 1 17 1-7 1 21 1-14 1-2 1-22 1-16 1 44 1-49 1 48 1 32 1-17 1 7 1-15 1-10 1-5 1-33 1 15 1 40 1-34 1 21 1-29 1-16 1 47 1-30 1-21 1 34 1 50 1-33 1 26 1-64 1 27 1-4 1-50 1 35 1 21 1 67 1-44 1 6 1-18 1 37 1-64 1-22 1 55 1 38 1-54 1 12 1-42 1 36 1 24 1 22 1-48 1 80 1-42 1-62 1 30 1-4 1 6 1 40 1-34 1-29 1-2 1 53 1-38 1-29 1 23 1-44 1 52 1 56 1-55 1-6 1-18 1 6 1-35 1 32 1 13 1 25 1-10 1-53 1-20 1 53 1 5 1 14 1-15 1 6 1 19 1-48 1 68 1-42 1-1 1-17 1 28 1 27 1-29 1 32 1-23 1 14 1-109 1 157 1-33 1-83 1 49 1 40 1-68 1-51 1 71 1-29 1 76 1-26 1-27 1 1 1 29 1-3 1 1 1 6 1-8 1 0 1-34 1 63 1-65 1-43 1 55 1 21 1 16 1-14 1 23 1-49 1 12 1-30 1 17 1-18 1-25 1 18 1-61 1 55 1 54 1-37 1-5 1 22 1-22 1 6 1-26 1 49 1 28 1-17 1 51 1 26 1-55 1-18 1 6 1-64 1 78 1 5 1-110 1 121 1-79 1 30 1 83 1-121 1 45 1-24 1 5 1-4 1-19 1-44 1 65 1 16 1-37 1 15 1 102 1-102 1 29 1-5 1 41 1-114 1 48 1 32 1-1 1-8 1-2 1-31 1 14 1 31 1-10 1-29 1 55 1-20 1-47 1 33 1-49 1 88 1-24 1 12 1 2 1-56 1-10 1 33 1 7 1-65 1 5 1 126 1-68 1 67 1-17 1-30 1 17 1-60 1 35 1-7 1-5 1-62 1 49 1-21 1 13 1-23 1 40 1 3 1-46 1 38 1 61 1-12 1-28 1-32 1 44 1-78 1 37 1 23 1 33 1-66 1 3 1 61 1-85 1 4 1-9 1 52 1-33 1 102 1-84 1 28 1-11 1-18 1 39 1-17 1 27 1-6 1 11 1-50 1-31 1 76 1 22 1-47 1-21 1 5 1 48 1-40 1 29 1-14 1-10 1 11 1-31 1 33 1-69 1 48 1 42 1-71 1 4 1 20 1 9 1-12 1-17 1 33 1-32 1 47 1-36 1 51 1-46 1-8 1 38 1-31 1 76 1-60 1 6 1-30 1 22 1-36 1-30 1 61 1-26 1-27 1 24 1-5 1 44 1-20 1 47 1-64 1 15 1 0 1 77 1-97 1-18 1 5 1 31 1-29 1 43 1 23 1-20 1 22 1-83 1 142 1-91 1 37 1-10 1-42 1 26 1-39 1 42 1-1 1-7 1-39 1 65 1-12 1 8 1-3 1 26 1-31 1-25 1-32 1 32 1 35 1-68 1 106 1-74 1 57 1-36 1 40 1 6 1-32 1-78 1 48 1-18 1 41 1-12 1 26 1-6 1-9 1-42 1 21 1 35 1-19 1 23 1-47 1 9 1 1 1-15 1 4 1-30 1 74 1-50 1 30 1-36 1 47 1 38 1-41 1 7 1 15 1-23 1-51 1 49 1-33 1-23 1 11 1 19 1-15 1 44 1 29 1 7 1-81 1-14 1 55 1-11 1 78 1-101 1 28 1 58 1-78 1-4 1-7 1 31 1-12 1 37 1-75 1 57 1-53 1 24 1 25 1-51 1 66 1-35 1 8 1 9 1-11 1-17 1 36 1 4 1-10 1 12 1 14 1-41 1 67 1-55 1 13 1-20 1-10 1 7 1 9 1-44 1 61 1 22 1-31 1-32 1-36 1-10 1 57 1-27 1-15 1 69 1-65 1 34 1 19 1-22 1-4 1 89 1-70 1-4 1 30 1-29 1 19 1 14 1-22 1 62 1-80 1-4 1 8 1-8 1 33 1 4 1 40 1-1 1-33 1-55 1 31 1-45 1 19 1 60 1-15 1 17 1 12 1-56 1-14 1 52 1-65 1 5 1 49 1-31 1 44 1-33 1-17 1 79 1-111 1 106 1-60 1 19 1-45 1 58 1-13 1-121 1 48 1 27 1 53 1-35 1 67 1-29 1-41 1-12 1 38 1-36 1-3 1 61 1-42 1 10 1-49 1 90 1-57 1 20 1-73 1 145 1-134 1 63 1-24 1 69 1-7 1-35 1-11 1 85 1-60 1-7 1-10 1-28 1 12 1 20 1 32 1 13 1-57 1-47 1 50 1-31 1 69 1-69 1 38 1-11 1-19 1-3 1 17 1-5 1 2 1 35 1-13 1-11 1-55 1 95 1-43 1-30 1 10 1 55 1 11 1-24 1-29 1-17 1 35 1-12 1 18 1 15 1-69 1-19 1 65 1 22 1-49 1 71 1-5 1-49 1-57 1 74 1-15 1-50 1 92 1 13 1-126 1 39 1 48 1-31 1-13 1 39 1-94 1 141 1-110 1 41 1 7 1-3 1 31 1-15 1 10 1 32 1-69 1 65 1-12 1-98 1 83 1-69 1 7 1 37 1-45 1 72 1 11 1-14 1-4 1-29 1-49 1 95 1-19 1-9 1-10 1 20 1-57 1 60 1 18 1-89 1 9 1 49 1 29 1-36 1-19 1-28 1-4 1 66 1-12 1 9 1-9 1 17 1-3 1-7 1-9 1 66 1-48 1-39 1 10 1-9 1-1 1 7 1-18 1 35 1 42 1-84 1 31 1 70 1-87 1 2 1 71 1-59 1 17 1-14 1 32 1-77 1 89 1 4 1-21 1-13 1 18 1-70 1 85 1-113 1 127 1-63 1-45 1-19 1 86 1 43 1-27 1-6 1-41 1 56 1-65 1 63 1-59 1-59 1 61 1-15 1 33 1 17 1-29 1-3 1 118 1-70 1-98 1 51 1 13 1 20 1 0 1-8 1 105 1-168 1 45 1 41 1-72 1 49 1-52 1 69 1-49 1 84 1-85 1 80 1-51 1-14 1 69 1-60 1 20 1-19 1-29 1 33 1-43 1 71 1 5 1-66 1 69 1-48 1 41 1-27 1-15 1 39 1-2 1 26 1-77 1 58 1 3 1-30 1 10 1 16 1-39 1 8 1 27 1-7 1-59 1 39 1 22 1-15 1-21 1-47 1 105 1-55 1 34 1-29 1 29 1 6 1 0 1-8 1-27 1-55 1 99 1-7 1-12 1-68 1 2 1 2 1 30 1 18 1 40 1-43 1-8 1 26 1 7 1 18 1-54 1 18 1-35 1 53 1-2 1-60 1 37 1 56 1-28 1 10 1-28 1 58 1-87 1 0 1 26 1-1 1 1 1 13 1-54 1 71 1-114 1 117 1-46 1 42 1-7 1-20 1 45 1-69 1 12 1-13 1-7 1 53 1-21 1 2 1-46 1 42 1 25 1-41 1 26 1-44 1-17 1 13 1 60 1-57 1 60 1-17 1-45 1 25 1-55 1 34 1 22 1-32 1 35 1-41 1 120 1-72 1 28 1-26 1 14 1-85 1 46 1 24 1-34 1 115 1-131 1 117 1-75 1-62 1 106 1-9 1 46 1-13 1-72 1 3 1 22 1-29 1 28 1 15 1-17 1 27 1 39 1-71 1-22 1-27 1 19 1 32 1 18 1-25 1-15 1 13 1 15 1-30 1 92 1-101 1-37 1 102 1-64 1 34 1 13 1-49 1 1 1 28 1-66 1 41 1 80 1-114 1 48 1-51 1 89 1-3 1-15 1-27 1-14 1 51 1-142 1 148 1-18 1-83 1 5 1 12 1 39 1 9 1-73 1 121 1-23 1-22 1-5 1-30 1 33 1-7 1-5 1 26 1-18 1 48 1-9 1-31 1 12 1-33 1 20 1-8 1-24 1 93 1-22 1-27 1-72 1 76 1-76 1 27 1 30 1-10 1-6 1 34 1-64 1 34 1 16 1 20 1-40 1 0 1-9 1-49 1 56 1 42 1 2 1 20 1-10 1 11 1-77 1 108 1-124 1 71 1 25 1-18 1-27 1-3 1 19 1-53 1 80 1-13 1-56 1 69 1-18 1-45 1-2 1 0 1-2 1 23 1-8 1 2 1 7 1-34 1 31 1-28 1 29 1-31 1 110 1-148 1 98 1-18 1 5 1-81 1 113 1-37 1-2 1-90 1 33 1 77 1-20 1-14 1 31 1-75 1 38 1 68 1-60 1 5 1 14 1-25 1-15 1 33 1 12 1-33 1 71 1-93 1 79 1-50 1 11 1-24 1 38 1-34 1 70 1-103 1 28 1-13 1 50 1-26 1 22 1-13 1 36 1-34 1 87 1-127 1 80 1-73 1-17 1 24 1 62 1-50 1-13 1-3 1 13 1 11 1 14 1-2 1-15 1 9 1 7 1 2 1-14 1 22 1-52 1 30 1-38 1 64 1 6 1-11 1-15 1-4 1-34 1 105 1-79 1 64 1-24 1-25 1-8 1-44 1 53 1-50 1 21 1 28 1-39 1 47 1-34 1-46 1 41 1 25 1 21 1-13 1 12 1-82 1 32 1 23 1-11 1-51 1 74 1 4 1-64 1 28 1 59 1-56 1 22 1 7 1 5 1 3 1-21 1-24 1 61 1-47 1 66 1-42 1-42 1 33 1 11 1-62 1 31 1 9 1-10 1 64 1-34 1-71 1 35 1-30 1 86 1-17 1-42 1-2 1 99 1-70 1 11 1 13 1-34 1 44 1-41 1-7 1 41 1-20 1 82 1-96 1 18 1 58 1 1 1-55 1-76 1 66 1 45 1-29 1 61 1-49 1 7 1-32 1-36 1 50 1-78 1 70 1-12 1 15 1 29 1-12 1-8 1-66 1 56 1 44 1-60 1-1 1 48 1-51 1 7 1 51 1-76 1 79 1-18 1-51 1 75 1 34 1-66 1-26 1 4 1 16 1 30 1-83 1 6 1 25 1-10 1 77 1-84 1-24 1 19 1-3 1 22 1 2 1 80 1-56 1-26 1 40 1 19 1-38 1 17 1-72 1 54 1-8 1-50 1 81 1-46 1-43 1 82 1-16 1-47 1 3 1 50 1-2 1 1 1 8 1-51 1 34 1 15 1 0 1-54 1 123 1-80 1-22 1 31 1 10 1-50 1 9 1-58 1 88 1-36 1 49 1-76 1 7 1 12 1-14 1 11 1 9 1 15 1-31 1 12 1 30 1-10 1-8 1-44 1 48 1 7 1 38 1-70 1 19 1 2 1 0 1-13 1 74 1-25 1-21 1-36 1 12 1-15 1 18 1-8 1 43 1-5 1-11 1 2 1-31 1 22 1-1 1 3 1-49 1 63 1-37 1 39 1-29 1-1 1 19 1 27 1-45 1 4 1 15 1-3 1 6 1-88 1 92 1 37 1 3 1-78 1 83 1-78 1 36 1-24 1 7 1-29 1 45 1-12 1 26 1 42 1-113 1 89 1-64 1-15 1 20 1 43 1-86 1 95 1-73 1-9 1 85 1-67 1 51 1-46 1 83 1-127 1 35 1 22 1 14 1-63 1 33 1 3 1 27 1-3 1-7 1 24 1-36 1-53 1 42 1-10 1 11 1-63 1 96 1 45 1 39 1-85 1-26 1-27 1 86 1-31 1-70 1 106 1-23 1-20 1 25 1-34 1 65 1-42 1-2 1-54 1 16 1-2 1 57 1-79 1 49 1-50 1 99 1-14 1-17 1-71 1 85 1-34 1 14 1-47 1 36 1-62 1 89 1-106 1 73 1 42 1-67 1 28 1 28 1-77 1 63 1 24 1-51 1-16 1 2 1 75 1-105 1 47 1-12 1 58 1-9 1-9 1-20 1-75 1 68 1 2 1-43 1-7 1 24 1 46 1 42 1 21 1-65 1 12 1-53 1-40 1 84 1-8 1-9 1 66 1-67 1-33 1-63 1 143 1-79 1-27 1 95 1-32 1-57 1 71 1-11 1-22 1-35 1 29 1 32 1-40 1 57 1 14 1-35 1-5 1-11 1-3 1 26 1 49 1-4 1-49 1-40 1 59 1-12 1-42 1 67 1-70 1 43 1 1 1-40 1 44 1-57 1 73 1-8 1-13 1-42 1 59 1-43 1-5 1-24 1 58 1-33 1-18 1-37 1 69 1-16 1 10 1 122 1-119 1 9 1 37 1-10 1-24 1-9 1 6 1 15 1-19 1-30 1 36 1-49 1-11 1 17 1 53 1-9 1 86 1-83 1 6 1 18 1 52 1-110 1-9 1 45 1-37 1 42 1 59 1-68 1 14 1-7 1-5 1 35 1 18 1-94 1 32 1-10 1 54 1 53 1-39 1-97 1 25 1 91 1-47 1 18 1-45 1-62 1 84 1-36 1 19 1 11 1 19 1-13 1-43 1 4 1-10 1 52 1-3 1-29 1 11 1 26 1-14 1-74 1 62 1-26 1-13 1 37 1-68 1 52 1-18 1 43 1-40 1 26 1-23 1 43 1-1 1-17 1-29 1 72 1-49 1 5 1-41 1 118 1-27 1-80 1 15 1-6 1 17 1-10 1-5 1-15 1 76 1-17 1-66 1 0 1 72 1-94 1 41 1-12 1 39 1 22 1-30 1 3 1 37 1-42 1 2 1 59 1-29 1-24 1 23 1-51 1-17 1 77 1-44 1-6 1-16 1 84 1-19 1-47 1-27 1 29 1 40 1-46 1 42 1 25 1-55 1-27 1-3 1 27 1 33 1 15 1-63 1 57 1-43 1-4 1 37 1-18 1-4 1-27 1 47 1-18 1-11 1 48 1-25 1 1 1-23 1 45 1-37 1-13 1-37 1 46 1-51 1 37 1-8 1 48 1-4 1-37 1 38 1-76 1 49 1-85 1 110 1-41 1 4 1 11 1-7 1 85 1-74 1-34 1 39 1 42 1-31 1-15 1-29 1 53 1-60 1 63 1-58 1 25 1-70 1 56 1-20 1 53 1 56 1-68 1-1 1 27 1-23 1 63 1-54 1 12 1-69 1 46 1 0 1 2 1 66 1-31 1-77 1 23 1 67 1-55 1 23 1-29 1 12 1 4 1 45 1-34 1 17 1-19 1-40 1 18 1-6 1-8 1 66 1-30 1-44 1-7 1 116 1-39 1-48 1-91 1 128 1-18 1-13 1-23 1 78 1-26 1-5 1 7 1-5 1-36 1-26 1 23 1 12 1 10 1 21 1 20 1-2 1-80 1-3 1 23 1 8 1 9 1-15 1 31 1 17 1 16 1-52 1 37 1 31 1-49 1 14 1-56 1-23 1 29 1-10 1-37 1 110 1-2 1-43 1 14 1-22 1-31 1 40 1 59 1-156 1 132 1 8 1-82 1 96 1-17 1-42 1 29 1-33 1-33 1 35 1 17 1-33 1 8 1-89 1 133 1-78 1 54 1-24 1 84 1-31 1 5 1 17 1-37 1-75 1 111 1-105 1 54 1-6 1 49 1-55 1-43 1 70 1-23 1 3 1 14 1 21 1-75 1 12 1 52 1-66 1 72 1-33 1 58 1 12 1-49 1-79 1 56 1-34 1-23 1 48 1 41 1-32 1 21 1-36 1 38 1-68 1 9 1 30 1 5 1-13 1 18 1-9 1-26 1 56 1-9 1-7 1 70 1-123 1 57 1-63 1 122 1 3 1-61 1-14 1-32 1 6 1-19 1 44 1-85 1 58 1 91 1-33 1 0 1-24 1 20 1-33 1-35 1 97 1-31 1-84 1 0 1-4 1 56 1-35 1 30 1 72 1-34 1-48 1 21 1 36 1 3 1-50 1 7 1 28 1-74 1 71 1 0 1-18 1 4 1 2 1 65 1-154 1 63 1 8 1 34 1-16 1-21 1 39 1-51 1 5 1 34 1 15 1-52 1-55 1 72 1-26 1 39 1 24 1-69 1 51 1-87 1 99 1 31 1-64 1-18 1-1 1 26 1 46 1-81 1 74 1-114 1 98 1-12 1 2 1-58 1-19 1 51 1-1 1 51 1-68 1 116 1-121 1 24 1 45 1-58 1 2 1-39 1 7 1 52 1-10 1 60 1-72 1 71 1-22 1 29 1-30 1-37 1 47 1-31 1 45 1-59 1-16 1 29 1 4 1 31 1-56 1-17 1 48 1-6 1 15 1 28 1-40 1 51 1-95 1-22 1 30 1 20 1 16 1-8 1 47 1-52 1 6 1-20 1-39 1 50 1-47 1 27 1 53 1-48 1 20 1-17 1 0 1 5 1 18 1-27 1 30 1 15 1-24 1 52 1-73 1-8 1 34 1-53 1 18 1 22 1-13 1-10 1 46 1-32 1-7 1 6 1 32 1-58 1 118 1-60 1-13 1-54 1 107 1-13 1 1 1-30 1 19 1 11 1-68 1 13 1 20 1 22 1-13 1-5 1-79 1 111 1-20 1 0 1-11 1-31 1 72 1-11 1-76 1 31 1-43 1 76 1 28 1-32 1 4 1-47 1 51 1-31 1-23 1 21 1 16 1-1 1-19 1-15 1 58 1 13 1-101 1 106 1-42 1 20 1-74 1 35 1-37 1 1 1 68 1-31 1 63 1-37 1-45 1 11 1 1 1 12 1 17 1-38 1 17 1 6 1-36 1 50 1-79 1 71 1-65 1 52 1 22 1-9 1-32 1 8 1-5 1 13 1 17 1 13 1 4 1-16 1 58 1-74 1 6 1 6 1 26 1-29 1-24 1 60 1-1 1-24 1-19 1 48 1-64 1 92 1-125 1 105 1-11 1-16 1 27 1-40 1 18 1-77 1 51 1-30 1 27 1-37 1 25 1 63 1-35 1-27 1-1 1 86 1-38 1 23 1-2 1-56 1 0 1 82 1-35 1-78 1-6 1 12 1 68 1-45 1-32 1 40 1 12 1 8 1-33 1-21 1-30 1 65 1-6 1 55 1-92 1 62 1-71 1 74 1-23 1-25 1 14 1 89 1-72 1-14 1-79 1 37 1-8 1 30 1-29 1 49 1 49 1-21 1-40 1 36 1-18 1 4 1-56 1 142 1-47 1-50 1 15 1-80 1 38 1 25 1 27 1-24 1 9 1 48 1-22 1-50 1 7 1 10 1-57 1 91 1-20 1-40 1-13 1 66 1-37 1 23 1 22 1-36 1 27 1-57 1 19 1 21 1-48 1-9 1 72 1 34 1-32 1-28 1 86 1-9 1-113 1 41 1-18 1 16 1 20 1-29 1 19 1-44 1 37 1-10 1 17 1 32 1-16 1-46 1 54 1-32 1 19 1-6 1-60 1 91 1-9 1-2 1-74 1 24 1 71 1-22 1-21 1 4 1 9 1-53 1 62 1-44 1 14 1 4 1 58 1-31 1-77 1 29 1 67 1-60 1 67 1-86 1 52 1-81 1 13 1 17 1 65 1-41 1 36 1-16 1 10 1-22 1-26 1-5 1 98 1-38 1 7 1-76 1 70 1-56 1 15 1-23 1 39 1 6 1-46 1-9 1 42 1 9 1 3 1-8 1-41 1 59 1-70 1 88 1-50 1 33 1-40 1-70 1 106 1-65 1 87 1-63 1-66 1 71 1 67 1-38 1-23 1 42 1-92 1 29 1 52 1-51 1 14 1 69 1-116 1 20 1 106 1-112 1 46 1-28 1 29 1 41 1-46 1-48 1 116 1-61 1 21 1-44 1 67 1-63 1 27 1-32 1 22 1 34 1-33 1-15 1 6 1-48 1 64 1-23 1-18 1-25 1 71 1-4 1-6 1 26 1 8 1-71 1 11 1-21 1-9 1 74 1-18 1 19 1-18 1-55 1 93 1-90 1 69 1-44 1-52 1 29 1 88 1-50 1-40 1 89 1 1 1-49 1 49 1 0 1-40 1-44 1 29 1-28 1 26 1 1 1-18 1 47 1-11 1 0 1 5 1 23 1-23 1 1 1-48 1 61 1-53 1 47 1-81 1 96 1 71 1-128 1 7 1 1 1-38 1 13 1 57 1 12 1-35 1 29 1-5 1-1 1-52 1-4 1 34 1-31 1 58 1-19 1-30 1 48 1-71 1 54 1-9 1-25 1 78 1-64 1 28 1 46 1-48 1-33 1 96 1-85 1 84 1-48 1-16 1-62 1 47 1 1 1-15 1-7 1 28 1-7 1-7 1 27 1-49 1 19 1-13 1-4 1 59 1-13 1-23 1 23 1-2 1-1 1-4 1-34 1 101 1-94 1 59 1-94 1 44 1-20 1 11 1 16 1 24 1-22 1-36 1 58 1-7 1 3 1-21 1 16 1-41 1 71 1-4 1-60 1-8 1 11 1-41 1 26 1 60 1 12 1-23 1 3 1-27 1 26 1-1 1-6 1-14 1-16 1 11 1-31 1 25 1 4 1-31 1-34 1 78 1 29 1 10 1-73 1 89 1-65 1-35 1 113 1-78 1-19 1 14 1 4 1 77 1-68 1 50 1-25 1-29 1-22 1 12 1-29 1 78 1-59 1 22 1 19 1-8 1-36 1-13 1 84 1-99 1 82 1-31 1-8 1 20 1 60 1-56 1-33 1 30 1-31 1 18 1-17 1-10 1-49 1 54 1-24 1 53 1-30 1 63 1-67 1-6 1 71 1-62 1 11 1-18 1 18 1 18 1 30 1-32 1-15 1 50 1-10 1 50 1-72 1-23 1-11 1 93 1-68 1 46 1-86 1 83 1 12 1-85 1 66 1-24 1 53 1-127 1 118 1-18 1 3 1-32 1 45 1-39 1-21 1-65 1 12 1 85 1-30 1 23 1 51 1-30 1-26 1 9 1-12 1-36 1 9 1 12 1 36 1-20 1-39 1 16 1 71 1-68 1 20 1 10 1-44 1 32 1 17 1-28 1 35 1-30 1 45 1-68 1 76 1-55 1 46 1-70 1 12 1 41 1-28 1-21 1 58 1-15 1-35 1 87 1 7 1-78 1 20 1 46 1-33 1-46 1 10 1 54 1-83 1 24 1 24 1-42 1 0 1 38 1 24 1-65 1-14 1 37 1 52 1-19 1-91 1 97 1-22 1-10 1 23 1-43 1 1 1 42 1-38 1-3 1-40 1-12 1 108 1-29 1-23 1-21 1 64 1 30 1-91 1 54 1-5 1-5 1 4 1-52 1 107 1-106 1-3 1 33 1-11 1 57 1-51 1 13 1 36 1-28 1-4 1-21 1 26 1 23 1-25 1 26 1-58 1 9 1-7 1-36 1 18 1 38 1 28 1-32 1-110 1 114 1-14 1 28 1-47 1 23 1-26 1 30 1 19 1-87 1 58 1 2 1 7 1 31 1 9 1-52 1 52 1 6 1-4 1-26 1 84 1-94 1 20 1-76 1 43 1 75 1-126 1 64 1 41 1-61 1 58 1-81 1 108 1-21 1-26 1-26 1-19 1 57 1 18 1-6 1-49 1-17 1 104 1-81 1-33 1 39 1 17 1-35 1-14 1 28 1 41 1-61 1-60 1 50 1 8 1 66 1-20 1-36 1 3 1 19 1 69 1-60 1-36 1-76 1 85 1 6 1-42 1 56 1-5 1-23 1-2 1-7 1-4 1 17 1 29 1-9 1-27 1 34 1 15 1-39 1 101 1-120 1 27 1 25 1-2 1 0 1-47 1 53 1-48 1 17 1 7 1-23 1 44 1-120 1 79 1 27 1 45 1-40 1 11 1-2 1-10 1-77 1 39 1-13 1 31 1 45 1-30 1 22 1-37 1-4 1-54 1 103 1-75 1 44 1-22 1 44 1-97 1 56 1-17 1-39 1 63 1 7 1-19 1 31 1 24 1-66 1 15 1 52 1-66 1 54 1 17 1-36 1-13 1 16 1-1 1-42 1-3 1 30 1 70 1-49 1 72 1-27 1-52 1-28 1-23 1 30 1-37 1-1 1 82 1-15 1-23 1 43 1-38 1 24 1 11 1-33 1-47 1 98 1-31 1-12 1-31 1 26 1 45 1-73 1 7 1-7 1-6 1 14 1 92 1-32 1-35 1-16 1-8 1-6 1 51 1-39 1 18 1-25 1-44 1 86 1-50 1 41 1-12 1 18 1-24 1-15 1 85 1-130 1 15 1-20 1 43 1-10 1 45 1-32 1 41 1-76 1 57 1-38 1 29 1-35 1 21 1 64 1 23 1-51 1-9 1 38 1-73 1-5 1 10 1 2 1 10 1 37 1-43 1 79 1-67 1-23 1 91 1-129 1 101 1-71 1 48 1-14 1 28 1-25 1 3 1 18 1-57 1 15 1 11 1 48 1-58 1-25 1 8 1-2 1 22 1-4 1 53 1-56 1 35 1 24 1-46 1 0 1-7 1 48 1-39 1-36 1 23 1 10 1-2 1 28 1-35 1 87 1-29 1 13 1 29 1-99 1 34 1-12 1 0 1 20 1-42 1 46 1-35 1 20 1 25 1-48 1-42 1 18 1-15 1 75 1-78 1 118 1-73 1-5 1-7 1 4 1 25 1 9 1-28 1 22 1 47 1-132 1 87 1-54 1 40 1 19 1-14 1 6 1 10 1-9 1 15 1-36 1 6 1-3 1 58 1-62 1-45 1 96 1-43 1-41 1 47 1-44 1 54 1 67 1-153 1 44 1 79 1-46 1-3 1 37 1 42 1-88 1-2 1 60 1 14 1-101 1 29 1 24 1-44 1 29 1 45 1-46 1-78 1 105 1-55 1 34 1-22 1 3 1-17 1-9 1 46 1-59 1 39 1 54 1-140 1 88 1 36 1-49 1 5 1-39 1 4 1 31 1 4 1-12 1-1 1 2 1 1 1 51 1-60 1-4 1 5 1 57 1-21 1 88 1-10 1-81 1-14 1 20 1-11 1-17 1 51 1-50 1-8 1 54 1-54 1 50 1-22 1 3 1 3 1 75 1-134 1 104 1-56 1 16 1-7 1 31 1-25 1-9 1-18 1-17 1 32 1 24 1-33 1 2 1-15 1 54 1-44 1 87 1-98 1 32 1-42 1 31 1-25 1-13 1 88 1 6 1-76 1 14 1 46 1-9 1 1 1-42 1 60 1 8 1-32 1 14 1-47 1 4 1 51 1-59 1-3 1 33 1 19 1 21 1-58 1-35 1 7 1 24 1-82 1 136 1-68 1 50 1-38 1 37 1-11 1-35 1 69 1-25 1 17 1-46 1-7 1-6 1 76 1-3 1-59 1 3 1 38 1-38 1-4 1 25 1-116 1 129 1-66 1 36 1-2 1 35 1-18 1-4 1 6 1-34 1-7 1 21 1-20 1 32 1 18 1-1 1 6 1-14 1-4 1-25 1 26 1-51 1 9 1 32 1 38 1-43 1-6 1-16 1-2 1 8 1 1 1-10 1-36 1 58 1 16 1-75 1 39 1 52 1-30 1 18 1-64 1 77 1-10 1 16 1 19 1-82 1 106 1-98 1 34 1-53 1 45 1-52 1-5 1-5 1 33 1 0 1-4 1 97 1-140 1 72 1 4 1-18 1-10 1 19 1 30 1-11 1-59 1 37 1 18 1 16 1 6 1-17 1-29 1 13 1 49 1-17 1 34 1-65 1-24 1 9 1-42 1 71 1-76 1 100 1-48 1 22 1-17 1-18 1 47 1 42 1-35 1-13 1 11 1-87 1 72 1 12 1-51 1 14 1 23 1 5 1-34 1 5 1-13 1 7 1 56 1-67 1 87 1-4 1 5 1-43 1-83 1 69 1-3 1 11 1-54 1 109 1-77 1-11 1-30 1 51 1 10 1 4 1 45 1-48 1-12 1-14 1-11 1 75 1-11 1-50 1 59 1-110 1 115 1-45 1 23 1-52 1 49 1-34 1 17 1 7 1-24 1-32 1 23 1 25 1 38 1-19 1 31 1-93 1 72 1-56 1-23 1-29 1 34 1 65 1-33 1 14 1 35 1 25 1-107 1 49 1-32 1 5 1 26 1-4 1-46 1-5 1 2 1 35 1-12 1 26 1 50 1-94 1 78 1-25 1 25 1-51 1-48 1 11 1 60 1-57 1 99 1-48 1 27 1-19 1-32 1 73 1-103 1 10 1 12 1 23 1-28 1-9 1 48 1 49 1-41 1-16 1 65 1-84 1 32 1-1 1-55 1 65 1 10 1-47 1 44 1-61 1 55 1-12 1-38 1 42 1 16 1-64 1 89 1-24 1-56 1 28 1-34 1 55 1-39 1 26 1-63 1 12 1-11 1 18 1 20 1 3 1 20 1-25 1 37 1-20 1 56 1-78 1 15 1 9 1 7 1-17 1 32 1-2 1-73 1 128 1-104 1 58 1-47 1 55 1-27 1-75 1 95 1-10 1-36 1 18 1 17 1 48 1-47 1 0 1-43 1 11 1 68 1-66 1-25 1-1 1 22 1-54 1 116 1 5 1-117 1 63 1-20 1 30 1-9 1-88 1 24 1 11 1 53 1-8 1 75 1-25 1-46 1-7 1 12 1-22 1-35 1 37 1 45 1-46 1 15 1-32 1 20 1 35 1-31 1-53 1-24 1 30 1 71 1-24 1-9 1 42 1-33 1 35 1 46 1-74 1 15 1-87 1 42 1 48 1 7 1-2 1-114 1 48 1 52 1 36 1-91 1 62 1 31 1-65 1 11 1-5 1 3 1 12 1-10 1 25 1-59 1 85 1-79 1 32 1 48 1-77 1 30 1-34 1-48 1 90 1 9 1 28 1 7 1-17 1-66 1-6 1 73 1-78 1 5 1 60 1 3 1-17 1 27 1 14 1-54 1 20 1 64 1-39 1-25 1-94 1 58 1 16 1 14 1-26 1 32 1 17 1-109 1 133 1-53 1-84 1 44 1-18 1 128 1-133 1 30 1 81 1-136 1 22 1 91 1-23 1-18 1 64 1-35 1-49 1 34 1 3 1-9 1-4 1-3 1 47 1-114 1 57 1 10 1 33 1 13 1-58 1 66 1 0 1-25 1-65 1 55 1-32 1 56 1-10 1 10 1-35 1 55 1-38 1 35 1-72 1 0 1 9 1 52 1 3 1 4 1-67 1 36 1-17 1-27 1-39 1 67 1 6 1 20 1-60 1 66 1-94 1 77 1 0 1-22 1-15 1 28 1-13 1 57 1-65 1 43 1-19 1 7 1-26 1-1 1 30 1-56 1 89 1 69 1-125 1-65 1 146 1-54 1-15 1 6 1-8 1-1 1-2 1 13 1-29 1 43 1 7 1 14 1-12 1 38 1-67 1-2 1-24 1 50 1-49 1 27 1-53 1 36 1 1 1 32 1-53 1 45 1-64 1 22 1 56 1-29 1-14 1-39 1 38 1 9 1-38 1 72 1 8 1 3 1-51 1 58 1-111 1 58 1-21 1 15 1 38 1-2 1 4 1-54 1 31 1 92 1-105 1-32 1 17 1 18 1-51 1 51 1-24 1 25 1-11 1 9 1 58 1-56 1-9 1 9 1-26 1-1 1 79 1-72 1-53 1 66 1-1 1 58 1-61 1-18 1-84 1 67 1 6 1 47 1 7 1-22 1 33 1-42 1-24 1 56 1-68 1 58 1-23 1 38 1 11 1-48 1 38 1-38 1 4 1 55 1-36 1-30 1-26 1 28 1 22 1 24 1 20 1-53 1-6 1-1 1 1 1-23 1 45 1-15 1-33 1 73 1-34 1-4 1 55 1 14 1-10 1-72 1 29 1 32 1-2 1-26 1-56 1-19 1 55 1 21 1-24 1 28 1 7 1 23 1-6 1-45 1 19 1-11 1-44 1 79 1-59 1 48 1 17 1-104 1 90 1-16 1-9 1-36 1 35 1-41 1 87 1-55 1 38 1-37 1 4 1 33 1-52 1 22 1-33 1 36 1 14 1 18 1 5 1 31 1-78 1 6 1 30 1-43 1 13 1 34 1-55 1 0 1 0 1 5 1-31 1 41 1-46 1 0 1 16 1 15 1 69 1-75 1 27 1-68 1 45 1 26 1 55 1-16 1-21 1-12 1-32 1-1 1 43 1 53 1-46 1-55 1 11 1-13 1 36 1-18 1-41 1-52 1 129 1-28 1-96 1 115 1-63 1 35 1 68 1-18 1-51 1-8 1 6 1 19 1-3 1 10 1 49 1-130 1-4 1 11 1 103 1-52 1 64 1-29 1-91 1 109 1 1 1-70 1-11 1 55 1-10 1 8 1 66 1-79 1 21 1-41 1 8 1 75 1-52 1 9 1-44 1 9 1 10 1 11 1-15 1-6 1 40 1-10 1 30 1-9 1-88 1 43 1-3 1 11 1 76 1-56 1-61 1 21 1 39 1-47 1 49 1-66 1 57 1-65 1 77 1 20 1-40 1-10 1 94 1-67 1 6 1 3 1-17 1 23 1-13 1-26 1 27 1-77 1 99 1-2 1-8 1-48 1 63 1-124 1 43 1 32 1 28 1-33 1 28 1-15 1-62 1 54 1-26 1 8 1-29 1 63 1-72 1-30 1 105 1-49 1 36 1-18 1 25 1 4 1-18 1 15 1-10 1 23 1 40 1-122 1 56 1 19 1 28 1-87 1 67 1-60 1 41 1-81 1 82 1-40 1 53 1-25 1-78 1 88 1-20 1 57 1-6 1-46 1-18 1 6 1 34 1-12 1-38 1 51 1-23 1 1 1 29 1 5 1-41 1-11 1-19 1 57 1-28 1-35 1 3 1 87 1-27 1 9 1-50 1 50 1-64 1 22 1 64 1-12 1-59 1 21 1-1 1 28 1-12 1-6 1-16 1-24 1 66 1-74 1 29 1 43 1-73 1 58 1-66 1 39 1-17 1 14 1-10 1 87 1-73 1-8 1 14 1 42 1-105 1-3 1 96 1-2 1 13 1-79 1 67 1 10 1 14 1-45 1 11 1 47 1-46 1-27 1 49 1-28 1-27 1-3 1 1 1 56 1-56 1 38 1-15 1-24 1 13 1 2 1-7 1 38 1 36 1-99 1 61 1-29 1 68 1-136 1 68 1 20 1-41 1 18 1 27 1-14 1-60 1 8 1 73 1-65 1-8 1 60 1-60 1 111 1-55 1 3 1 7 1-43 1 20 1 32 1 4 1-4 1-13 1 41 1-47 1-35 1 14 1 82 1-19 1-43 1-28 1-78 1 104 1-24 1 68 1-49 1 35 1-33 1-41 1 56 1-80 1 48 1 0 1-34 1 67 1-52 1 61 1-29 1-9 1 36 1-57 1 36 1-42 1 24 1 79 1-47 1-2 1 27 1-63 1 63 1-65 1-6 1 39 1 12 1 2 1 19 1-50 1 40 1-85 1 34 1-39 1 82 1-6 1-34 1-52 1 66 1 66 1-45 1 5 1 24 1-7 1-55 1 5 1 125 1-131 1 57 1-50 1-61 1 113 1-30 1-69 1 45 1-12 1 39 1-53 1 107 1-77 1 77 1-77 1 7 1-15 1 39 1-40 1 3 1-6 1 41 1-1 1-10 1 13 1-39 1 20 1-21 1-11 1 28 1-32 1 17 1 89 1-153 1 41 1 65 1-103 1 106 1-33 1-25 1 27 1 4 1-38 1 12 1-30 1 32 1 32 1-25 1-52 1 60 1-52 1 10 1 47 1 53 1-33 1 14 1-44 1 20 1-3 1-35 1-22 1 42 1-70 1 136 1-74 1-99 1 115 1 22 1 7 1-35 1-12 1-24 1 86 1-21 1-16 1-12 1 23 1-61 1 37 1 36 1-22 1-34 1-2 1-4 1 24 1-11 1 54 1-32 1 3 1-39 1 136 1-85 1-25 1 49 1 4 1-55 1-4 1 46 1-63 1 15 1 17 1 4 1 76 1-156 1 38 1 13 1 26 1-35 1 61 1 4 1-25 1-70 1 74 1-23 1 50 1-78 1 68 1-11 1-15 1 45 1-20 1-32 1 12 1-47 1 87 1-29 1-43 1-19 1 1 1 22 1 6 1-16 1-28 1 129 1-73 1 58 1-3 1 25 1-62 1-96 1 81 1 10 1 22 1-34 1-43 1 91 1-45 1-20 1-4 1 55 1-14 1-25 1 37 1-53 1 9 1-53 1 84 1-50 1 78 1-35 1 38 1-51 1-29 1-17 1 54 1-11 1 60 1-45 1-30 1 26 1-26 1 57 1 19 1-50 1-82 1 76 1-26 1 50 1 5 1 38 1-60 1-40 1 58 1-21 1-52 1 5 1 32 1-11 1-35 1 73 1 38 1-53 1-14 1-16 1 90 1-38 1-6 1-15 1-68 1 59 1 15 1 20 1-95 1 79 1 52 1-25 1-40 1 27 1-30 1 10 1-18 1 17 1 9 1-56 1 68 1 8 1-69 1-6 1 113 1-93 1-19 1 48 1 7 1-9 1-27 1 30 1-2 1-3 1-14 1 2 1-33 1 37 1 31 1 49 1-17 1-82 1 58 1-27 1-10 1-32 1 87 1-113 1 96 1 8 1-98 1 57 1-33 1 50 1-49 1 46 1-34 1 2 1 32 1-72 1 37 1-1 1-11 1 52 1-21 1-33 1 102 1-101 1 0 1 30 1-1 1 43 1-71 1 80 1-74 1 77 1-51 1 60 1-88 1 28 1 7 1 16 1 22 1-9 1-34 1-15 1-22 1 48 1 55 1-59 1 41 1-93 1 50 1 11 1 3 1-42 1-2 1 86 1-110 1 76 1-6 1-32 1 11 1-48 1 12 1 5 1 42 1-68 1 102 1-28 1 22 1-74 1 35 1-22 1 68 1-97 1 65 1-54 1 6 1 46 1-2 1-12 1-34 1 60 1 29 1-105 1 12 1 101 1-56 1-9 1-11 1 27 1-38 1 2 1 0 1-33 1 20 1 16 1 29 1 0 1-15 1-6 1-40 1 0 1 58 1-8 1-32 1 7 1 48 1-85 1 41 1 26 1 23 1-54 1 18 1 4 1-49 1 30 1-13 1-24 1 73 1-12 1-14 1 3 1 3 1-36 1 73 1-16 1-12 1 4 1 72 1-54 1-97 1 82 1-110 1 183 1-92 1 23 1-37 1-19 1-16 1 49 1 25 1-46 1 41 1-23 1 30 1 21 1 0 1-91 1 42 1-12 1 21 1-12 1-6 1 8 1 32 1-13 1-34 1 114 1-59 1-50 1 27 1 31 1-36 1 28 1-26 1-14 1 56 1-77 1-26 1 82 1 29 1-55 1 14 1-1 1-4 1-21 1 82 1-89 1-16 1 39 1 22 1 44 1-83 1 22 1-37 1-5 1 19 1 49 1-48 1-3 1-15 1-35 1 37 1-39 1 79 1-1 1-8 1-19 1 16 1 55 1-4 1-39 1 18 1-46 1-47 1 67 1 40 1-30 1-52 1 51 1-30 1-21 1 48 1-65 1 85 1 4 1-35 1-20 1 96 1-73 1-5 1-21 1 43 1-41 1 66 1-13 1-23 1-14 1-58 1 70 1-53 1 84 1-12 1-7 1-41 1 15 1-28 1 47 1-12 1 22 1 5 1-2 1-75 1 76 1-31 1 16 1-2 1-32 1-71 1 145 1-32 1 16 1-57 1 16 1-13 1 16 1 19 1 77 1-85 1 29 1-52 1-20 1 85 1-59 1 46 1 40 1-71 1-46 1 9 1 24 1 45 1-84 1 67 1 37 1-39 1-30 1 40 1-33 1 17 1-48 1 38 1 1 1 53 1-88 1-1 1 22 1 4 1 23 1 2 1-33 1 9 1 28 1 15 1-18 1-47 1 52 1-97 1 73 1 40 1-48 1-88 1 49 1 55 1 29 1-77 1 74 1-39 1-13 1 53 1-23 1 17 1 3 1 44 1-123 1 55 1 40 1-54 1 6 1-12 1 30 1-53 1 99 1-73 1-70 1 61 1 57 1-21 1-29 1 48 1 33 1-46 1 33 1-60 1 85 1-52 1-100 1 71 1-40 1 26 1 87 1-56 1 10 1-46 1 77 1-72 1 56 1-75 1 18 1-5 1-46 1 74 1-12 1 40 1-24 1 21 1-45 1 44 1-33 1-60 1 79 1-18 1 34 1-71 1 1 1 14 1-5 1-17 1 42 1 27 1-33 1 74 1-30 1 7 1-15 1-50 1 93 1-104 1 87 1-79 1 73 1-47 1 46 1-70 1 27 1 76 1-117 1 52 1-7 1 47 1-76 1 31 1 42 1-54 1 13 1 20 1-38 1 76 1-69 1 9 1-22 1 37 1-9 1-29 1-6 1-9 1 26 1-31 1 78 1-89 1-26 1 98 1 14 1-11 1-71 1 29 1 77 1-9 1-76 1 36 1 21 1-6 1-5 1 45 1-31 1-29 1-30 1-3 1 73 1-72 1 66 1-97 1 28 1-32 1 51 1 45 1-65 1 26 1 4 1 36 1-99 1 47 1-23 1 0 1 46 1-58 1 41 1-17 1 45 1-49 1 50 1-80 1 62 1 55 1-116 1 92 1-26 1-14 1-5 1 0 1-9 1-29 1 82 1-42 1-13 1 14 1 28 1-59 1 57 1-27 1-1 1-21 1 46 1-12 1-25 1 37 1-51 1 20 1 22 1 28 1-37 1-14 1 38 1-50 1 28 1-39 1 41 1 52 1-53 1 42 1-58 1 4 1 83 1-52 1-55 1 9 1 2 1 10 1 58 1 3 1-109 1 101 1-72 1 3 1 52 1-23 1-3 1-7 1 35 1-12 1 23 1-44 1-13 1 25 1-47 1 19 1 48 1 15 1-34 1-16 1 29 1-24 1-10 1 45 1-19 1-39 1 58 1-25 1-21 1-11 1 48 1 63 1-3 1-83 1-9 1 60 1-64 1 16 1 44 1-15 1-68 1 36 1-25 1 38 1-22 1-6 1-51 1 20 1 75 1-48 1 35 1-15 1 8 1-24 1 13 1 57 1-51 1-34 1 55 1-17 1-19 1 31 1-92 1 86 1 16 1 36 1-118 1 11 1-39 1 106 1-19 1-1 1-49 1 99 1-48 1 48 1-18 1 22 1-71 1 47 1-23 1 80 1-129 1 46 1-20 1 12 1 16 1-14 1-40 1 30 1 45 1-63 1 105 1-108 1 88 1-79 1-5 1 74 1 5 1-92 1 73 1 0 1-21 1 13 1-5 1 2 1 21 1-49 1 4 1-10 1-22 1 13 1-8 1 27 1-28 1-32 1 78 1-21 1 0 1-9 1-24 1 87 1-81 1 45 1-18 1 5 1 30 1-22 1-28 1 26 1-22 1 13 1-28 1 8 1-27 1 54 1 62 1-36 1-26 1-24 1 25 1-63 1 64 1-4 1-7 1-1 1-17 1 62 1 13 1-53 1 6 1-7 1 59 1-100 1-44 1 72 1 75 1-118 1 34 1 13 1-6 1 4 1-4 1 17 1-58 1 62 1 16 1-45 1-42 1 41 1 70 1-81 1 82 1-10 1-18 1-25 1 35 1-62 1 95 1-38 1-11 1 33 1 9 1-55 1 26 1-97 1 73 1 41 1-50 1-57 1 73 1 2 1-20 1-18 1 29 1-18 1-18 1 48 1 59 1-109 1 50 1-29 1 21 1-12 1-28 1 82 1-113 1 56 1 60 1-39 1-8 1-42 1 71 1-45 1-8 1 24 1 62 1-67 1-27 1 48 1-18 1 5 1 22 1 0 1-48 1-4 1 5 1 36 1-15 1-21 1 86 1-50 1-8 1 31 1-25 1 22 1-67 1 78 1-45 1-9 1-41 1 17 1 61 1-99 1 31 1 13 1 94 1-58 1 19 1-64 1 36 1-18 1 10 1 24 1 62 1-115 1 60 1-29 1-47 1 54 1-11 1 55 1-57 1-6 1-9 1 99 1-73 1 10 1 50 1-41 1 10 1-52 1 26 1-15 1-26 1 27 1-11 1-16 1 41 1-100 1 96 1-1 1-40 1 60 1-24 1 59 1 25 1-86 1 13 1-14 1 58 1-84 1-21 1 20 1 67 1-69 1 65 1-78 1 71 1-55 1 13 1 5 1 6 1 36 1 35 1-67 1-15 1 35 1-25 1-43 1 63 1-39 1 33 1-6 1 45 1-57 1 86 1-32 1-65 1 62 1 7 1-50 1-18 1 57 1-67 1 33 1 42 1-14 1-104 1 70 1-25 1 8 1 19 1-8 1-21 1 46 1-73 1 26 1 28 1 14 1-22 1 27 1-61 1-2 1 77 1 14 1-63 1 36 1-29 1 93 1-88 1 37 1-79 1 64 1 14 1-17 1-37 1 7 1 0 1 17 1 60 1-58 1 16 1-32 1 38 1-25 1 30 1 7 1-48 1-33 1 91 1-20 1-6 1-84 1 75 1-29 1 20 1-25 1 25 1-44 1 32 1-7 1 60 1 11 1-65 1 62 1-18 1-35 1-29 1 72 1-33 1-23 1 70 1-87 1-14 1 38 1 15 1-56 1 76 1-23 1 16 1-36 1 14 1 7 1 1 1 52 1-88 1 76 1-12 1-93 1 25 1 35 1 32 1-30 1-48 1-5 1 23 1 41 1 64 1-88 1 48 1-14 1 18 1-75 1 45 1-32 1 12 1 45 1-85 1 134 1-71 1-21 1-43 1 29 1 42 1-28 1 3 1 4 1-81 1 121 1-56 1 19 1 28 1 8 1-67 1 13 1 49 1-92 1 94 1-55 1 60 1-92 1 42 1-3 1 31 1-28 1 54 1-25 1 29 1-53 1-25 1 34 1-47 1 78 1-86 1-7 1 86 1-43 1-5 1 75 1-20 1 0 1-71 1 43 1 17 1-101 1 117 1-63 1 36 1 0 1-23 1 11 1-25 1 12 1 33 1 24 1 74 1-87 1-16 1 14 1-50 1 41 1-98 1 40 1 7 1 8 1 73 1-19 1-17 1-12 1-8 1-5 1 22 1-20 1 53 1 28 1-74 1-41 1 34 1 28 1-56 1-17 1 65 1 18 1 5 1 11 1-102 1 86 1-29 1 3 1 20 1-88 1 53 1 58 1-49 1-72 1 90 1-38 1-23 1 44 1 18 1-16 1 39 1-55 1 60 1-55 1 3 1-19 1 91 1-45 1-5 1-50 1 66 1-16 1 30 1-74 1 24 1 19 1 25 1-8 1 11 1-32 1 14 1 7 1-65 1 34 1-55 1 81 1-91 1 40 1 54 1-17 1-33 1 96 1-101 1 73 1-28 1-28 1 37 1-15 1-25 1-5 1 98 1-109 1 54 1-8 1 43 1-28 1-74 1 99 1-58 1-51 1 19 1 32 1 39 1-33 1 0 1 20 1-2 1-9 1 11 1-40 1 0 1 64 1-73 1 45 1 38 1-71 1 7 1 48 1-66 1-23 1 76 1-80 1 63 1 7 1-5 1-21 1-13 1-7 1 55 1-36 1-23 1 105 1-42 1-32 1-24 1 52 1-14 1-38 1 3 1 14 1 28 1 10 1-94 1 44 1-16 1 9 1 1 1 42 1-20 1-54 1 39 1 24 1-44 1-2 1 38 1-115 1 138 1-49 1 48 1-29 1-35 1 20 1 10 1 25 1 54 1-30 1 19 1-44 1-2 1 20 1 5 1-95 1 120 1-13 1-50 1 22 1 11 1-14 1-14 1 23 1-42 1 42 1 14 1 25 1-70 1 43 1-30 1 33 1-15 1 9 1-31 1 26 1 30 1-47 1-59 1 91 1-63 1 33 1 26 1-11 1 1 1 7 1-18 1 12 1-45 1 8 1 15 1-61 1-13 1 74 1-21 1-47 1 26 1 9 1 42 1 11 1-112 1 142 1-47 1 25 1-66 1 22 1-9 1-27 1 61 1-91 1 50 1 8 1 74 1-125 1 35 1-19 1 44 1 51 1-58 1 21 1 21 1-63 1 98 1-67 1-17 1 54 1-67 1 90 1-50 1 68 1-109 1 8 1 3 1 11 1-25 1 50 1 6 1-40 1 3 1 9 1 0 1 8 1-58 1 124 1-65 1 8 1-3 1-31 1 82 1-111 1 65 1 37 1-62 1 101 1-39 1-37 1-20 1 40 1-17 1-57 1 56 1-49 1 38 1 27 1-8 1 43 1-38 1-43 1 25 1 5 1-14 1 11 1-15 1 10 1 11 1-10 1-69 1 61 1 9 1 8 1-14 1-12 1-60 1 158 1-103 1 23 1 8 1-83 1 109 1-49 1-15 1-67 1 98 1-27 1-21 1 36 1 20 1-4 1-25 1 34 1 15 1 5 1-43 1 83 1-52 1-14 1-77 1 48 1 48 1-25 1 10 1-44 1-25 1 41 1-28 1 38 1-5 1 18 1 55 1-109 1 43 1 40 1 3 1-73 1 12 1 32 1 19 1-84 1 19 1 17 1 18 1-34 1 28 1 24 1 12 1 1 1 11 1-18 1-73 1 111 1-31 1-15 1-64 1 46 1 9 1-48 1 51 1 57 1-113 1 68 1-80 1 56 1-63 1 70 1 16 1 29 1-54 1-48 1-16 1 6 1 75 1-36 1-33 1 46 1 85 1-67 1-42 1 11 1-5 1-13 1 2 1 42 1 10 1-43 1 55 1-63 1 26 1 58 1-29 1-1 1-16 1 22 1-37 1-27 1-1 1 80 1 21 1-98 1 83 1-8 1-28 1-49 1-13 1 85 1 84 1-139 1 13 1 55 1-51 1-75 1 27 1 42 1 30 1-87 1 118 1-72 1-3 1-5 1-23 1 19 1 111 1-102 1 2 1 2 1 17 1-50 1 70 1 12 1-37 1 18 1-22 1 10 1-27 1 24 1 9 1 2 1-13 1 4 1 26 1-25 1 64 1-87 1 26 1 2 1-16 1 36 1 5 1 31 1-62 1 5 1 11 1-66 1 118 1-112 1 83 1-48 1 67 1-36 1 22 1-36 1-15 1-20 1 19 1-36 1 40 1-46 1 45 1 11 1-31 1 112 1-69 1-43 1 47 1 5 1-86 1 30 1 33 1 17 1-41 1 16 1-5 1 45 1 13 1-31 1 0 1 36 1-47 1 79 1-45 1-20 1-17 1-16 1 27 1-32 1 45 1-39 1-19 1-32 1 91 1-56 1-14 1 25 1 62 1-109 1 106 1-3 1-2 1-32 1-10 1 38 1-33 1-14 1 15 1 4 1 4 1-21 1 7 1 23 1-38 1 75 1-129 1 75 1 29 1-17 1-20 1 19 1 19 1-40 1 15 1 37 1-116 1 78 1 7 1 28 1-55 1-53 1 81 1-15 1-19 1 60 1 0 1 5 1-55 1-22 1 9 1 34 1 6 1-54 1 59 1-32 1-30 1 70 1-42 1 38 1-53 1-5 1 44 1-8 1 43 1-14 1 28 1-49 1-30 1-6 1 27 1 24 1-41 1 70 1-62 1 4 1 85 1-129 1 67 1-22 1 40 1-34 1 19 1 1 1 50 1-135 1 29 1 90 1-50 1-79 1 65 1-14 1 114 1-19 1-69 1-29 1 67 1-15 1-57 1 39 1-50 1 81 1-82 1 79 1-50 1 55 1-64 1-3 1-10 1 42 1 15 1 19 1-52 1 18 1-26 1 3 1-35 1 5 1 71 1-12 1-47 1 37 1 47 1-111 1 9 1 75 1-1 1-16 1 26 1-51 1 42 1-21 1 43 1-33 1 0 1 76 1-35 1-4 1-61 1-37 1 57 1 28 1-37 1-37 1 21 1-69 1 88 1-17 1 3 1-71 1 103 1-19 1-42 1-9 1 54 1-11 1-15 1-43 1 79 1-6 1-14 1 6 1 19 1-25 1 37 1-14 1 13 1-82 1 102 1-33 1 23 1-23 1-74 1 110 1-41 1 1 1-33 1 13 1-14 1 83 1-66 1-20 1 22 1 46 1-47 1-17 1 9 1-2 1-7 1 28 1-21 1 68 1 17 1-123 1 135 1-125 1 4 1-34 1 46 1 12 1 40 1-33 1-7 1 82 1-59 1-9 1-15 1-17 1 4 1-49 1 115 1-8 1 30 1-77 1 67 1-8 1-61 1-7 1 68 1-64 1 2 1 20 1 0 1-20 1-39 1 67 1 44 1-21 1-2 1-25 1-5 1 38 1-47 1 13 1 22 1-58 1 50 1-5 1-32 1 56 1 5 1-27 1-20 1-21 1 69 1 12 1-73 1 22 1-23 1-26 1 60 1 57 1-68 1 23 1-31 1 14 1 0 1-36 1 14 1 29 1 8 1-50 1 18 1 39 1 22 1-66 1 9 1 3 1 21 1-100 1 64 1 64 1-55 1 41 1-23 1-61 1 77 1-16 1 32 1-66 1 36 1 31 1-76 1 3 1 48 1-74 1 63 1-57 1 84 1 0 1 31 1-17 1-83 1 61 1-4 1-49 1 20 1-54 1 78 1-30 1 18 1 24 1-41 1-16 1-40 1 63 1-34 1 0 1 44 1 56 1-59 1 17 1-50 1 5 1 77 1-56 1 51 1-31 1 12 1 15 1-35 1 33 1 3 1-39 1-4 1 32 1-96 1 38 1 58 1-43 1-3 1 35 1-37 1 11 1 79 1 21 1-98 1 27 1-29 1 82 1-50 1 29 1-90 1-11 1 73 1-43 1 63 1-44 1-14 1 7 1-17 1-6 1-3 1-11 1 58 1-39 1 13 1-20 1 30 1-13 1-20 1 11 1-11 1 77 1-51 1-17 1 56 1 6 1-35 1-56 1 61 1 48 1-7 1-42 1-1 1-4 1 61 1-104 1 45 1 22 1-59 1 2 1 59 1 28 1-34 1-64 1 19 1 15 1 54 1-45 1 60 1-56 1-64 1 77 1 9 1-44 1 58 1-39 1 52 1-23 1-15 1-44 1 17 1 34 1-27 1 35 1-75 1-10 1 20 1-12 1 55 1-53 1 86 1-80 1-34 1 71 1-18 1 45 1-50 1 39 1-9 1 65 1-73 1 7 1-17 1-21 1 72 1-37 1-4 1 30 1-33 1-47 1 102 1-119 1 51 1 23 1 14 1-53 1-19 1 95 1-104 1 18 1 53 1 16 1-9 1-53 1 35 1-17 1 7 1 18 1 19 1-40 1 1 1-35 1 22 1 49 1-59 1 37 1-37 1 33 1 4 1 43 1-56 1 25 1-41 1 21 1 32 1-67 1 119 1-82 1 19 1-51 1 13 1 42 1-40 1-31 1 26 1 50 1-21 1-7 1 24 1-12 1-17 1-1 1 17 1 48 1-96 1 73 1-51 1 40 1-5 1 33 1-111 1 52 1-2 1 0 1 15 1 24 1-26 1 69 1-53 1 1 1-22 1-40 1 20 1 51 1-55 1 64 1-36 1 46 1-19 1-21 1 10 1 4 1-36 1-13 1 67 1-11 1-1 1-39 1-58 1 65 1 11 1-46 1-14 1 44 1 13 1-63 1 38 1 48 1-68 1 48 1-37 1 47 1 79 1-74 1-34 1 55 1-16 1-18 1-49 1 59 1-41 1 21 1-22 1 39 1-41 1 37 1-56 1 42 1-41 1 34 1 71 1 34 1-171 1 78 1 95 1-128 1 11 1 36 1 0 1-40 1 102 1-61 1-38 1 6 1 0 1 17 1 9 1 43 1-39 1 36 1-41 1-43 1 5 1 22 1-11 1 80 1-86 1 79 1-12 1-26 1-38 1-9 1 59 1-56 1 35 1-6 1 11 1-56 1 48 1-6 1 26 1 4 1-65 1 28 1 27 1 18 1-87 1-46 1 65 1 10 1 0 1-21 1 37 1-26 1 4 1 25 1 21 1-82 1 87 1-31 1 1 1 18 1 32 1-18 1-37 1 47 1 10 1-46 1-8 1-21 1 64 1-6 1-54 1 19 1-3 1 0 1 54 1-87 1-23 1 88 1-6 1-29 1 103 1-82 1-35 1 16 1 50 1-110 1 15 1 9 1 19 1 5 1 112 1-132 1 26 1 6 1-20 1 75 1-110 1 97 1-94 1 90 1-51 1 5 1-19 1-24 1 64 1-20 1 39 1 9 1 5 1-64 1 4 1 69 1-45 1 17 1-37 1 26 1-5 1-38 1 2 1 84 1-79 1 68 1-79 1 32 1 17 1-44 1 22 1 13 1-5 1-11 1 10 1-15 1 21 1 54 1-25 1-19 1 8 1 37 1-35 1 6 1-63 1 8 1 23 1 26 1 11 1-85 1 29 1 1 1-1 1 28 1 26 1-8 1-52 1 38 1-79 1 51 1 27 1-16 1 36 1-50 1-15 1 42 1-40 1 31 1-4 1 51 1-39 1-77 1 64 1 12 1-12 1-40 1 123 1-44 1-46 1 41 1-45 1 27 1-39 1-8 1 67 1 10 1-28 1-57 1 18 1-7 1 51 1 65 1-82 1-54 1 98 1-62 1 102 1-110 1 10 1 36 1-60 1 40 1-1 1-49 1 32 1 109 1-119 1 1 1 82 1-96 1 51 1-4 1-61 1 90 1 27 1-119 1 62 1-46 1 85 1-48 1-42 1 67 1-15 1 1 1 57 1-131 1 62 1-14 1 112 1-130 1 100 1-92 1 15 1-50 1 63 1 25 1 6 1-35 1 48 1-72 1 35 1 36 1-5 1 18 1-38 1-27 1 28 1 20 1 45 1-136 1 42 1 35 1-43 1 39 1 24 1-19 1-36 1 30 1 29 1-67 1 44 1-28 1-35 1 60 1-64 1 64 1 28 1 0 1-24 1 31 1-9 1-65 1 46 1-6 1 23 1-81 1-2 1-3 1 57 1-25 1 23 1-31 1 31 1 8 1 5 1-6 1 27 1-36 1-37 1-35 1 104 1-28 1-8 1-43 1 58 1-8 1 7 1-59 1 0 1 39 1-6 1-14 1-79 1 119 1-12 1 13 1-38 1-16 1 24 1 18 1 12 1-36 1 12 1 42 1-56 1 40 1-15 1-22 1-32 1 43 1 16 1 5 1-80 1 33 1 20 1-13 1 19 1-10 1 25 1 28 1-18 1-37 1 30 1 19 1 9 1-39 1 62 1-127 1 63 1 13 1-57 1 57 1-58 1 42 1 41 1-9 1-11 1-5 1-31 1 16 1 37 1-32 1 27 1-30 1 1 1 33 1-73 1-2 1 19 1 26 1-4 1 4 1-58 1 42 1-7 1 5 1-4 1 9 1 75 1-1 1-33 1 22 1-49 1 2 1-38 1 42 1 14 1 23 1-22 1-14 1-51 1 20 1 35 1-72 1 62 1-2 1 3 1 11 1-27 1 26 1 18 1-56 1-3 1 53 1-6 1 1 1-64 1 25 1 33 1 49 1-52 1 14 1-52 1 14 1-20 1 28 1 21 1-12 1 28 1-62 1-5 1 96 1-40 1-39 1 55 1-91 1 33 1-3 1 42 1-8 1-40 1 76 1-70 1 27 1 24 1-79 1 43 1-29 1 61 1-62 1 22 1 25 1 37 1-94 1 71 1-91 1 70 1-10 1 11 1 14 1-39 1 23 1 14 1-21 1-6 1 3 1-32 1 53 1-5 1-48 1 18 1 68 1-38 1-31 1-32 1 26 1 22 1 43 1 14 1-67 1-40 1 13 1 28 1 0 1 22 1 47 1-69 1 50 1-63 1 14 1 0 1-23 1 82 1-56 1 63 1-49 1-20 1 13 1 1 1 2 1-6 1-8 1-22 1 29 1-13 1 31 1 29 1-13 1-59 1 0 1 52 1 9 1-22 1 6 1 46 1-50 1-14 1 20 1-56 1 83 1 21 1-82 1 39 1 16 1 13 1-38 1-77 1 16 1 56 1 50 1 6 1 4 1-97 1-3 1 48 1-14 1 46 1-80 1 31 1-16 1 2 1-34 1 70 1-11 1 11 1-13 1-16 1 24 1-7 1 10 1 28 1 10 1-74 1 97 1-12 1-68 1-10 1 12 1 18 1 42 1-14 1-69 1 62 1-15 1-31 1-2 1 58 1-35 1-15 1-20 1 61 1-28 1-38 1 14 1 37 1 26 1 23 1-37 1-30 1 10 1-30 1 48 1-53 1 71 1-42 1 12 1 21 1-50 1-37 1-2 1 65 1-72 1 90 1-6 1-72 1 72 1-19 1-15 1 3 1-35 1 20 1 78 1-86 1 97 1-92 1 11 1-12 1-23 1 89 1-30 1-65 1 30 1-10 1 69 1-35 1 59 1-114 1 150 1-149 1 96 1-20 1-45 1 34 1-72 1 41 1-2 1 16 1-56 1 84 1-49 1-14 1 18 1-18 1 23 1 5 1 18 1-70 1 20 1-12 1 3 1-9 1 8 1 36 1 22 1-26 1-38 1 51 1 46 1-55 1 70 1-62 1 20 1-62 1 88 1-62 1 66 1-37 1-6 1 4 1-28 1 21 1 70 1-25 1-86 1 87 1-70 1 73 1-91 1 30 1 19 1 19 1 10 1-9 1 20 1-42 1-15 1 11 1 1 1 29 1-34 1 4 1-25 1 79 1-83 1 22 1-50 1 55 1-19 1-28 1-8 1 14 1 36 1 42 1-73 1 96 1-58 1-21 1 18 1 22 1-26 1 54 1-58 1 5 1 23 1 23 1 11 1-93 1 38 1 36 1-22 1-6 1 63 1-23 1-49 1 39 1-20 1-22 1-3 1-17 1 33 1-33 1 68 1-73 1 29 1-36 1 37 1 21 1-17 1 2 1-3 1 14 1 58 1 26 1-107 1-1 1 50 1 2 1 28 1-63 1-2 1-10 1-6 1 99 1-134 1 94 1-61 1-2 1 24 1 28 1-19 1 0 1 53 1-17 1-80 1 37 1 28 1-62 1-3 1 43 1-13 1 34 1-86 1 25 1-28 1 79 1-67 1 25 1-39 1 61 1-40 1-20 1 12 1-5 1 43 1-14 1 7 1 52 1-40 1-30 1 3 1 4 1-1 1 46 1 3 1-19 1-39 1 80 1-17 1-16 1-59 1 34 1 15 1 24 1-23 1-12 1-51 1 50 1-1 1-48 1 70 1-12 1-19 1 42 1-91 1 56 1-23 1-7 1 20 1 74 1-61 1-14 1-49 1 116 1 23 1-106 1 27 1 31 1 25 1-89 1 6 1 102 1-61 1-24 1 28 1-47 1 35 1-13 1 95 1-38 1-36 1-50 1 1 1 34 1 22 1-47 1 31 1 29 1-20 1 5 1 53 1-35 1-67 1 50 1-39 1-1 1 59 1-50 1 44 1 17 1 22 1-82 1 49 1-9 1 17 1-77 1 42 1-29 1 42 1-8 1 18 1-43 1 58 1-46 1-22 1 9 1 57 1-44 1 37 1-98 1 77 1-5 1-5 1-32 1 14 1-29 1 39 1 1 1 30 1 2 1 14 1-26 1 6 1-21 1-11 1-4 1 6 1 26 1-64 1 15 1 12 1 41 1-52 1-25 1 51 1 22 1-4 1-42 1 61 1 8 1-59 1 43 1-33 1 72 1-59 1 38 1-69 1 32 1-17 1-56 1-7 1 53 1-15 1 48 1 67 1-60 1-29 1-27 1 87 1-57 1 66 1-52 1-28 1-21 1 36 1 18 1-15 1 8 1-9 1-58 1 43 1-35 1 50 1 5 1 5 1 51 1-77 1 89 1-99 1 21 1 24 1-25 1 4 1 8 1 10 1-66 1 46 1 31 1 21 1-41 1 9 1-21 1-38 1 20 1 28 1-26 1 54 1-14 1-51 1 22 1 15 1 59 1-84 1 18 1-58 1 68 1 4 1-27 1 25 1 0 1 31 1-70 1-28 1 101 1-75 1 42 1 38 1-66 1 25 1-66 1 55 1 35 1-8 1-20 1-31 1 57 1-83 1-1 1 29 1 28 1-1 1 66 1-43 1 55 1-79 1 9 1-72 1 94 1-19 1 29 1-8 1-13 1-17 1-90 1 81 1-35 1 85 1-22 1-44 1 26 1-34 1 37 1-49 1-7 1 61 1-6 1-8 1 4 1 19 1-11 1 4 1 22 1-30 1-31 1 60 1-18 1-70 1 28 1-17 1 50 1-14 1-24 1 94 1-108 1 90 1-122 1 88 1-16 1 37 1-37 1-7 1-8 1 5 1 29 1-4 1-31 1 0 1-28 1 85 1-61 1 91 1-8 1 25 1-64 1-52 1 14 1 76 1-61 1-21 1-28 1 43 1 29 1 11 1 4 1-39 1-23 1 36 1 4 1-26 1 65 1-102 1 39 1 20 1 62 1-100 1 33 1 8 1-26 1-20 1 93 1-52 1-36 1 49 1 24 1-40 1 17 1-57 1 24 1 57 1-18 1 19 1-35 1 5 1-59 1 35 1 44 1-3 1 54 1-100 1 14 1 56 1-31 1 12 1-5 1-18 1 12 1 31 1-60 1-17 1 15 1 42 1-51 1 62 1-125 1 139 1-79 1-16 1 70 1-82 1 29 1 43 1 5 1-50 1-72 1 91 1-17 1 23 1-42 1 49 1 12 1 2 1-25 1 38 1 11 1-49 1 47 1-66 1 36 1-37 1-6 1 1 1 55 1-39 1-23 1 14 1-1 1 37 1-24 1-29 1 50 1 42 1-41 1-2 1-16 1-10 1 30 1-45 1-46 1 72 1 40 1-18 1-27 1-16 1 39 1-51 1 26 1-16 1-13 1-2 1 34 1 26 1-2 1 7 1 4 1-34 1 1 1 52 1 23 1-53 1-81 1 16 1 115 1-63 1-33 1 12 1-16 1 17 1 13 1-53 1 45 1 46 1 26 1-70 1 10 1 7 1-5 1-14 1-14 1 7 1 24 1 7 1 28 1-61 1-6 1 16 1 48 1-24 1-8 1-21 1 24 1 42 1-46 1-39 1 2 1 27 1 48 1-50 1 14 1 9 1-34 1 45 1 44 1-102 1-8 1-11 1 25 1 8 1 40 1 28 1-95 1 3 1 116 1-28 1-58 1 48 1 5 1-72 1 11 1 13 1 31 1 22 1-69 1 21 1-86 1 28 1 34 1 17 1 53 1-61 1 57 1-55 1-13 1 52 1-64 1 18 1 34 1-30 1 86 1-33 1-50 1 9 1-19 1-2 1 32 1-20 1-26 1 57 1-41 1 76 1-95 1 19 1 40 1-44 1-43 1 94 1-72 1 92 1-107 1 29 1 31 1-25 1 3 1 69 1-46 1-7 1-66 1-24 1 95 1-40 1 68 1-23 1 52 1-82 1-19 1 42 1 0 1 17 1 7 1-107 1 101 1-51 1 62 1-19 1-21 1 37 1-60 1 59 1-3 1-55 1 12 1 54 1 2 1 1 1-53 1-22 1-51 1 112 1-24 1 43 1-80 1 93 1-102 1 16 1 130 1-84 1 48 1-31 1-22 1 7 1 68 1-75 1-2 1-48 1 32 1 57 1-81 1 20 1 60 1-49 1 34 1-59 1 78 1-11 1-49 1 11 1-32 1 90 1-5 1-96 1 46 1 1 1-22 1 51 1-39 1-18 1 62 1-48 1 43 1 32 1-22 1-53 1 5 1-18 1-7 1 46 1 7 1-37 1 6 1-3 1 95 1-62 1-52 1-31 1 98 1-52 1 7 1 47 1-36 1-13 1-18 1 19 1 1 1-8 1-55 1 60 1 8 1-8 1 3 1 18 1-33 1 44 1 20 1-58 1 44 1-40 1 8 1 20 1-24 1 14 1 12 1-14 1 25 1-2 1-37 1 4 1-31 1 51 1-46 1 44 1-29 1 20 1 24 1 20 1-37 1 13 1-53 1 7 1 0 1 59 1 9 1-19 1-36 1 39 1-51 1 4 1 31 1 43 1-42 1-15 1-16 1 49 1-13 1-33 1 6 1-44 1 62 1-34 1 55 1-49 1 41 1 6 1-10 1-9 1 16 1-33 1 26 1 19 1-33 1-28 1 15 1-29 1 28 1 70 1-73 1-54 1 89 1-47 1 62 1-99 1 52 1 2 1-36 1 92 1-72 1 52 1-96 1 84 1 47 1-11 1-20 1-23 1 1 1-31 1 85 1-46 1 15 1-31 1 35 1 8 1-37 1-11 1 3 1 3 1-15 1 38 1-49 1 74 1-8 1-28 1-50 1 32 1-5 1-18 1 15 1 21 1-40 1 63 1-61 1 74 1-97 1 69 1-46 1 56 1-17 1-45 1 33 1-37 1 39 1-26 1-35 1 29 1 9 1-22 1 43 1-30 1 83 1-44 1 15 1 20 1-26 1-22 1 11 1-36 1 49 1 19 1-77 1-19 1 88 1 25 1-61 1-10 1 28 1-40 1 27 1 8 1-7 1 32 1-40 1 38 1-43 1 43 1 16 1-15 1 7 1 44 1-88 1 19 1-52 1 1 1 31 1-11 1 14 1 30 1-24 1 12 1-32 1 23 1 2 1 6 1-16 1 19 1 23 1-67 1 24 1-39 1 47 1-7 1 22 1-68 1 86 1-82 1 129 1-102 1 49 1 82 1-78 1-63 1 4 1 34 1 6 1-16 1-27 1 53 1-25 1-9 1 24 1-32 1-10 1-5 1-10 1 6 1 67 1-17 1-45 1 53 1-26 1 2 1 22 1-61 1 55 1-33 1 23 1 34 1-18 1 11 1-43 1-17 1-27 1 51 1 57 1-47 1-42 1 41 1-14 1-1 1 100 1-112 1-5 1 69 1-49 1-78 1 81 1 31 1-94 1 72 1 1 1 7 1-26 1-8 1 59 1-51 1-16 1 55 1-49 1 23 1-31 1 64 1-52 1 43 1 18 1 18 1-52 1-18 1 48 1-81 1 121 1-91 1 1 1 51 1-27 1-32 1 32 1-34 1 55 1-40 1 16 1-42 1 35 1 27 1 19 1-34 1-31 1 26 1-11 1 42 1-19 1-73 1 71 1-16 1 17 1-5 1-32 1 60 1-70 1-46 1 48 1 17 1-49 1 63 1-45 1 49 1 29 1-45 1 11 1-73 1 74 1 70 1-84 1 64 1 21 1-53 1-61 1 60 1-45 1 6 1-19 1 46 1 17 1-36 1-11 1 3 1-40 1 80 1-4 1-48 1-6 1 87 1-56 1-64 1 107 1-11 1 25 1-8 1-24 1-45 1-3 1 13 1 54 1-62 1 36 1-6 1 74 1-70 1-34 1-20 1 66 1-80 1 84 1-63 1 40 1 24 1-50 1 37 1 76 1-109 1 64 1-45 1 0 1-6 1-4 1-84 1 125 1-39 1-23 1 93 1-101 1 45 1 12 1-20 1 51 1-19 1-86 1 27 1-59 1 94 1-19 1 7 1 18 1-32 1 10 1-25 1 53 1-65 1 57 1 50 1-42 1-65 1 16 1 42 1-34 1 38 1-34 1 21 1-48 1 69 1-52 1 49 1-52 1 66 1 12 1-37 1-92 1 95 1 23 1-48 1 11 1 53 1-46 1 12 1-39 1 33 1 35 1-53 1-97 1 107 1 10 1-36 1-21 1-19 1 84 1-29 1 103 1-104 1 30 1 15 1 7 1-41 1-4 1-14 1 70 1-1 1-13 1-31 1 0 1-27 1 22 1-12 1 14 1 20 1-17 1-65 1 78 1-111 1 99 1 51 1-97 1 52 1-51 1 26 1-18 1 5 1-22 1 76 1-31 1-27 1 31 1-55 1 47 1 12 1 27 1-24 1-30 1-42 1 69 1-48 1 56 1 43 1-47 1-58 1 44 1 6 1-34 1 27 1 24 1-43 1 52 1-67 1 62 1-60 1 68 1-24 1 39 1-67 1 32 1-16 1 52 1-48 1-3 1 29 1-12 1-30 1-35 1 37 1-59 1 117 1-23 1 12 1-96 1 55 1 22 1-78 1 46 1 93 1-25 1-93 1 45 1 52 1-25 1-51 1 31 1-40 1 58 1 9 1-54 1-55 1 38 1 3 1 47 1 42 1-107 1 26 1 27 1 11 1-56 1 75 1-7 1-23 1 14 1-22 1 6 1-7 1 34 1 15 1-43 1 27 1-59 1 41 1 16 1-20 1-2 1 23 1-1 1-8 1 31 1-52 1 23 1-23 1 42 1-32 1 16 1-57 1 12 1 24 1-65 1 98 1-67 1 24 1-57 1 164 1-162 1 108 1-90 1 87 1-65 1 25 1-64 1 108 1 0 1-69 1 1 1 72 1-47 1-9 1-2 1 29 1-46 1-21 1 85 1-88 1 74 1-31 1 16 1-20 1 45 1-32 1-23 1 27 1-59 1 81 1-22 1 0 1-27 1 46 1 3 1-44 1 7 1 22 1-38 1 15 1-4 1-5 1-46 1 1 1 38 1 90 1-48 1-62 1 8 1 57 1-27 1-25 1 33 1-10 1 16 1-13 1 14 1-47 1 44 1-2 1-30 1 26 1-3 1 59 1-62 1 2 1-46 1 75 1-22 1-35 1 41 1 26 1-29 1-45 1 23 1-34 1-29 1 97 1-35 1 26 1 17 1-46 1 91 1-110 1 50 1-34 1 9 1 41 1-14 1-85 1 134 1-72 1-17 1 83 1-6 1-31 1-42 1 20 1 1 1 5 1-48 1 16 1 40 1 4 1-43 1 52 1-51 1 64 1-13 1-49 1 24 1 1 1 33 1-52 1 85 1-65 1 51 1-22 1-9 1 25 1-35 1 0 1-27 1-4 1 8 1-42 1 112 1-59 1 2 1 63 1-60 1 31 1-32 1 30 1-50 1 29 1-35 1 90 1-57 1 65 1-144 1 114 1-28 1-36 1 28 1-23 1 32 1-17 1-7 1 33 1 20 1-3 1-32 1-15 1-28 1 16 1 44 1-8 1-89 1 83 1-25 1-29 1 58 1 44 1-160 1 69 1 38 1 8 1-19 1 14 1 27 1 2 1 13 1-40 1-65 1 50 1 26 1 30 1-47 1 2 1 33 1-47 1 60 1-66 1 35 1-17 1-15 1-25 1 86 1-43 1 11 1-2 1-60 1 32 1-9 1 46 1-65 1 47 1 32 1-33 1 43 1-110 1 102 1-51 1-22 1 30 1 44 1-86 1 54 1 31 1-57 1 8 1-10 1 47 1-92 1 45 1-27 1 11 1-9 1 59 1-43 1 42 1-54 1 20 1 59 1-78 1 11 1-16 1 40 1 20 1-1 1-76 1 86 1-42 1-26 1-21 1 131 1-83 1-33 1-23 1 48 1 35 1 24 1-23 1-47 1 71 1-65 1 59 1-50 1 31 1-64 1 52 1 15 1 34 1-101 1 41 1 25 1-20 1-21 1 3 1 23 1 1 1-2 1-31 1 30 1-1 1 13 1-45 1 15 1 13 1-20 1 8 1 21 1 18 1-18 1-16 1 53 1 6 1-42 1 22 1-12 1 16 1-88 1-23 1 30 1-10 1 57 1-53 1 115 1 34 1-83 1 16 1-53 1 24 1 2 1 14 1-8 1-6 1-2 1-52 1 0 1 38 1 28 1 13 1-8 1 3 1 27 1-24 1-49 1 49 1-3 1-2 1-3 1-28 1 27 1-11 1-48 1 42 1-47 1 79 1 20 1-52 1-12 1-44 1 47 1 38 1-60 1 73 1-43 1-5 1 20 1-7 1-71 1 90 1-89 1 33 1 23 1-17 1-33 1 109 1-48 1 8 1-14 1-11 1 42 1-35 1 22 1 45 1-16 1 3 1 17 1-87 1 17 1 38 1-95 1 92 1-16 1-2 1 17 1 4 1-72 1 71 1-22 1-13 1-30 1 42 1-9 1-20 1-52 1 114 1-33 1-31 1 19 1 67 1-101 1 17 1 24 1-47 1-4 1 67 1-31 1 60 1-15 1 13 1-28 1 36 1-111 1 57 1 17 1-1 1 15 1 2 1 6 1-76 1 52 1-38 1 17 1-8 1 0 1 60 1-109 1 47 1-16 1 7 1-49 1 85 1 67 1-31 1-26 1-30 1-15 1-9 1 26 1 57 1-68 1 35 1-3 1 42 1-25 1-45 1 30 1 53 1-36 1-67 1 79 1 7 1-15 1-77 1 77 1 7 1-71 1-1 1 59 1-47 1 26 1-36 1 48 1-7 1-12 1-5 1 6 1-34 1-9 1 66 1-64 1 28 1 25 1-28 1 82 1-73 1 11 1-5 1-38 1 98 1-64 1 1 1 13 1 31 1-49 1 1 1-5 1-59 1 59 1 59 1 31 1-13 1-49 1 15 1-18 1-36 1 23 1 21 1-17 1-24 1-27 1 8 1 114 1-91 1-11 1-17 1 8 1 25 1 19 1-25 1-33 1-17 1 44 1 23 1-23 1 49 1-19 1 18 1-9 1-4 1-8 1-14 1 0 1 3 1 85 1-82 1 33 1-85 1 42 1 42 1-51 1 75 1-73 1 44 1-41 1 60 1-50 1 18 1-24 1 32 1-49 1-13 1 24 1-12 1-33 1 112 1 1 1-44 1 9 1-30 1 8 1 39 1 12 1-83 1 7 1 77 1-54 1-44 1 31 1-3 1 16 1 42 1-23 1 14 1-59 1 40 1 11 1-42 1 29 1-8 1 68 1-83 1 33 1-19 1-4 1 30 1 11 1 6 1-46 1 28 1-41 1 51 1-57 1 53 1-41 1-31 1 99 1 29 1-118 1-2 1 67 1-26 1 8 1-70 1 69 1-37 1 82 1-124 1 79 1-8 1-28 1-26 1 42 1 64 1-13 1-12 1-57 1 73 1-86 1 64 1-75 1 31 1 36 1-18 1-43 1 56 1-89 1 7 1 100 1 49 1-138 1 88 1 1 1 41 1-74 1-19 1 34 1 31 1-71 1 80 1-27 1-30 1 30 1-66 1-33 1 125 1-126 1 77 1-14 1-63 1 69 1-10 1 18 1-17 1 22 1-92 1 61 1 23 1 1 1 38 1-51 1-17 1 18 1-9 1 95 1-36 1-56 1 48 1-23 1-22 1 47 1-21 1 59 1-7 1-69 1 59 1-30 1 7 1-5 1-40 1 37 1 2 1-28 1 24 1 19 1-40 1-17 1-29 1 45 1 5 1 29 1 1 1-6 1 39 1-11 1-79 1-10 1 55 1-58 1-13 1 15 1 5 1 18 1 33 1-21 1 13 1-34 1-17 1 31 1 29 1-71 1 65 1 1 1-98 1 125 1-39 1 51 1-47 1 33 1-100 1 25 1 40 1-11 1-6 1 6 1 39 1-19 1-14 1-1 1-5 1 58 1-163 1 99 1-14 1 70 1-33 1-78 1 91 1-3 1 7 1 0 1 30 1-25 1 3 1 12 1-41 1 42 1-36 1-16 1 15 1-21 1-9 1-10 1-58 1 93 1 41 1-60 1 33 1 26 1-47 1 12 1-101 1 101 1 31 1-75 1 51 1-4 1 9 1-42 1 10 1 8 1 20 1 4 1 37 1-82 1 80 1 17 1-31 1-114 1 62 1-11 1 35 1 9 1 12 1-66 1 26 1-11 1-49 1 124 1-55 1 20 1-48 1 9 1 13 1 25 1 16 1-9 1-4 1-25 1-19 1-43 1-16 1 86 1-38 1 17 1 5 1 10 1 23 1-20 1-62 1 73 1-42 1 49 1-52 1 45 1-13 1 1 1 66 1-89 1 37 1 5 1-69 1 20 1 50 1-42 1 53 1-6 1-79 1 120 1-83 1-76 1 74 1 27 1-4 1-39 1 54 1-40 1-28 1 43 1 1 1-7 1-4 1-11 1 28 1-56 1 79 1-47 1 21 1-66 1 76 1 1 1 0 1 1 1 36 1-65 1-2 1 23 1 6 1 9 1-1 1 4 1-53 1-20 1 49 1-3 1 54 1-78 1 4 1 90 1-80 1 32 1 27 1-86 1 16 1 63 1-8 1-7 1-62 1 75 1-54 1 15 1-30 1 51 1-5 1-15 1-20 1-1 1 97 1-53 1-13 1-50 1 18 1 70 1-83 1 79 1-10 1-20 1-71 1 41 1 15 1 5 1-18 1-33 1 30 1-6 1-49 1 16 1 44 1 62 1-22 1-2 1 2 1-40 1-8 1 37 1-19 1-7 1 27 1-56 1 7 1-9 1 40 1 11 1-28 1 57 1-79 1-10 1 30 1 59 1-50 1 5 1-11 1-16 1 7 1 74 1-90 1 62 1-87 1 93 1-8 1-52 1 88 1-25 1-32 1 31 1-15 1 35 1-69 1 69 1-45 1-23 1 23 1 2 1-10 1-37 1 55 1-5 1 15 1-61 1 24 1 12 1-3 1-23 1-22 1 14 1-15 1 39 1 8 1-37 1-15 1-15 1 64 1 2 1 6 1-15 1 66 1-29 1-40 1-35 1 59 1 23 1-46 1-43 1 81 1-9 1-40 1 68 1-78 1 104 1-82 1 49 1 7 1-26 1-27 1 31 1-36 1 14 1-12 1-37 1 21 1-31 1 22 1 81 1-56 1-20 1 7 1-19 1 29 1 7 1-63 1 123 1-65 1-62 1 86 1 7 1-92 1 71 1 47 1-137 1 112 1-10 1-40 1 41 1-23 1 22 1-48 1 45 1-45 1 32 1 34 1 48 1-31 1-48 1-49 1 33 1 112 1-66 1-91 1 68 1-45 1 87 1-7 1-32 1-36 1 17 1 26 1 10 1-46 1-16 1 80 1-2 1-70 1 17 1-3 1 16 1 34 1-44 1 42 1 60 1-43 1-43 1 18 1-37 1 35 1-118 1 98 1 8 1 35 1-111 1 97 1-34 1 52 1-25 1-19 1-15 1 11 1-54 1-24 1 150 1-38 1-52 1 4 1-44 1 99 1-25 1-37 1 23 1 6 1-7 1-7 1-4 1-1 1 17 1 27 1-31 1-5 1-6 1 33 1-58 1 43 1-8 1 29 1-42 1 36 1-8 1-7 1-38 1 37 1 57 1-59 1 4 1-27 1 42 1-23 1-24 1 53 1-14 1-52 1 10 1 39 1-39 1 33 1 28 1-58 1 72 1-141 1 37 1 77 1-70 1 45 1 22 1-45 1 82 1-25 1-21 1 41 1 18 1-97 1-26 1 64 1-4 1 9 1-67 1 4 1 96 1-62 1 41 1-26 1 6 1 28 1-78 1 28 1 81 1-14 1-66 1 28 1-28 1 6 1 2 1-21 1 12 1-4 1 41 1-40 1-26 1 60 1-22 1-19 1 37 1 10 1-67 1 24 1 5 1-7 1 17 1 7 1 5 1-44 1 103 1-90 1-13 1 44 1 3 1 15 1-56 1-23 1 59 1 23 1-40 1 2 1 43 1-20 1-46 1 55 1 26 1-97 1 84 1-21 1 72 1-103 1 52 1-42 1 26 1-11 1-62 1-13 1 117 1-21 1-65 1 60 1-7 1-8 1-6 1-8 1-13 1 15 1 21 1-69 1 8 1 43 1-5 1-22 1 35 1-27 1 58 1-81 1 23 1-12 1 7 1-44 1 80 1 15 1-24 1 30 1-56 1-4 1 41 1-94 1 23 1 114 1-36 1-5 1 7 1-25 1-43 1 36 1 17 1-19 1 21 1-37 1 92 1-93 1 45 1 11 1-74 1 4 1 43 1-7 1 18 1-18 1 27 1-4 1-60 1-1 1 88 1-49 1-27 1-27 1 51 1 34 1-3 1-12 1 25 1-42 1 0 1-19 1 8 1 36 1-15 1-9 1 6 1 57 1-82 1 101 1-46 1-55 1-19 1 32 1 43 1-23 1-10 1 20 1-76 1 47 1 9 1-54 1 103 1-21 1 4 1-14 1-28 1-15 1-43 1 37 1 18 1 80 1-80 1 86 1-68 1 22 1-42 1-7 1 30 1-24 1 1 1 16 1 34 1-23 1 21 1-13 1 8 1 1 1-23 1-22 1 78 1-26 1-38 1-26 1 2 1 29 1-14 1-12 1 13 1 28 1-19 1 21 1-46 1 0 1 29 1 24 1-56 1 23 1 46 1-63 1-62 1 55 1-31 1 46 1-28 1 98 1-96 1 6 1 32 1 24 1-35 1 4 1 46 1-61 1-11 1 82 1-51 1-6 1-32 1 72 1-6 1-85 1 49 1-1 1 3 1-1 1 14 1 36 1-12 1-26 1 44 1-59 1 35 1-27 1-27 1 2 1 107 1-66 1-11 1-10 1 5 1 3 1 50 1-53 1 3 1-1 1 34 1-78 1 79 1-48 1 79 1-52 1 2 1-5 1-15 1-19 1 12 1-21 1 7 1 35 1 24 1-42 1 77 1-89 1-25 1 2 1 47 1 33 1-16 1-28 1 61 1-66 1 42 1-36 1 5 1-12 1 32 1 67 1-75 1 22 1-19 1 17 1-78 1-22 1 75 1-31 1 83 1-66 1 33 1-6 1 4 1-2 1-40 1 29 1 27 1-53 1-36 1 63 1-26 1 56 1-24 1-30 1-10 1 7 1-4 1-76 1 97 1 71 1-64 1-18 1 10 1-38 1 75 1 28 1-40 1-18 1-119 1 181 1-124 1 24 1 41 1-68 1 21 1 43 1-9 1 53 1-54 1 22 1 1 1 6 1-106 1 66 1-3 1-71 1 119 1-50 1 35 1 24 1-46 1-32 1 75 1-32 1-12 1-5 1 24 1 39 1-34 1-42 1 62 1-94 1 106 1-75 1 32 1-18 1-14 1 37 1-36 1-20 1 29 1 45 1-79 1-20 1 45 1 73 1-99 1 96 1-17 1 21 1-40 1-16 1 4 1-10 1 17 1-7 1-10 1 15 1 21 1-22 1 5 1 15 1 16 1-85 1 14 1 62 1-39 1-15 1-24 1 21 1 53 1-5 1 68 1-28 1-88 1 2 1-31 1 53 1 29 1 14 1-38 1 9 1-36 1 36 1 0 1 18 1 9 1-60 1 48 1-59 1 50 1 31 1-91 1 39 1 33 1-72 1 66 1 17 1-65 1 95 1-104 1 46 1 32 1-82 1 107 1-36 1-14 1-30 1 36 1-72 1 52 1-38 1 37 1-9 1 6 1 40 1 49 1-145 1 78 1-45 1 69 1 4 1-66 1-16 1 53 1 36 1-44 1-21 1 72 1-6 1-61 1-21 1 51 1-116 1 69 1 36 1-36 1-1 1 47 1-50 1 18 1 40 1-34 1-19 1 11 1-55 1 12 1 44 1 79 1-7 1-30 1 31 1-47 1-67 1 18 1-43 1 65 1-4 1 22 1-71 1 73 1 36 1-4 1-35 1 31 1-20 1 1 1-51 1 42 1 26 1-15 1-64 1 79 1-95 1 79 1 19 1 19 1-51 1 6 1 46 1-67 1-21 1 121 1-35 1-50 1 24 1-11 1-7 1-24 1 27 1 10 1-57 1 54 1-72 1 114 1-71 1-27 1 33 1-23 1 89 1-72 1-20 1 14 1 46 1-3 1-28 1-9 1 23 1-34 1 40 1-8 1-9 1-18 1 26 1-50 1 87 1-53 1 27 1-53 1 0 1 62 1-35 1-1 1 69 1-85 1 64 1 11 1-58 1 66 1-45 1-9 1 63 1-82 1-2 1-33 1 49 1-3 1-66 1 36 1 30 1-35 1 11 1-29 1 39 1 23 1-26 1 23 1-8 1 11 1 22 1-34 1 7 1-19 1 17 1-25 1 38 1-55 1 69 1-79 1 91 1-21 1-70 1 26 1 3 1 25 1-26 1-48 1 104 1 10 1-25 1-42 1 34 1-15 1 23 1-14 1-13 1 50 1-34 1 16 1-6 1 4 1-67 1 75 1-105 1 113 1-91 1 1 1-14 1 46 1 46 1-93 1 55 1-34 1 4 1 26 1 21 1-62 1 69 1-47 1 31 1-45 1 133 1-92 1-60 1 61 1-43 1 98 1-99 1 99 1-33 1-81 1 83 1-40 1 17 1 17 1-46 1 70 1-95 1 59 1-30 1 86 1-7 1-48 1-28 1 81 1-104 1 82 1-64 1-46 1 126 1-83 1 44 1-5 1 34 1-14 1-7 1 15 1 6 1-30 1-61 1 53 1 32 1-43 1 21 1 5 1-40 1 21 1-31 1 36 1-8 1 22 1-30 1-43 1 114 1-49 1-10 1-12 1 31 1-48 1-6 1 38 1 36 1 12 1-10 1-20 1 28 1-11 1-8 1-12 1 49 1-81 1 75 1-16 1-59 1-31 1-5 1 38 1-22 1 17 1 58 1-66 1 32 1 20 1-43 1 44 1 28 1-83 1 17 1 27 1-25 1-45 1 87 1-7 1-97 1 152 1-70 1 32 1-36 1 4 1 10 1-34 1-18 1 38 1 18 1-28 1 31 1 56 1-53 1-21 1-34 1 33 1 25 1-25 1-53 1 82 1-30 1-7 1 3 1-40 1 65 1-30 1-26 1 50 1 20 1 23 1-74 1 55 1-61 1 46 1-57 1 26 1-20 1 29 1 34 1-68 1 4 1 82 1-29 1-44 1-60 1 64 1 44 1-8 1-11 1-81 1 63 1-35 1 8 1 32 1 55 1-96 1 98 1-16 1-4 1-76 1 69 1 3 1-52 1 40 1-64 1 26 1-30 1 80 1-42 1-2 1 12 1 107 1-74 1-40 1 9 1 21 1-17 1-20 1 40 1 28 1-70 1-13 1 27 1-13 1 26 1-21 1 12 1 40 1-26 1 28 1-91 1 88 1-48 1-31 1-2 1 65 1-31 1 37 1-5 1-23 1 7 1-3 1 13 1 1 1-46 1 2 1 80 1-24 1-27 1-48 1 26 1-6 1 4 1 8 1-3 1 20 1-10 1 13 1-56 1 83 1-50 1 61 1-21 1-19 1 50 1 36 1-137 1 78 1-1 1-25 1 42 1-86 1-12 1 107 1-24 1-82 1 61 1-46 1 60 1-44 1 34 1 0 1 16 1 24 1-74 1-2 1 5 1 5 1-9 1-12 1-46 1 81 1-14 1 37 1-62 1 19 1 56 1-17 1-25 1 7 1-7 1 5 1-35 1 29 1 64 1-58 1 39 1-56 1 11 1 47 1-39 1 20 1 24 1-44 1 9 1 19 1-14 1 26 1-36 1 29 1-3 1-19 1 19 1-29 1-70 1 100 1 25 1-85 1-39 1 19 1 49 1 3 1-37 1-30 1 38 1 23 1-48 1 104 1-43 1-12 1 32 1 33 1-66 1 21 1-31 1-53 1 58 1 53 1-72 1 19 1 10 1-45 1 86 1-57 1-33 1 16 1 1 1-57 1 51 1 50 1-18 1-19 1-23 1-22 1 53 1-10 1-25 1 2 1 5 1 47 1-58 1 80 1-111 1 83 1-24 1 43 1-32 1-1 1 15 1 6 1 41 1-116 1 78 1-3 1-29 1-16 1 29 1 4 1 27 1 13 1-18 1-20 1 33 1-35 1 19 1 10 1-71 1 4 1 16 1 40 1-33 1-27 1 5 1 95 1-64 1 6 1 11 1 20 1 7 1-12 1 32 1-73 1-8 1 61 1-39 1-87 1 92 1-69 1 62 1 4 1 47 1 17 1-64 1 3 1-8 1-82 1 69 1 43 1-17 1-17 1-25 1 59 1 22 1-51 1 40 1-77 1 77 1 26 1-56 1 36 1-38 1 4 1-15 1-14 1 40 1-51 1-5 1 44 1 76 1-36 1-32 1 27 1-58 1-26 1 27 1-13 1 47 1 30 1-38 1-33 1 78 1-79 1 44 1-37 1 5 1 27 1-1 1-19 1 10 1 30 1-7 1-74 1 104 1-19 1-48 1 29 1-37 1 3 1 39 1 3 1-28 1-24 1 36 1-41 1 38 1 30 1-86 1 41 1-15 1 66 1-17 1-54 1-13 1 36 1 40 1-45 1 25 1-35 1 25 1-57 1 51 1-48 1 36 1 1 1-5 1-16 1 57 1 26 1-39 1-30 1 25 1 5 1-15 1 20 1-15 1-20 1 9 1 42 1-33 1-54 1 48 1 15 1-20 1-7 1 4 1 8 1-7 1 16 1 85 1-101 1 23 1-58 1 59 1-25 1-22 1 63 1-8 1-39 1 26 1-8 1-70 1-26 1 172 1-39 1-51 1 16 1 44 1-37 1 20 1-26 1-18 1-15 1 66 1-14 1-8 1-91 1 58 1-16 1-15 1 52 1 38 1-45 1-39 1 24 1 87 1-61 1-71 1 89 1-25 1-22 1 114 1-129 1 36 1-10 1 16 1-20 1-4 1 11 1 37 1-36 1 18 1-28 1 65 1-33 1-41 1 55 1-62 1 54 1 29 1-21 1-5 1-30 1 15 1 33 1-62 1 13 1 55 1-69 1 14 1 10 1 19 1 16 1-119 1 98 1-13 1-35 1 39 1-33 1 68 1-8 1-48 1 57 1-22 1 27 1-5 1-47 1-60 1 55 1 58 1-67 1 24 1-28 1 45 1 39 1-119 1 73 1-37 1 26 1 11 1-9 1-27 1 4 1 8 1 8 1-28 1 112 1-71 1-5 1 16 1 31 1-46 1 5 1-38 1 28 1-21 1-30 1 79 1 8 1-58 1 38 1-32 1-7 1 1 1 20 1 44 1-73 1 15 1 18 1-5 1-29 1 27 1-14 1-69 1 139 1-46 1 17 1 7 1-39 1-38 1 47 1-32 1 29 1 9 1-5 1-75 1 79 1 38 1-32 1-28 1-18 1 53 1-31 1 52 1-23 1-52 1-33 1 90 1-43 1 85 1-46 1 30 1-25 1-49 1 77 1-96 1 13 1-28 1 42 1 33 1-25 1 29 1-30 1-36 1 35 1-20 1-18 1 55 1-58 1 8 1 42 1-20 1 0 1 24 1-9 1 43 1-13 1-29 1 45 1-48 1-36 1 85 1-77 1 90 1-74 1 59 1-49 1 13 1-41 1 9 1 14 1 43 1 14 1-67 1 8 1-20 1-9 1 73 1-77 1-10 1 63 1-6 1-45 1 67 1 16 1-42 1 10 1 24 1-16 1 20 1-25 1-90 1 82 1-38 1 30 1-7 1-51 1 93 1 31 1-44 1 59 1-66 1 5 1 38 1-73 1-15 1 39 1-22 1-20 1-27 1 49 1 94 1-132 1 100 1 18 1-49 1-58 1 27 1 74 1-26 1-75 1 10 1 19 1 43 1 13 1-98 1 52 1-29 1 38 1 2 1 62 1-77 1-20 1 36 1 18 1-7 1-21 1 1 1 19 1 6 1-13 1-31 1 24 1 26 1-48 1 44 1-47 1 21 1-19 1 53 1-61 1-7 1 29 1 24 1 51 1-57 1 12 1-49 1 17 1 21 1-10 1 12 1-40 1 35 1 42 1-58 1 38 1-16 1-98 1 88 1-24 1 24 1-28 1 37 1-70 1 33 1-29 1 57 1-24 1 14 1 58 1-84 1 58 1-27 1 1 1-6 1-4 1-20 1-10 1 37 1 1 1 25 1-9 1-45 1 4 1 72 1-39 1-1 1-43 1 62 1 3 1-54 1 32 1 20 1-15 1-41 1 44 1 30 1-47 1 61 1-79 1 32 1 23 1-10 1-23 1-47 1 100 1-83 1 6 1 36 1-60 1 2 1 46 1 2 1-22 1 11 1-49 1 87 1-38 1-32 1 70 1-50 1 44 1-41 1-3 1 29 1-51 1 28 1-20 1 24 1 44 1-14 1-41 1 20 1 3 1 2 1-90 1 147 1-67 1 86 1-17 1-69 1 1 1 6 1-3 1-1 1 20 1-42 1 87 1-103 1 18 1 52 1-17 1-58 1 93 1 1 1-60 1-2 1 26 1-43 1 23 1 48 1-75 1 11 1 96 1-75 1-23 1 105 1-25 1-78 1 59 1-6 1-21 1 12 1-6 1-34 1-4 1-26 1 52 1-56 1 144 1-65 1-28 1 45 1-15 1 8 1-59 1 11 1 24 1 24 1-2 1 13 1-93 1 64 1-28 1-20 1 56 1 26 1-42 1 18 1 18 1-121 1 112 1-68 1 12 1-37 1 68 1 18 1-49 1 51 1-31 1-13 1 36 1-43 1 66 1-18 1-114 1 51 1 94 1-34 1 28 1 18 1-86 1 1 1 70 1 32 1 29 1-125 1 14 1-81 1 139 1-61 1 17 1-4 1-14 1 20 1-14 1 6 1-6 1-2 1-16 1 42 1-24 1 56 1-40 1 7 1-23 1 0 1-29 1-13 1 79 1-39 1-46 1 20 1 77 1-68 1 4 1-4 1 64 1 20 1-123 1 41 1-61 1 87 1 6 1-36 1 36 1 5 1-37 1 5 1-3 1 9 1-15 1-48 1 39 1 43 1 26 1-7 1-70 1 27 1 4 1-3 1-28 1 41 1-4 1-40 1 37 1-8 1 38 1-31 1-25 1 43 1-20 1 30 1-7 1-18 1-22 1 11 1-29 1 10 1-31 1 64 1 14 1 33 1-46 1 62 1-126 1 70 1 27 1-79 1-1 1 33 1-26 1-36 1 54 1 23 1 35 1-86 1 80 1-47 1 3 1-38 1 21 1 38 1-28 1 24 1-7 1-53 1 103 1-26 1-23 1-27 1 46 1-69 1 20 1 37 1 32 1-71 1 88 1-65 1-1 1-5 1 56 1 21 1-110 1 2 1 29 1 29 1-15 1 18 1-50 1-3 1 46 1-13 1-1 1-7 1 41 1-60 1 3 1-21 1 26 1-40 1 73 1 1 1-22 1-46 1 0 1 27 1-17 1 19 1-17 1 64 1 14 1-52 1-8 1 27 1 1 1-23 1 45 1 41 1-72 1 15 1-17 1-5 1-53 1 40 1 48 1-22 1-37 1 52 1-18 1 2 1 31 1-53 1-46 1 37 1 55 1-13 1-19 1-8 1 15 1 12 1 28 1-74 1 51 1-62 1 49 1-19 1-10 1 5 1-25 1 33 1 0 1-43 1 10 1 69 1 41 1-82 1 14 1-13 1 16 1 8 1 68 1-43 1-5 1-71 1 37 1-34 1-9 1 90 1-6 1-20 1-79 1 15 1 65 1-18 1-25 1-24 1 22 1 60 1-43 1-76 1 39 1 63 1-9 1 57 1-58 1-70 1 70 1-31 1-16 1-18 1 29 1 18 1 39 1-20 1 8 1 31 1-11 1-6 1-8 1-4 1-42 1 36 1 45 1-56 1-69 1 48 1 27 1-19 1 21 1-2 1 39 1-67 1 42 1-19 1-17 1 12 1 14 1-40 1 19 1-10 1-17 1 19 1 32 1-11 1-21 1 6 1 60 1-67 1 25 1 26 1 15 1-116 1 131 1-108 1-9 1 35 1 38 1 22 1-78 1 17 1-12 1 45 1 24 1-51 1 23 1-32 1 32 1 29 1 12 1-49 1-6 1 35 1-42 1 1 1 25 1 14 1 23 1-88 1 86 1-58 1-31 1-6 1 37 1-3 1 68 1-76 1 42 1 41 1-43 1 3 1-7 1-16 1-32 1 72 1 3 1-56 1 21 1-83 1 146 1-24 1-17 1-45 1 47 1-90 1 29 1 43 1-48 1 54 1-58 1 37 1-37 1-31 1 51 1 60 1 5 1-9 1 61 1-146 1 34 1 18 1 7 1 28 1-31 1-77 1 76 1-12 1-9 1-42 1 80 1-51 1 8 1 84 1-50 1-60 1 50 1-19 1-25 1 47 1 1 1-24 1-11 1 30 1 38 1-49 1 20 1 39 1-58 1 31 1 1 1-64 1 68 1-76 1 85 1-94 1 106 1-45 1-36 1 12 1-37 1 84 1 6 1-72 1 10 1-22 1 53 1 47 1-31 1 16 1-20 1-25 1-16 1 11 1 47 1-5 1-30 1 34 1 20 1-75 1 17 1 51 1-65 1 8 1 26 1-36 1 10 1-53 1 68 1 21 1 32 1-24 1-11 1-10 1 14 1-93 1-6 1 88 1-64 1 18 1 62 1-41 1 42 1-88 1 74 1 32 1-79 1 34 1 61 1-39 1 5 1-65 1 92 1-27 1 5 1-17 1-104 1 81 1-46 1-66 1 115 1-20 1 57 1 10 1-53 1-20 1 92 1-91 1 36 1-17 1-47 1 10 1 64 1-23 1-11 1-36 1 84 1-71 1 70 1-49 1-26 1 40 1 0 1-29 1 56 1 63 1-109 1-38 1 35 1 28 1-50 1 78 1-7 1 23 1-59 1 20 1-20 1 32 1 26 1-86 1 120 1-78 1-30 1 40 1-42 1 94 1-121 1 71 1-27 1 29 1-45 1-37 1 98 1-62 1 37 1 10 1-26 1 8 1-22 1 44 1-63 1 95 1-79 1 37 1 47 1-16 1-32 1 40 1-83 1-4 1-2 1 11 1-36 1 54 1 8 1-63 1 82 1 17 1 9 1-52 1-14 1 22 1-43 1 38 1 27 1-59 1 41 1-24 1 31 1-34 1-35 1 80 1-54 1 0 1 34 1 27 1-39 1 0 1-34 1 1 1 45 1 28 1-50 1 78 1-83 1 30 1 30 1-93 1-22 1 111 1 54 1-118 1 104 1-108 1 75 1-44 1 26 1 4 1-12 1-10 1-52 1 22 1 43 1 1 1-53 1 20 1-20 1 34 1 9 1-57 1 45 1 2 1 11 1-7 1 12 1-6 1 31 1-57 1 35 1 21 1-27 1-21 1 50 1-22 1-18 1 8 1-13 1 93 1-83 1-16 1 25 1-44 1 58 1 19 1-67 1 34 1-5 1-68 1 67 1 51 1-38 1-2 1-40 1 11 1-17 1 91 1-41 1 10 1-36 1-13 1 47 1-93 1 87 1-57 1 9 1-17 1 53 1 16 1-73 1 16 1 30 1-1 1 52 1-14 1-69 1 84 1 7 1-46 1-9 1-31 1 72 1-30 1-49 1 43 1 10 1-32 1 40 1 12 1-22 1-74 1 62 1-7 1 14 1-17 1 2 1-20 1-19 1 51 1 19 1-87 1 64 1-37 1 64 1-40 1 25 1-41 1 65 1 15 1-38 1-45 1 33 1-33 1 16 1 40 1 23 1-48 1 34 1-80 1 46 1-21 1 101 1-54 1-33 1 41 1-39 1 5 1 19 1-23 1 6 1-90 1 5 1 113 1-72 1 77 1-52 1 26 1-59 1 23 1 6 1 32 1-35 1 24 1-9 1-26 1 15 1 47 1-58 1 12 1-17 1 41 1-4 1 40 1-61 1 28 1-63 1 44 1 18 1 4 1 6 1-10 1 16 1-1 1-69 1 84 1-24 1-22 1 5 1 23 1 1 1 23 1-73 1 33 1 53 1-49 1-75 1 110 1-37 1-4 1 69 1-82 1 35 1-56 1 12 1 89 1-100 1 9 1 23 1-32 1 96 1-63 1 27 1-58 1 15 1 36 1-35 1-37 1 2 1 6 1 25 1-1 1-15 1 44 1 24 1-59 1-45 1 96 1-41 1-17 1 12 1 0 1 16 1 14 1 31 1-51 1 10 1 15 1-9 1-44 1 104 1-48 1-4 1-23 1 32 1 10 1-33 1-31 1 44 1-66 1 38 1 15 1-14 1 34 1-34 1-34 1 54 1 47 1-102 1 57 1-30 1 3 1-15 1 59 1-26 1-39 1 33 1 46 1-86 1 66 1-67 1-60 1 95 1 37 1-19 1 32 1 8 1-61 1-4 1 3 1 32 1-54 1 59 1 34 1-90 1-19 1-2 1 94 1-5 1-112 1 110 1-13 1-7 1 41 1-73 1 31 1-54 1 15 1 62 1-29 1-17 1-26 1 5 1 45 1 0 1-49 1 47 1-15 1 33 1-29 1 27 1-27 1-12 1 81 1-82 1 45 1-60 1 58 1-10 1 39 1-96 1 57 1-9 1-37 1 4 1 3 1 33 1 33 1-88 1 35 1 18 1-16 1-33 1 47 1-17 1 37 1-42 1 1 1 11 1 75 1-99 1 48 1-47 1 12 1-39 1 38 1 3 1 64 1 25 1-35 1-47 1 47 1-73 1 11 1 26 1-40 1 34 1-32 1 26 1 12 1-49 1 98 1-87 1-6 1 47 1 10 1-92 1 171 1-131 1 102 1-7 1-89 1-27 1 25 1 24 1-12 1 49 1-22 1-29 1-24 1-17 1 22 1 57 1-5 1-27 1 13 1-20 1-9 1-20 1-4 1 100 1-79 1 3 1 43 1-24 1 1 1 25 1-26 1-16 1 19 1-8 1-7 1-22 1 76 1-64 1 84 1-19 1-24 1-35 1-6 1 79 1-14 1-44 1-14 1 56 1-62 1 45 1-74 1 39 1 33 1-124 1 142 1 22 1-26 1 58 1-73 1-46 1 16 1 36 1-43 1 28 1 12 1 7 1-54 1 39 1 31 1-49 1 1 1-38 1 68 1 0 1 46 1-43 1-13 1 46 1-82 1 39 1-8 1 14 1-39 1-35 1 42 1 6 1-57 1 62 1-80 1 143 1-115 1-3 1 96 1-13 1-10 1-25 1-80 1 59 1 44 1-38 1 15 1-29 1 58 1 0 1 4 1-39 1-2 1 74 1-88 1 58 1-53 1 12 1 20 1-31 1-16 1 71 1-27 1-2 1-6 1-21 1 95 1-48 1-33 1-25 1 49 1-33 1 59 1-56 1 6 1 36 1-32 1 33 1-2 1-26 1 14 1-14 1 40 1 7 1-81 1 76 1-1 1-57 1 51 1-40 1-5 1 93 1-44 1 0 1-47 1 45 1 17 1-116 1 85 1-51 1 48 1-1 1-11 1-29 1 16 1-51 1 109 1-142 1 40 1-8 1 32 1 39 1-6 1 6 1-32 1 50 1-26 1 3 1 7 1-30 1-28 1-1 1 30 1 44 1-65 1 54 1 7 1-19 1-20 1 22 1-40 1 31 1 55 1-95 1-18 1 84 1-33 1-15 1 19 1-33 1 39 1-39 1 65 1-53 1 28 1-43 1 14 1-12 1 102 1-34 1 30 1-48 1 18 1 22 1-20 1-64 1 63 1-31 1 5 1-2 1-27 1-10 1 50 1-76 1 40 1-38 1 89 1 18 1-83 1 21 1 14 1 11 1 0 1-12 1 11 1 14 1 35 1-69 1-12 1 14 1 54 1-47 1-9 1 46 1-21 1-37 1-47 1 111 1-71 1 58 1 7 1-58 1 102 1-88 1 15 1 53 1-63 1 7 1 35 1-33 1-24 1 30 1-21 1 67 1-86 1 68 1-31 1-26 1 17 1 55 1-58 1-39 1 28 1 37 1-22 1-42 1 79 1-16 1 14 1-32 1-19 1 35 1-17 1 25 1-62 1 49 1-43 1-15 1 42 1 63 1-34 1 8 1-26 1 7 1-11 1-25 1-8 1 25 1 40 1-52 1-44 1 41 1 5 1 19 1 35 1-33 1 20 1-81 1 50 1 1 1 17 1-19 1-5 1 11 1-22 1 41 1-19 1-18 1-45 1 10 1 30 1 28 1 27 1-16 1-11 1 18 1-37 1 96 1-126 1 38 1 24 1-24 1-63 1 85 1-20 1-14 1 28 1-23 1 55 1 17 1-119 1 102 1-113 1 122 1-70 1 45 1-49 1 27 1-36 1 74 1-58 1-32 1-9 1 7 1 44 1 0 1 43 1 2 1-40 1-92 1 124 1-35 1-10 1 55 1-58 1-24 1-8 1-3 1 52 1-31 1 97 1-53 1-6 1-10 1-27 1 53 1-54 1 57 1 5 1-73 1-8 1 36 1 13 1 6 1-3 1-18 1 123 1-21 1-106 1 20 1 0 1 35 1-39 1-34 1 80 1-81 1 59 1 23 1-81 1 78 1-20 1-28 1 71 1-132 1 146 1-99 1 7 1-6 1 42 1-62 1 16 1 20 1 7 1-64 1 77 1 11 1 19 1 17 1-126 1 66 1 26 1-16 1-29 1-20 1 67 1-7 1 52 1-138 1 40 1 36 1-27 1-31 1-31 1 17 1 72 1-9 1-48 1-7 1-12 1 71 1-14 1 14 1-33 1 26 1 48 1-48 1 2 1 6 1 9 1-52 1 44 1 52 1-52 1 31 1-69 1 18 1 31 1-77 1 5 1 50 1-39 1 51 1-48 1 26 1 27 1 12 1-10 1-22 1-6 1-31 1 52 1-36 1 47 1 4 1-42 1 11 1 12 1-17 1 26 1-45 1 35 1-16 1 66 1-113 1 83 1-49 1 40 1-56 1 48 1-47 1 101 1-75 1-38 1 68 1-37 1 18 1-3 1 50 1-100 1 20 1 17 1 19 1-43 1 92 1-26 1-31 1-22 1-36 1 97 1-82 1 67 1 7 1-55 1 38 1-48 1 38 1 65 1-99 1 76 1-44 1 7 1-20 1 15 1-11 1 60 1-52 1-11 1 49 1-59 1 32 1 4 1-41 1 47 1-32 1-46 1 105 1-63 1 35 1-7 1-19 1 113 1-124 1 36 1 11 1-32 1-15 1 27 1-34 1 26 1 78 1-155 1 93 1-68 1 102 1-24 1 20 1-94 1 146 1-101 1 16 1-35 1 55 1-42 1 44 1-90 1 51 1-53 1 0 1 24 1-2 1 11 1 28 1-4 1 9 1 19 1-44 1 62 1 16 1-90 1 20 1-36 1 9 1 13 1 21 1 22 1-18 1-26 1-28 1 20 1 12 1 26 1-25 1-12 1 73 1-90 1 44 1-17 1 14 1 47 1-44 1 2 1 55 1-80 1 27 1 22 1-52 1 32 1-10 1 51 1-10 1-50 1 1 1 18 1 34 1-26 1 17 1-18 1-68 1 59 1-19 1 54 1-13 1-15 1-86 1 92 1-30 1 8 1-4 1-63 1 115 1-102 1 96 1 23 1-89 1 61 1-25 1-9 1 8 1 1 1-3 1-57 1 20 1 23 1 23 1-28 1 10 1-87 1 125 1-44 1-31 1 64 1-38 1 63 1-141 1 61 1 70 1-39 1 99 1-96 1-9 1-44 1 3 1 25 1 48 1-40 1 5 1 0 1-11 1 42 1-1 1 4 1-14 1 33 1-43 1-13 1 31 1-50 1 27 1-54 1 41 1 20 1 20 1-3 1-69 1 47 1 69 1-73 1-10 1-35 1 41 1 17 1 21 1 27 1 10 1-49 1-51 1 74 1-2 1-11 1 9 1-52 1 9 1-72 1 81 1 30 1-46 1-11 1 84 1-75 1-14 1 73 1-38 1-6 1-20 1-13 1 18 1 16 1 36 1-43 1 21 1-36 1 57 1-41 1-31 1-3 1 64 1-20 1-95 1 136 1-43 1-20 1 39 1-1 1 12 1 6 1-14 1 23 1-52 1-26 1 19 1-15 1 16 1 22 1 4 1-38 1 67 1-71 1 60 1-40 1 35 1 40 1-48 1-30 1 34 1-10 1-19 1 15 1 1 1-9 1 32 1-38 1 9 1 25 1-44 1 13 1 19 1-32 1 74 1-37 1-38 1 102 1-112 1 63 1-15 1-113 1 127 1-38 1 31 1-52 1 48 1-107 1 150 1-37 1-16 1-34 1 51 1-24 1-80 1 65 1-26 1 6 1-1 1 49 1-93 1 140 1-58 1 38 1 0 1 11 1-113 1 74 1-54 1 16 1 60 1 29 1-49 1 12 1-48 1 49 1-42 1 7 1 73 1-116 1 59 1-11 1-12 1 4 1 43 1-141 1 22 1 109 1-123 1 85 1 14 1-33 1 38 1-50 1 85 1-22 1-114 1 80 1 20 1-5 1 30 1-46 1 30 1-30 1-100 1 103 1-27 1 21 1 71 1-78 1 17 1-22 1 112 1-91 1-9 1-7 1 17 1-22 1 77 1-90 1 61 1 1 1-64 1-7 1 36 1-25 1 58 1-17 1 23 1-7 1-75 1 26 1 77 1-15 1-20 1 4 1-17 1-38 1 34 1 62 1-2 1-40 1-104 1 65 1 15 1 20 1-15 1 9 1 14 1-14 1 49 1-111 1 64 1 28 1-58 1 14 1-26 1 14 1 26 1-29 1 25 1 7 1-36 1 89 1-53 1-31 1 21 1-3 1-19 1 12 1-9 1-5 1 20 1 40 1-11 1 26 1-82 1 11 1-18 1 45 1-46 1 27 1-2 1 21 1-73 1 75 1-4 1 41 1 37 1-101 1 61 1 17 1-79 1 20 1-14 1 1 1-20 1 30 1 2 1 32 1 29 1-83 1 22 1-45 1 4 1 83 1-58 1 45 1 4 1-78 1-9 1 77 1 35 1-11 1-76 1 40 1-34 1 36 1 19 1-54 1 36 1-75 1 111 1 12 1-7 1-82 1 79 1-24 1-44 1 67 1-67 1-34 1 81 1-48 1 9 1 43 1-9 1-28 1-34 1 68 1-9 1-11 1 9 1-92 1 120 1-83 1-4 1 48 1-40 1-1 1 15 1 11 1 35 1 12 1-6 1 7 1-17 1 2 1-58 1 29 1-7 1 21 1 42 1-81 1 25 1 9 1 19 1-79 1 27 1 63 1-99 1 43 1 26 1 30 1-65 1 37 1 7 1-25 1 13 1 28 1-22 1 37 1-50 1 20 1-23 1-60 1 61 1 14 1-24 1 64 1-47 1 27 1-48 1-24 1 45 1-49 1 31 1-27 1 18 1 21 1-30 1 45 1 2 1-16 1 16 1 0 1 32 1-19 1-45 1-46 1 106 1-48 1 35 1-57 1-18 1 64 1-26 1 63 1-39 1-22 1-14 1 38 1 26 1-81 1 24 1 18 1 18 1-31 1 59 1-4 1-12 1-10 1-38 1-4 1-41 1 19 1 15 1 28 1-19 1 6 1 3 1 29 1-43 1 25 1-5 1-18 1-3 1 50 1-60 1 10 1-1 1 52 1-37 1 47 1 8 1-87 1 47 1 15 1-35 1 25 1-24 1 20 1-34 1-23 1 38 1-27 1 73 1-10 1-68 1 27 1 28 1-17 1-8 1-30 1 62 1-30 1 42 1-68 1-16 1 85 1-17 1-5 1-24 1 19 1 22 1-4 1-31 1 9 1-17 1 80 1-93 1 6 1 32 1 3 1 1 1-41 1 41 1 10 1-35 1-31 1 22 1 23 1 0 1 46 1-83 1 32 1 58 1-63 1-1 1-47 1 88 1-18 1-11 1-16 1-14 1 50 1-16 1 12 1-66 1 2 1 58 1 5 1 35 1-56 1 1 1 47 1-119 1 108 1 40 1-82 1 16 1-3 1-60 1 131 1-69 1 7 1-62 1 69 1 21 1-50 1 14 1 32 1-85 1 98 1-34 1-53 1-1 1 3 1 89 1-52 1 35 1 51 1-48 1-73 1 36 1-6 1 21 1 6 1-55 1 18 1 67 1-66 1 43 1-45 1 54 1-4 1-20 1-29 1 91 1-148 1 36 1 68 1-79 1 115 1-56 1 20 1-51 1 24 1 8 1 28 1-27 1-25 1 7 1 13 1-12 1 32 1 23 1-27 1-55 1-21 1 51 1 39 1 27 1-67 1-22 1 86 1-39 1-16 1-60 1-3 1 106 1-160 1 90 1 46 1-84 1 76 1-9 1-89 1 39 1-29 1 61 1 1 1 31 1-38 1 11 1 65 1-71 1 22 1 60 1-59 1 28 1-30 1 7 1 2 1-15 1 18 1 6 1 19 1-64 1 42 1-32 1 11 1 12 1 58 1-33 1-39 1-13 1-27 1 24 1-44 1 34 1 22 1-43 1 33 1 20 1 6 1-6 1-23 1 41 1-20 1-8 1 1 1-22 1-12 1 73 1-28 1-26 1 16 1 36 1 45 1-134 1 29 1-11 1 18 1 4 1 20 1-19 1 3 1 72 1-102 1 23 1 10 1-29 1 13 1-33 1 45 1-35 1 29 1-6 1 48 1-6 1-18 1-18 1 63 1-4 1-92 1 32 1 40 1-11 1-82 1 68 1-2 1-1 1-25 1 61 1 43 1-75 1-15 1-15 1 44 1-40 1 38 1-23 1 34 1-53 1 47 1-7 1 27 1 9 1-31 1 27 1-57 1 34 1-66 1 40 1 15 1 6 1-59 1 27 1-14 1 2 1 76 1-37 1-12 1-22 1 54 1-44 1-34 1 7 1 66 1 6 1-43 1-18 1 0 1 45 1-67 1 16 1 43 1-35 1 67 1-56 1 16 1-1 1 21 1-54 1 10 1-8 1-8 1 33 1 57 1-83 1 18 1 22 1 12 1-4 1-58 1 1 1 70 1-60 1 58 1-56 1 13 1-10 1 49 1-12 1-14 1 57 1-21 1-27 1-69 1 76 1 11 1-58 1 4 1 38 1-13 1-10 1 36 1-82 1 45 1-27 1 49 1-2 1 29 1-11 1 14 1-46 1-36 1 58 1-51 1 55 1-35 1 30 1 8 1 1 1-17 1-57 1 106 1-104 1 33 1 26 1-62 1 24 1 47 1-72 1 95 1-48 1 11 1-34 1 15 1 19 1 15 1-3 1 7 1-40 1 6 1 19 1 42 1-151 1 121 1-2 1-58 1 50 1 37 1-47 1-10 1-16 1 9 1 56 1-84 1 80 1 4 1-63 1 45 1-32 1-5 1 74 1-43 1-32 1-19 1 29 1-1 1 18 1 50 1-93 1 72 1-80 1 116 1-77 1 41 1-58 1 66 1-77 1-22 1 64 1-8 1-13 1 49 1-60 1 70 1-39 1 50 1-51 1-2 1 0 1 38 1-44 1 46 1-20 1-8 1-3 1-13 1-50 1 67 1-14 1-26 1 23 1 68 1-39 1-81 1 69 1-64 1 54 1-6 1 15 1-38 1 74 1 23 1-65 1 14 1-22 1-15 1 37 1-26 1 43 1-75 1 70 1-129 1 93 1 16 1 2 1 1 1-42 1 37 1 6 1-8 1-16 1-51 1-47 1 124 1-9 1-14 1-45 1 84 1-38 1 15 1 1 1-32 1 1 1-37 1 86 1-29 1 16 1 31 1-75 1 57 1-84 1 62 1-22 1-27 1-11 1 49 1-62 1 28 1 66 1-65 1 76 1-39 1 28 1-39 1 29 1-32 1 20 1-36 1 103 1-116 1-1 1 76 1-44 1-9 1 7 1-12 1 12 1-13 1 38 1 13 1-10 1 17 1-114 1 130 1-112 1 47 1 35 1 18 1-28 1 12 1 13 1-13 1-34 1 49 1-108 1 36 1 39 1-24 1 68 1-92 1 32 1-25 1 55 1-4 1-22 1 60 1-89 1 74 1-25 1-61 1 47 1-55 1 56 1 7 1-47 1 0 1 79 1-6 1-51 1 3 1-38 1 39 1 18 1 52 1-37 1-23 1 27 1-102 1 50 1 39 1-12 1 14 1 31 1-21 1-3 1 41 1-65 1-11 1 62 1-36 1 38 1-20 1-39 1 39 1-13 1-89 1 105 1-26 1-17 1-8 1 78 1-74 1-10 1 15 1-11 1-10 1 49 1-28 1 1 1-40 1 5 1-29 1 119 1 30 1-110 1 23 1 39 1-55 1 0 1-4 1 20 1-6 1 18 1 54 1-45 1-71 1 80 1 52 1-29 1-98 1 16 1 64 1-44 1-20 1 74 1 11 1-29 1 76 1-99 1 35 1-55 1-90 1 112 1 5 1-17 1-11 1-23 1 1 1 58 1-30 1 16 1 16 1 30 1-10 1 13 1-39 1-28 1 35 1-29 1 65 1-26 1-26 1 44 1-26 1 25 1-18 1-13 1-49 1 76 1-46 1 39 1-28 1 48 1-33 1-45 1 52 1 21 1 11 1-11 1-4 1-77 1 3 1 39 1 0 1 8 1-9 1 69 1-62 1-29 1-23 1 52 1-9 1 0 1 87 1-108 1-16 1 82 1-71 1 49 1-48 1-30 1 69 1-34 1 51 1-6 1 14 1-72 1 46 1 9 1-58 1 116 1-28 1-82 1 59 1-13 1-8 1 40 1-67 1 75 1-67 1-12 1 59 1-21 1-14 1 2 1 49 1-70 1 13 1 22 1-12 1-15 1 25 1 21 1-35 1 59 1-58 1-18 1 34 1-24 1-21 1 32 1-12 1-23 1 5 1 58 1-58 1-8 1-2 1-21 1 61 1 9 1-24 1-63 1 39 1 34 1 29 1-27 1-17 1 24 1 20 1-22 1-40 1-17 1 43 1 6 1 6 1-58 1 30 1-13 1-2 1-3 1-34 1 106 1-48 1 47 1-10 1-36 1 37 1 14 1-18 1-19 1 39 1-22 1 19 1-39 1-25 1 6 1 7 1-4 1-9 1 86 1-25 1-7 1-54 1 12 1 8 1 6 1-2 1 40 1-6 1 10 1-73 1 94 1-88 1 33 1-23 1 76 1-103 1 31 1 14 1 5 1 38 1-117 1 149 1-126 1 96 1-79 1 6 1 53 1 0 1 7 1-35 1 47 1-84 1-17 1 63 1-39 1 67 1 16 1-78 1 29 1 8 1-27 1-16 1 44 1-5 1 47 1-24 1-38 1 29 1 17 1-94 1 49 1-4 1 75 1-33 1-34 1-3 1 51 1-82 1 52 1-80 1 20 1 31 1 10 1 24 1 45 1-70 1-1 1 44 1-29 1-38 1 76 1-59 1-57 1 69 1-1 1-11 1 56 1 0 1-76 1 38 1-33 1 26 1-45 1 87 1-35 1 10 1 32 1-53 1 45 1-35 1 27 1 8 1-36 1 40 1-47 1 20 1 17 1-112 1 38 1 85 1-38 1 13 1-54 1 3 1 54 1-22 1-45 1 54 1-24 1-8 1 22 1-53 1 54 1 28 1-52 1 54 1-20 1 2 1-46 1 30 1 20 1 23 1-82 1 62 1 14 1-61 1 30 1 1 1-14 1-23 1 31 1 58 1-15 1-31 1-14 1 40 1-24 1-3 1 38 1-4 1-56 1 38 1-74 1 58 1 57 1-42 1-57 1 30 1 43 1-30 1-43 1 72 1-7 1-26 1-13 1 19 1-33 1 14 1 40 1 4 1 44 1-71 1-8 1-21 1 7 1 39 1-141 1 99 1 28 1-20 1-19 1 35 1-35 1 35 1-60 1 100 1-34 1-4 1-50 1 76 1 37 1-95 1 52 1-39 1-17 1-1 1 78 1-89 1 30 1-52 1 97 1-111 1 87 1-15 1-42 1 79 1-54 1-27 1 27 1 45 1 17 1-7 1-29 1 2 1-10 1 15 1 16 1-6 1-39 1 9 1 71 1-12 1-23 1-26 1 15 1 4 1 7 1 52 1-98 1-13 1 65 1-12 1-43 1 14 1-28 1-5 1 53 1-7 1 38 1-93 1 24 1 57 1-27 1 38 1-124 1 115 1 6 1-11 1-6 1 20 1-20 1-10 1 27 1-49 1 11 1 10 1 67 1-149 1 54 1 25 1-9 1-33 1 61 1-83 1 54 1-7 1 2 1 55 1-14 1-60 1-9 1 89 1-109 1 14 1 6 1 58 1-40 1 49 1-32 1 23 1-19 1-16 1-1 1-64 1 69 1 37 1-64 1 52 1-15 1-1 1 25 1 21 1-57 1-21 1 50 1-33 1-16 1 27 1-6 1 87 1 6 1-77 1-5 1-30 1 19 1-2 1-1 1 23 1-29 1 65 1-76 1 83 1-22 1-61 1 34 1-33 1 46 1-5 1 0 1-20 1 29 1-49 1-12 1 49 1 37 1-25 1 44 1-45 1-46 1 38 1-49 1 10 1 30 1 9 1-19 1 1 1 59 1-41 1 21 1-32 1 11 1-7 1-26 1 9 1-12 1-2 1 94 1-45 1-55 1 25 1 2 1-26 1-23 1-3 1 78 1-5 1 38 1-37 1-2 1 13 1-65 1 16 1 46 1 40 1-93 1 95 1-87 1 72 1-92 1 70 1-59 1 50 1 28 1-73 1 38 1-62 1 74 1-43 1 59 1-18 1-25 1-17 1 30 1 3 1-31 1 43 1 26 1-11 1-43 1 69 1-54 1-110 1 140 1-107 1 5 1 92 1 14 1-25 1 12 1-68 1 31 1-26 1 66 1-41 1 59 1-77 1-38 1 44 1-41 1 36 1 17 1 22 1-36 1 38 1-34 1 14 1-47 1 55 1-11 1-33 1 48 1-31 1 31 1-43 1 63 1-66 1 14 1 13 1-32 1 57 1-59 1 32 1-1 1 0 1 14 1-5 1 23 1-48 1 0 1 47 1-36 1 11 1-1 1 10 1-21 1 44 1-11 1-48 1 39 1-3 1 63 1-83 1 40 1-30 1 7 1-20 1 74 1-90 1 45 1-37 1 66 1-55 1 43 1-21 1-39 1 22 1-35 1 37 1-12 1-41 1 102 1-72 1 26 1-16 1 38 1 2 1-23 1-37 1 2 1 55 1-65 1 79 1 60 1-91 1-8 1-10 1-11 1 24 1 50 1-17 1-142 1 72 1 92 1-35 1-10 1 21 1-31 1 9 1-25 1-50 1 78 1-10 1 49 1-33 1 31 1-86 1 35 1 7 1-4 1-46 1 13 1 31 1-17 1-10 1-7 1 111 1-113 1 16 1-3 1 45 1-43 1 69 1-41 1 50 1-42 1-51 1 60 1-42 1 54 1 5 1-35 1-5 1 14 1-23 1 13 1-64 1 149 1-87 1-6 1-41 1 67 1-69 1 53 1 12 1-16 1-49 1 44 1-9 1-14 1 75 1 49 1-27 1-124 1 66 1 21 1 11 1-78 1 91 1-63 1 27 1-17 1 13 1 11 1-58 1 18 1 31 1-17 1 49 1-26 1-42 1 12 1 59 1-14 1-28 1-8 1 3 1 34 1 6 1-51 1-5 1 44 1-109 1 41 1 73 1 12 1-17 1-77 1-35 1 95 1-58 1 14 1-2 1-5 1 51 1 26 1-71 1 89 1-44 1 35 1-32 1 13 1-68 1 50 1-85 1-14 1 75 1-14 1-3 1 74 1-73 1 68 1-41 1-31 1 55 1-13 1-34 1 74 1-58 1 21 1 6 1-57 1 75 1-29 1-21 1 31 1 25 1-90 1-15 1 7 1 11 1 25 1 79 1-83 1 57 1-24 1-51 1 110 1-85 1-48 1 97 1-61 1 4 1 31 1-27 1 19 1-59 1 123 1-17 1-70 1 16 1 37 1 34 1-34 1-36 1-18 1-50 1 69 1-20 1 19 1-3 1 38 1-96 1-14 1 64 1 9 1 28 1 3 1-25 1 26 1-30 1-21 1 8 1 7 1 36 1-53 1 15 1 36 1-33 1 46 1-57 1-2 1-42 1 165 1-140 1 89 1 4 1-7 1-64 1-24 1 42 1-41 1-3 1 18 1-23 1 31 1 25 1 0 1 15 1-53 1 2 1 67 1-44 1 29 1 12 1-32 1-78 1 118 1-21 1 25 1-75 1 15 1 8 1 69 1-71 1-40 1 98 1 5 1-74 1-42 1 70 1-46 1 41 1-39 1-1 1-82 1 129 1-83 1 50 1-27 1 52 1-33 1 22 1-13 1 18 1 22 1-66 1 61 1-45 1 27 1 27 1 42 1-76 1 53 1-3 1-90 1 53 1 21 1-106 1 93 1-108 1 96 1 29 1-24 1-29 1 24 1 21 1-23 1-41 1 17 1-8 1 48 1-89 1 71 1-2 1-6 1-22 1 55 1-75 1 81 1-8 1 39 1-6 1-69 1 95 1-43 1 4 1-48 1 51 1-54 1 1 1 32 1-67 1 9 1 5 1 11 1 13 1 0 1 34 1 24 1-40 1 17 1-65 1 27 1-12 1 14 1-21 1 29 1 10 1-53 1 110 1-30 1 1 1-71 1 113 1-87 1 43 1 33 1-90 1 33 1-8 1-26 1-20 1 85 1-35 1 29 1 5 1-47 1 23 1-11 1-22 1 32 1-24 1 28 1-80 1 28 1 34 1-24 1 31 1 11 1-22 1 51 1-1 1-45 1 9 1 15 1 43 1-111 1 71 1 1 1-37 1 49 1-16 1 47 1-42 1-91 1 67 1 42 1-81 1 55 1 15 1-53 1 14 1 28 1-36 1 22 1 47 1-53 1-7 1-10 1 6 1 41 1-40 1-56 1 154 1-81 1 19 1-58 1 85 1-63 1-22 1 21 1-7 1-67 1 40 1 18 1 15 1 38 1-2 1 1 1-55 1-12 1 66 1-36 1 13 1-70 1 10 1 7 1 82 1-41 1 93 1-152 1 124 1-78 1-8 1 47 1-10 1-61 1 66 1-40 1 37 1 16 1-38 1-4 1-32 1 42 1-14 1-31 1 80 1 19 1-38 1 22 1-31 1-5 1-54 1 68 1 29 1-7 1-66 1 8 1-15 1 40 1 31 1-101 1 47 1 4 1 54 1 28 1-126 1 49 1 20 1 73 1-30 1-27 1-62 1 52 1-66 1 71 1-45 1 41 1 56 1-110 1-36 1 122 1-74 1 21 1 29 1-59 1 52 1-13 1 13 1-34 1-19 1 6 1 53 1 2 1 28 1-72 1 44 1-23 1-18 1 71 1-17 1-25 1-48 1 33 1-18 1 73 1-84 1 47 1-7 1 28 1-58 1 9 1 51 1-26 1-73 1 48 1 17 1 2 1-29 1 19 1 11 1 1 1 6 1-27 1-30 1 49 1 9 1-15 1 34 1 14 1-53 1-44 1 54 1-22 1 29 1-48 1 40 1-2 1 38 1-37 1-38 1 7 1 20 1-21 1 15 1-2 1-24 1 86 1-118 1 47 1 13 1 29 1-29 1 44 1-5 1 22 1-38 1-14 1 42 1 7 1-64 1 55 1-12 1-21 1-16 1 0 1 9 1 27 1 5 1-53 1-4 1 30 1 12 1-15 1 2 1-31 1 30 1-42 1 19 1 33 1-18 1-12 1 0 1-16 1 21 1 20 1-55 1 89 1-66 1-58 1 34 1 70 1 79 1-58 1-73 1 24 1-16 1 15 1 26 1-37 1 16 1 1 1-19 1 59 1-21 1 47 1-68 1 34 1-41 1 17 1-13 1 18 1-31 1 36 1-4 1-56 1 59 1-63 1 64 1-26 1 6 1-43 1 83 1-50 1 29 1-4 1 17 1-44 1 8 1-41 1 99 1-48 1-54 1 55 1-15 1 14 1-25 1-26 1 62 1 48 1-56 1 58 1-94 1 80 1-60 1 30 1-18 1 18 1-40 1 46 1-1 1-40 1 55 1-45 1 84 1-113 1 41 1-12 1 33 1-54 1-45 1 85 1-33 1 38 1 24 1-21 1-41 1 39 1-77 1 50 1 16 1-19 1-1 1-35 1 54 1-2 1 0 1 78 1-39 1-67 1 11 1-21 1 63 1-88 1 29 1-27 1 40 1-7 1 46 1-42 1 41 1-19 1-29 1-14 1-12 1 49 1 54 1-110 1-15 1 56 1-26 1 124 1-109 1 41 1-1 1 49 1-83 1 63 1 26 1-71 1 3 1-10 1 31 1-14 1 17 1 24 1-86 1-3 1 97 1-96 1 25 1-24 1 49 1-33 1 54 1-29 1-58 1 27 1 28 1-21 1-11 1 88 1-66 1 13 1 5 1-37 1 48 1-28 1 49 1-33 1-22 1 11 1 27 1-10 1-29 1 6 1 67 1-49 1-27 1 20 1 6 1 19 1 12 1-60 1 39 1-16 1-14 1-40 1 58 1-47 1 62 1 0 1-16 1 7 1-34 1 95 1-50 1-12 1 34 1-38 1-36 1 35 1-71 1 108 1-54 1 4 1 27 1-11 1-8 1 10 1-26 1 40 1-91 1 38 1-18 1 54 1 17 1-79 1 80 1 24 1-83 1 5 1 28 1-47 1 59 1-67 1 5 1 43 1 37 1-102 1 43 1 76 1 41 1-49 1-25 1 11 1-42 1 41 1-1 1-24 1 11 1 33 1-44 1 26 1 69 1-116 1 92 1-44 1 41 1-58 1 63 1-42 1 24 1-36 1-73 1 76 1-37 1 16 1-13 1 52 1-36 1 21 1-19 1 14 1 7 1-10 1-6 1 32 1-64 1 77 1-57 1 14 1 5 1-27 1 18 1 72 1-70 1-38 1 45 1 16 1 71 1-125 1 31 1-25 1 59 1-25 1 52 1-46 1-43 1 51 1-60 1-5 1 39 1 41 1-34 1-6 1-23 1 3 1 23 1 51 1-69 1 46 1 1 1-20 1-35 1-8 1-42 1 79 1-51 1 115 1-124 1 4 1 59 1 3 1-27 1-15 1 43 1-7 1-65 1 77 1-42 1 12 1 20 1-36 1 23 1 2 1 43 1-39 1-57 1 64 1 1 1 3 1-38 1-8 1 35 1 62 1-115 1 46 1-24 1 34 1-43 1 21 1-1 1 53 1-29 1-24 1-33 1 21 1-31 1 95 1-17 1-20 1-31 1 32 1 13 1 6 1-5 1-69 1 39 1 35 1-25 1-27 1 38 1 48 1-28 1-28 1 50 1-20 1-40 1-29 1 44 1 62 1-134 1 101 1-47 1 78 1-43 1-48 1 47 1-68 1 67 1 5 1-38 1 6 1 20 1 25 1-43 1 43 1 0 1-61 1 36 1-82 1 23 1 20 1 21 1 4 1 7 1-31 1-27 1 89 1-29 1 31 1-46 1-6 1-23 1 32 1-7 1 93 1-78 1-58 1 45 1 127 1-110 1 79 1-85 1-21 1 59 1-133 1 41 1 118 1-81 1 75 1-61 1 17 1-35 1 10 1 2 1 63 1 1 1-101 1 80 1-49 1 47 1-68 1 11 1 43 1-14 1 53 1-98 1 60 1-45 1-18 1 15 1 47 1-33 1 18 1 78 1-71 1-24 1-14 1 13 1 13 1 5 1 21 1 30 1-34 1-27 1 3 1 5 1-15 1 18 1 32 1-70 1 21 1 33 1 11 1-54 1 19 1-40 1 40 1 50 1-18 1-54 1 76 1-35 1-6 1-12 1-21 1 6 1 28 1-48 1 52 1-28 1 122 1-93 1-28 1 59 1-35 1 9 1-72 1 78 1-83 1 50 1 17 1-8 1 34 1-79 1 12 1 29 1 11 1 60 1-16 1-65 1-3 1-10 1 52 1 7 1 6 1-22 1-22 1 25 1-65 1 102 1-42 1-14 1-42 1 45 1-26 1-1 1-15 1-8 1 48 1 42 1-75 1 81 1-33 1 14 1-13 1-4 1 39 1-23 1-103 1 94 1-81 1 60 1 2 1 93 1-140 1 86 1-61 1-10 1 35 1 13 1 19 1 8 1-52 1 8 1 18 1-59 1 45 1 67 1-73 1 0 1 34 1-28 1-26 1 26 1 5 1 1 1 6 1 13 1-22 1 45 1 4 1-27 1-75 1 54 1-2 1-26 1 35 1 1 1-76 1 68 1-53 1 64 1-40 1-24 1 63 1-13 1-58 1 62 1-14 1-6 1 40 1 36 1-15 1-39 1-21 1 33 1 10 1-30 1-7 1 4 1 5 1-35 1 42 1-21 1 11 1 7 1 6 1 83 1-56 1-62 1 4 1-5 1 41 1-41 1 22 1-8 1-2 1 16 1 31 1-60 1 81 1-74 1-39 1 36 1 20 1 9 1-75 1 60 1 6 1-47 1 35 1-9 1-53 1 136 1-78 1 37 1-39 1-3 1 16 1-12 1-15 1 11 1 40 1-26 1 4 1 14 1 11 1-42 1 36 1-26 1-13 1-33 1 18 1 5 1 20 1-9 1 66 1-67 1 1 1-2 1 53 1 1 1 8 1-67 1 20 1 13 1-15 1 10 1 40 1-54 1 5 1-11 1-7 1 10 1-8 1 73" stroke="#0000ff" stroke-width="0.9" fill="none"/>
<path d="M616.7 85.6L689.6 85.6L689.6 82.1L762.5 82.1L762.5 89.3L835.4 89.3L835.4 85.7L908.29 85.7L908.29 82.1L1005.49 82.1" stroke="#fff" stroke-width="2.6" fill="none"/></g>
<rect x="616.7" y="43.6" width="388.9" height="86.1" fill="none" stroke="#2a2a2a" stroke-width="1.2"/>
<rect x="96.6" y="216.6" width="389.3" height="85.7" fill="url(#gB)"/>
<path d="M96.6 302.3V293.2M96.6 216.6V225.7M144.06 302.3V293.2M144.06 216.6V225.7M191.52 302.3V293.2M191.52 216.6V225.7M238.98 302.3V293.2M238.98 216.6V225.7M286.44 302.3V293.2M286.44 216.6V225.7M333.9 302.3V293.2M333.9 216.6V225.7M381.36 302.3V293.2M381.36 216.6V225.7M428.82 302.3V293.2M428.82 216.6V225.7M476.28 302.3V293.2M476.28 216.6V225.7M96.6 292.3H105.7M485.9 292.3H476.8M96.6 267.1H105.7M485.9 267.1H476.8M96.6 241.9H105.7M485.9 241.9H476.8M96.6 216.7H105.7M485.9 216.7H476.8" stroke="#9696a0" stroke-width="0.85" fill="none"/>
<g clip-path="url(#cBL)"><path d="M108.75 295.58 114.82 295.58 120.9 295.58 126.97 295.58 133.05 295.58 139.12 295.58 145.2 295.58 151.27 295.58 157.35 295.58 163.42 295.58 169.5 295.58 175.57 295.58 181.65 295.58 187.72 280.33 193.8 224.01 199.87 294.82 205.95 295.32 212.02 295.95 218.1 295.45 224.17 295.7 230.25 295.58 236.32 295.58 242.4 295.58 248.47 295.58 254.55 295.58 260.62 295.58 266.7 295.58 272.77 295.58 278.85 295.58 284.92 281.34 291 248.96 297.07 295.58 303.15 295.58 309.22 295.58 315.3 295.58 321.37 295.58 327.45 295.58 333.52 295.32 339.6 295.83 345.67 295.95 351.74 295.58 357.82 295.45 363.89 295.58 369.97 295.58 376.04 295.58 382.12 295.58 388.19 249.71 394.27 295.58 400.34 295.58 406.42 295.58 412.49 295.58 418.57 295.58 424.64 295.58 430.72 295.58 436.79 295.58 442.87 295.58 448.94 295.58 455.02 295.58 461.09 295.58 467.17 295.58" stroke="#0000ff" stroke-width="2.6" fill="none" stroke-miterlimit="10"/></g>
<rect x="96.6" y="216.6" width="389.3" height="85.7" fill="none" stroke="#2a2a2a" stroke-width="1.2"/>
<rect x="617.5" y="216.6" width="389.5" height="85.8" fill="url(#gB)"/>
<path d="M617.5 302.4V293.3M617.5 216.6V225.7M665 302.4V293.3M665 216.6V225.7M712.5 302.4V293.3M712.5 216.6V225.7M760 302.4V293.3M760 216.6V225.7M807.5 302.4V293.3M807.5 216.6V225.7M855 302.4V293.3M855 216.6V225.7M902.5 302.4V293.3M902.5 216.6V225.7M950 302.4V293.3M950 216.6V225.7M997.5 302.4V293.3M997.5 216.6V225.7M617.5 292.6H626.6M1007 292.6H997.9M617.5 271.86H626.6M1007 271.86H997.9M617.5 251.12H626.6M1007 251.12H997.9M617.5 230.38H626.6M1007 230.38H997.9" stroke="#9696a0" stroke-width="0.85" fill="none"/>
<g clip-path="url(#cBR)"><path d="M641.82 295.71 647.9 295.71 653.98 295.71 660.06 295.71 666.14 295.71 672.22 295.71 678.3 295.19 684.38 294.67 690.46 278.6 696.54 295.09 702.62 295.4 708.7 295.92 714.78 294.88 720.86 294.88 726.94 295.92 733.02 295.71 739.1 295.19 745.18 294.78 751.26 293.22 757.34 280.88 763.42 217.62 769.5 280.88 775.58 294.47 781.66 295.4 787.74 295.71 793.82 295.71 799.9 295.71 805.98 295.71 812.06 295.71 818.14 295.71 824.22 295.71 830.3 288.97 836.38 282.23 842.46 295.09 848.54 295.71 854.62 295.71 860.7 295.71 866.78 295.71 872.86 295.71 878.94 295.71 885.02 295.71 891.1 295.71 897.18 293.84 903.26 295.71 909.34 282.96 915.42 285.96 921.5 294.67 927.58 295.71 933.66 295.71 939.74 295.71 945.82 295.71 951.9 295.71 957.98 295.71 964.06 295.71 970.14 295.71 976.22 295.71" stroke="#0000ff" stroke-width="2.6" fill="none" stroke-miterlimit="10"/></g>
<rect x="617.5" y="216.6" width="389.5" height="85.8" fill="none" stroke="#2a2a2a" stroke-width="1.2"/>
</svg>
<svg width="1024" height="375" viewBox="0 0 1024 375" style="position:absolute;left:0;top:0;will-change:transform">
<g font-family='"Liberation Serif", serif' font-size="20.7" word-spacing="2.4" fill="#000">
<text x="290" y="23.4" text-anchor="middle" textLength="205.88" lengthAdjust="spacingAndGlyphs">fGn with three breaks</text>
<text x="811" y="23.4" text-anchor="middle" textLength="196.81" lengthAdjust="spacingAndGlyphs">fGn with four breaks</text>
<text x="291.5" y="192.5" text-anchor="middle" textLength="167.99" lengthAdjust="spacingAndGlyphs">Wavelet <tspan font-style="italic">q</tspan>-entropy</text>
<text x="812" y="192.5" text-anchor="middle" textLength="166.97" lengthAdjust="spacingAndGlyphs">Wavelet <tspan font-style="italic">q</tspan>-entropy</text>
<text x="290.25" y="360.2" text-anchor="middle" textLength="65.94" lengthAdjust="spacingAndGlyphs">Time, <tspan font-style="italic">t</tspan></text>
<text x="811.25" y="360.2" text-anchor="middle" textLength="65.94" lengthAdjust="spacingAndGlyphs">Time, <tspan font-style="italic">t</tspan></text>
<text x="95" y="154.2" text-anchor="middle" textLength="10.81" lengthAdjust="spacingAndGlyphs">0</text>
<text x="142.55" y="154.2" text-anchor="middle" textLength="25.94" lengthAdjust="spacingAndGlyphs">0.2</text>
<text x="187.8" y="154.2" text-anchor="middle" textLength="26.75" lengthAdjust="spacingAndGlyphs">0.4</text>
<text x="238.66" y="154.2" text-anchor="middle" textLength="25.61" lengthAdjust="spacingAndGlyphs">0.6</text>
<text x="284.11" y="154.2" text-anchor="middle" textLength="25.93" lengthAdjust="spacingAndGlyphs">0.8</text>
<text x="331.46" y="154.2" text-anchor="middle" textLength="12" lengthAdjust="spacingAndGlyphs">1</text>
<text x="379.21" y="154.2" text-anchor="middle" textLength="26.6" lengthAdjust="spacingAndGlyphs">1.2</text>
<text x="424.36" y="154.2" text-anchor="middle" textLength="26.06" lengthAdjust="spacingAndGlyphs">1.4</text>
<text x="475.02" y="154.2" text-anchor="middle" textLength="26.88" lengthAdjust="spacingAndGlyphs">1.6</text>
<text x="615.6" y="154.3" text-anchor="middle" textLength="10.81" lengthAdjust="spacingAndGlyphs">0</text>
<text x="662.96" y="154.3" text-anchor="middle" textLength="26.36" lengthAdjust="spacingAndGlyphs">0.2</text>
<text x="708.52" y="154.3" text-anchor="middle" textLength="25.93" lengthAdjust="spacingAndGlyphs">0.4</text>
<text x="758.88" y="154.3" text-anchor="middle" textLength="26.06" lengthAdjust="spacingAndGlyphs">0.6</text>
<text x="804.94" y="154.3" text-anchor="middle" textLength="26.6" lengthAdjust="spacingAndGlyphs">0.8</text>
<text x="851.4" y="154.3" text-anchor="middle" textLength="13.22" lengthAdjust="spacingAndGlyphs">1</text>
<text x="899.16" y="154.3" text-anchor="middle" textLength="26.49" lengthAdjust="spacingAndGlyphs">1.2</text>
<text x="945.02" y="154.3" text-anchor="middle" textLength="26.36" lengthAdjust="spacingAndGlyphs">1.4</text>
<text x="995.38" y="154.3" text-anchor="middle" textLength="26.11" lengthAdjust="spacingAndGlyphs">1.6</text>
<text x="94.6" y="323.6" text-anchor="middle" textLength="12.26" lengthAdjust="spacingAndGlyphs">0</text>
<text x="142.06" y="323.6" text-anchor="middle" textLength="26.32" lengthAdjust="spacingAndGlyphs">0.2</text>
<text x="187.32" y="323.6" text-anchor="middle" textLength="26.97" lengthAdjust="spacingAndGlyphs">0.4</text>
<text x="237.88" y="323.6" text-anchor="middle" textLength="25.96" lengthAdjust="spacingAndGlyphs">0.6</text>
<text x="282.84" y="323.6" text-anchor="middle" textLength="27.07" lengthAdjust="spacingAndGlyphs">0.8</text>
<text x="330.9" y="323.6" text-anchor="middle" textLength="12.09" lengthAdjust="spacingAndGlyphs">1</text>
<text x="378.06" y="323.6" text-anchor="middle" textLength="27.11" lengthAdjust="spacingAndGlyphs">1.2</text>
<text x="423.52" y="323.6" text-anchor="middle" textLength="26.14" lengthAdjust="spacingAndGlyphs">1.4</text>
<text x="474.28" y="323.6" text-anchor="middle" textLength="26.11" lengthAdjust="spacingAndGlyphs">1.6</text>
<text x="618.1" y="329.2" text-anchor="middle" textLength="12.02" lengthAdjust="spacingAndGlyphs">0</text>
<text x="665.9" y="329.2" text-anchor="middle" textLength="27.19" lengthAdjust="spacingAndGlyphs">0.2</text>
<text x="710.7" y="329.2" text-anchor="middle" textLength="26.29" lengthAdjust="spacingAndGlyphs">0.4</text>
<text x="761.2" y="329.2" text-anchor="middle" textLength="26.52" lengthAdjust="spacingAndGlyphs">0.6</text>
<text x="806.8" y="329.2" text-anchor="middle" textLength="26.96" lengthAdjust="spacingAndGlyphs">0.8</text>
<text x="853.6" y="329.2" text-anchor="middle" textLength="12.09" lengthAdjust="spacingAndGlyphs">1</text>
<text x="901.3" y="329.2" text-anchor="middle" textLength="26.64" lengthAdjust="spacingAndGlyphs">1.2</text>
<text x="946.9" y="329.2" text-anchor="middle" textLength="26.28" lengthAdjust="spacingAndGlyphs">1.4</text>
<text x="996.5" y="329.2" text-anchor="middle" textLength="26.11" lengthAdjust="spacingAndGlyphs">1.6</text>
<text x="87.6" y="56.51" text-anchor="end">4</text>
<text x="88.6" y="74.53" text-anchor="end">2</text>
<text x="87.6" y="92.55" text-anchor="end">0</text>
<text x="88.2" y="109.77" text-anchor="end" textLength="26.37" lengthAdjust="spacingAndGlyphs">&#8722;2</text>
<text x="87.2" y="127.79" text-anchor="end" textLength="25.42" lengthAdjust="spacingAndGlyphs">&#8722;4</text>
<text x="608.6" y="56.56" text-anchor="end">4</text>
<text x="609.6" y="74.58" text-anchor="end">2</text>
<text x="609.6" y="92.6" text-anchor="end">0</text>
<text x="610.7" y="109.82" text-anchor="end" textLength="26.75" lengthAdjust="spacingAndGlyphs">&#8722;2</text>
<text x="608.2" y="127.84" text-anchor="end" textLength="25.01" lengthAdjust="spacingAndGlyphs">&#8722;4</text>
<text x="88.6" y="223.7" text-anchor="end">6</text>
<text x="88.6" y="248.9" text-anchor="end">4</text>
<text x="89.6" y="274.1" text-anchor="end">2</text>
<text x="88.6" y="299.3" text-anchor="end">0</text>
<text x="610.9" y="237.38" text-anchor="end">6</text>
<text x="610.9" y="258.12" text-anchor="end">4</text>
<text x="610.9" y="278.86" text-anchor="end">2</text>
<text x="610.9" y="299.6" text-anchor="end">0</text>
<path d="M450.25 166.65L461.55 178.25M450.25 178.25L461.55 166.65" stroke="#111" stroke-width="1.05" fill="none"/>
<text x="468" y="180.6" textLength="20.3" lengthAdjust="spacingAndGlyphs">10</text>
<text x="488.3" y="172.9" font-size="15">4</text>
<path d="M971.25 166.65L982.55 178.25M971.25 178.25L982.55 166.65" stroke="#111" stroke-width="1.05" fill="none"/>
<text x="989" y="180.6" textLength="20.3" lengthAdjust="spacingAndGlyphs">10</text>
<text x="1009.3" y="172.9" font-size="15">4</text>
<path d="M449.45 343.55L460.75 355.15M449.45 355.15L460.75 343.55" stroke="#111" stroke-width="1.05" fill="none"/>
<text x="467.2" y="357.5" textLength="20.3" lengthAdjust="spacingAndGlyphs">10</text>
<text x="487.5" y="349.8" font-size="15">4</text>
<path d="M970.45 343.55L981.75 355.15M970.45 355.15L981.75 343.55" stroke="#111" stroke-width="1.05" fill="none"/>
<text x="988.2" y="357.5" textLength="20.3" lengthAdjust="spacingAndGlyphs">10</text>
<text x="1008.5" y="349.8" font-size="15">4</text>
<text transform="translate(26.3 86.4) rotate(-90)" x="0.1" y="0" text-anchor="middle" textLength="91.3" lengthAdjust="spacingAndGlyphs">fGn, <tspan font-style="italic">X</tspan>(<tspan font-style="italic">t</tspan>)</text>
<text transform="translate(547.7 86.4) rotate(-90)" x="0.2" y="0" text-anchor="middle" textLength="91.11" lengthAdjust="spacingAndGlyphs">fGn, <tspan font-style="italic">X</tspan>(<tspan font-style="italic">t</tspan>)</text>
<g transform="translate(26.8 286.8) rotate(-90)">
<path transform="translate(-0.9 0.3) scale(0.0207 -0.0207)" d="M331 335C344 382 357 433 367 481C379 548 386 615 386 627C386 683 331 683 319 683C243 683 175 655 128 623C47 568 21 501 21 496C21 489 28 489 31 489C39 489 86 501 107 539C134 590 163 628 253 628C294 628 301 600 301 584C301 583 298 536 286 467C281 439 278 421 257 335H221C193 334 147 302 147 287C147 281 148 280 170 280H242C221 210 193 114 147 -8C138 -31 138 -33 138 -34C138 -41 146 -41 148 -41C162 -41 193 -28 213 -8C218 -2 220 0 224 10C259 98 289 188 315 280H540C551 280 570 280 586 290C575 248 534 85 534 6C534 -23 551 -49 594 -49C727 -49 801 34 801 66C801 72 796 74 791 74C783 74 730 60 715 21C711 13 710 12 691 9C680 7 661 6 660 6C642 6 619 18 619 49C619 61 626 116 629 138C646 249 695 437 781 665C784 672 784 674 784 676C784 683 778 683 774 683C759 683 730 669 711 652C710 650 704 645 700 636C660 538 629 437 599 335Z"/>
<text x="19.6" y="-7.6" font-size="15" font-style="italic">T</text>
<text x="20.0" y="5.6" font-size="14.5" font-style="italic">q</text>
<text x="33.8" y="-0.1" font-size="23.5" textLength="19.6" lengthAdjust="spacingAndGlyphs">(.)</text>
</g>
<g transform="translate(548.3 286.2) rotate(-90)">
<path transform="translate(-0.9 0.3) scale(0.0207 -0.0207)" d="M331 335C344 382 357 433 367 481C379 548 386 615 386 627C386 683 331 683 319 683C243 683 175 655 128 623C47 568 21 501 21 496C21 489 28 489 31 489C39 489 86 501 107 539C134 590 163 628 253 628C294 628 301 600 301 584C301 583 298 536 286 467C281 439 278 421 257 335H221C193 334 147 302 147 287C147 281 148 280 170 280H242C221 210 193 114 147 -8C138 -31 138 -33 138 -34C138 -41 146 -41 148 -41C162 -41 193 -28 213 -8C218 -2 220 0 224 10C259 98 289 188 315 280H540C551 280 570 280 586 290C575 248 534 85 534 6C534 -23 551 -49 594 -49C727 -49 801 34 801 66C801 72 796 74 791 74C783 74 730 60 715 21C711 13 710 12 691 9C680 7 661 6 660 6C642 6 619 18 619 49C619 61 626 116 629 138C646 249 695 437 781 665C784 672 784 674 784 676C784 683 778 683 774 683C759 683 730 669 711 652C710 650 704 645 700 636C660 538 629 437 599 335Z"/>
<text x="19.6" y="-7.6" font-size="15" font-style="italic">T</text>
<text x="20.0" y="5.6" font-size="14.5" font-style="italic">q</text>
<text x="33.8" y="-0.1" font-size="23.5" textLength="19.6" lengthAdjust="spacingAndGlyphs">(.)</text>
</g>
</g></svg>
</body></html>
